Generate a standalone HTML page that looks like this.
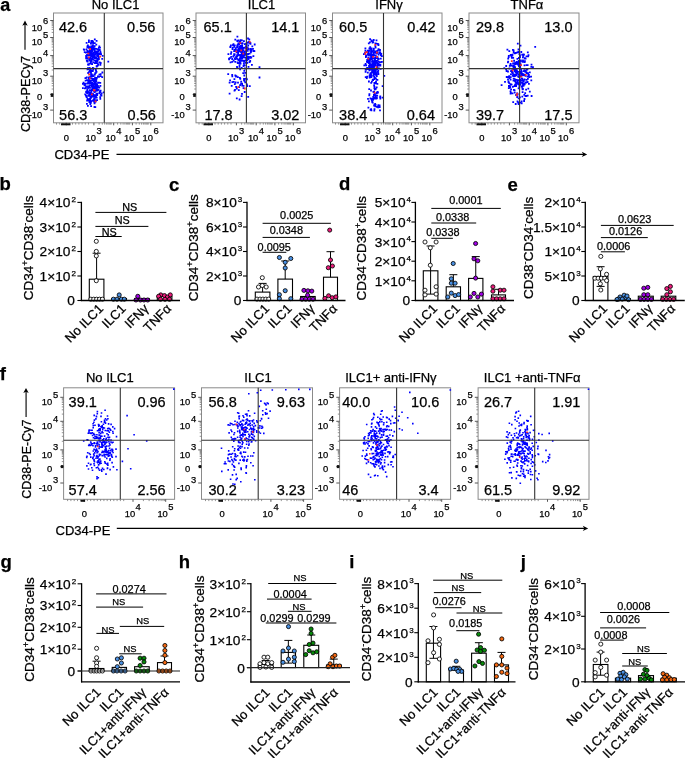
<!DOCTYPE html>
<html><head><meta charset="utf-8"><style>
html,body{margin:0;padding:0;background:#fff;width:685px;height:758px;overflow:hidden}
svg{display:block;will-change:transform}
text{font-family:"Liberation Sans", sans-serif;stroke:#000;stroke-width:0.25px}
</style></head><body>
<svg width="685" height="758" viewBox="0 0 685 758" font-family="Liberation Sans, sans-serif">
<rect width="685" height="758" fill="#fff"/>
<text x="0.20" y="11.00" font-size="18" text-anchor="start" font-weight="bold" fill="#000" >a</text>
<path d="M95.0 59.6h1.8v1.8h-1.8zM90.0 42.6h1.8v1.8h-1.8zM93.7 45.3h1.8v1.8h-1.8zM90.6 54.1h1.8v1.8h-1.8zM95.8 51.4h1.8v1.8h-1.8zM92.3 48.8h1.8v1.8h-1.8zM93.6 59.5h1.8v1.8h-1.8zM95.0 52.4h1.8v1.8h-1.8zM82.9 48.4h1.8v1.8h-1.8zM95.5 62.1h1.8v1.8h-1.8zM96.5 53.7h1.8v1.8h-1.8zM89.3 51.7h1.8v1.8h-1.8zM94.8 50.8h1.8v1.8h-1.8zM85.7 42.0h1.8v1.8h-1.8zM86.5 46.5h1.8v1.8h-1.8zM88.3 53.2h1.8v1.8h-1.8zM87.9 52.4h1.8v1.8h-1.8zM88.6 59.6h1.8v1.8h-1.8zM95.7 39.9h1.8v1.8h-1.8zM91.9 67.1h1.8v1.8h-1.8zM90.3 41.8h1.8v1.8h-1.8zM86.1 53.9h1.8v1.8h-1.8zM88.0 41.1h1.8v1.8h-1.8zM92.2 42.5h1.8v1.8h-1.8zM97.7 56.5h1.8v1.8h-1.8zM89.7 62.6h1.8v1.8h-1.8zM92.0 44.4h1.8v1.8h-1.8zM94.2 53.8h1.8v1.8h-1.8zM84.9 51.7h1.8v1.8h-1.8zM86.2 60.0h1.8v1.8h-1.8zM89.2 46.8h1.8v1.8h-1.8zM91.2 49.5h1.8v1.8h-1.8zM93.0 51.9h1.8v1.8h-1.8zM92.0 56.6h1.8v1.8h-1.8zM90.5 50.7h1.8v1.8h-1.8zM96.3 51.1h1.8v1.8h-1.8zM87.9 54.5h1.8v1.8h-1.8zM94.0 62.2h1.8v1.8h-1.8zM93.9 57.3h1.8v1.8h-1.8zM97.5 49.5h1.8v1.8h-1.8zM89.2 56.7h1.8v1.8h-1.8zM89.2 57.0h1.8v1.8h-1.8zM97.7 53.1h1.8v1.8h-1.8zM93.8 53.7h1.8v1.8h-1.8zM88.1 45.8h1.8v1.8h-1.8zM93.8 47.6h1.8v1.8h-1.8zM85.2 57.4h1.8v1.8h-1.8zM93.0 53.3h1.8v1.8h-1.8zM87.1 63.6h1.8v1.8h-1.8zM92.3 53.1h1.8v1.8h-1.8zM90.5 45.5h1.8v1.8h-1.8zM88.4 58.6h1.8v1.8h-1.8zM96.6 64.9h1.8v1.8h-1.8zM91.2 63.2h1.8v1.8h-1.8zM95.9 60.5h1.8v1.8h-1.8zM94.9 57.3h1.8v1.8h-1.8zM89.2 51.1h1.8v1.8h-1.8zM85.2 56.3h1.8v1.8h-1.8zM93.2 54.6h1.8v1.8h-1.8zM94.6 54.0h1.8v1.8h-1.8zM97.4 58.7h1.8v1.8h-1.8zM96.8 62.6h1.8v1.8h-1.8zM91.6 46.7h1.8v1.8h-1.8zM98.8 61.6h1.8v1.8h-1.8zM99.5 63.9h1.8v1.8h-1.8zM95.1 50.6h1.8v1.8h-1.8zM92.8 47.1h1.8v1.8h-1.8zM97.3 54.2h1.8v1.8h-1.8zM96.5 60.5h1.8v1.8h-1.8zM86.7 54.6h1.8v1.8h-1.8zM101.3 57.9h1.8v1.8h-1.8zM91.1 52.6h1.8v1.8h-1.8zM99.5 50.7h1.8v1.8h-1.8zM97.7 55.8h1.8v1.8h-1.8zM92.7 53.4h1.8v1.8h-1.8zM93.7 51.1h1.8v1.8h-1.8zM88.8 67.1h1.8v1.8h-1.8zM94.7 51.7h1.8v1.8h-1.8zM87.8 63.4h1.8v1.8h-1.8zM98.5 49.1h1.8v1.8h-1.8zM90.8 57.8h1.8v1.8h-1.8zM89.6 46.9h1.8v1.8h-1.8zM101.8 55.0h1.8v1.8h-1.8zM91.6 40.0h1.8v1.8h-1.8zM97.3 53.9h1.8v1.8h-1.8zM89.8 56.6h1.8v1.8h-1.8zM91.7 58.4h1.8v1.8h-1.8zM91.9 55.2h1.8v1.8h-1.8zM93.7 50.1h1.8v1.8h-1.8zM95.5 57.1h1.8v1.8h-1.8zM88.8 49.0h1.8v1.8h-1.8zM92.7 51.8h1.8v1.8h-1.8zM99.9 52.6h1.8v1.8h-1.8zM95.1 51.2h1.8v1.8h-1.8zM85.6 48.4h1.8v1.8h-1.8zM88.8 57.2h1.8v1.8h-1.8zM91.7 47.1h1.8v1.8h-1.8zM89.5 49.9h1.8v1.8h-1.8zM94.5 56.3h1.8v1.8h-1.8zM97.4 58.2h1.8v1.8h-1.8zM93.6 49.3h1.8v1.8h-1.8zM88.5 62.7h1.8v1.8h-1.8zM85.2 55.1h1.8v1.8h-1.8zM90.2 45.6h1.8v1.8h-1.8zM91.9 46.7h1.8v1.8h-1.8zM90.9 54.6h1.8v1.8h-1.8zM97.2 50.4h1.8v1.8h-1.8zM91.3 50.5h1.8v1.8h-1.8zM88.4 54.2h1.8v1.8h-1.8zM83.4 48.9h1.8v1.8h-1.8zM88.0 39.4h1.8v1.8h-1.8zM96.4 57.9h1.8v1.8h-1.8zM88.3 47.2h1.8v1.8h-1.8zM87.5 53.2h1.8v1.8h-1.8zM94.5 61.6h1.8v1.8h-1.8zM93.9 42.3h1.8v1.8h-1.8zM96.7 53.6h1.8v1.8h-1.8zM91.3 47.9h1.8v1.8h-1.8zM85.9 56.7h1.8v1.8h-1.8zM95.6 47.9h1.8v1.8h-1.8zM90.2 55.5h1.8v1.8h-1.8zM98.0 47.0h1.8v1.8h-1.8zM97.3 63.9h1.8v1.8h-1.8zM92.3 61.4h1.8v1.8h-1.8zM90.0 61.4h1.8v1.8h-1.8zM86.6 60.6h1.8v1.8h-1.8zM96.4 59.6h1.8v1.8h-1.8zM98.0 58.2h1.8v1.8h-1.8zM89.3 53.0h1.8v1.8h-1.8zM98.9 48.9h1.8v1.8h-1.8zM96.0 51.8h1.8v1.8h-1.8zM89.2 57.3h1.8v1.8h-1.8zM87.0 44.6h1.8v1.8h-1.8zM89.8 47.1h1.8v1.8h-1.8zM97.2 52.6h1.8v1.8h-1.8zM91.6 54.3h1.8v1.8h-1.8zM87.5 52.5h1.8v1.8h-1.8zM92.8 55.4h1.8v1.8h-1.8zM83.8 51.3h1.8v1.8h-1.8zM92.1 41.1h1.8v1.8h-1.8zM99.1 46.8h1.8v1.8h-1.8zM98.4 45.5h1.8v1.8h-1.8zM91.9 44.4h1.8v1.8h-1.8zM95.4 51.1h1.8v1.8h-1.8zM95.2 51.3h1.8v1.8h-1.8zM90.2 60.5h1.8v1.8h-1.8zM92.4 58.7h1.8v1.8h-1.8zM89.6 54.2h1.8v1.8h-1.8zM95.0 62.3h1.8v1.8h-1.8zM89.9 68.4h1.8v1.8h-1.8zM86.4 50.0h1.8v1.8h-1.8zM87.8 64.0h1.8v1.8h-1.8zM87.2 50.5h1.8v1.8h-1.8zM85.9 59.7h1.8v1.8h-1.8zM99.3 53.1h1.8v1.8h-1.8zM90.3 58.5h1.8v1.8h-1.8zM86.7 57.6h1.8v1.8h-1.8zM93.6 56.0h1.8v1.8h-1.8zM92.5 55.9h1.8v1.8h-1.8zM87.3 51.1h1.8v1.8h-1.8zM90.5 60.1h1.8v1.8h-1.8zM88.9 47.4h1.8v1.8h-1.8zM86.4 50.7h1.8v1.8h-1.8zM93.9 38.5h1.8v1.8h-1.8zM91.7 44.4h1.8v1.8h-1.8zM93.2 53.7h1.8v1.8h-1.8zM90.0 52.4h1.8v1.8h-1.8zM99.8 62.0h1.8v1.8h-1.8zM90.5 39.9h1.8v1.8h-1.8zM91.3 52.5h1.8v1.8h-1.8zM92.6 55.5h1.8v1.8h-1.8zM98.0 57.3h1.8v1.8h-1.8zM86.5 51.3h1.8v1.8h-1.8zM91.8 45.3h1.8v1.8h-1.8zM99.2 52.4h1.8v1.8h-1.8zM90.3 48.9h1.8v1.8h-1.8zM96.4 55.2h1.8v1.8h-1.8zM94.3 56.2h1.8v1.8h-1.8zM100.2 53.5h1.8v1.8h-1.8zM96.9 48.5h1.8v1.8h-1.8zM97.7 57.8h1.8v1.8h-1.8zM95.4 43.8h1.8v1.8h-1.8zM86.5 45.6h1.8v1.8h-1.8zM99.8 62.1h1.8v1.8h-1.8zM88.5 50.4h1.8v1.8h-1.8zM91.3 55.1h1.8v1.8h-1.8zM85.5 76.9h1.8v1.8h-1.8zM88.5 101.3h1.8v1.8h-1.8zM90.0 84.7h1.8v1.8h-1.8zM86.7 82.5h1.8v1.8h-1.8zM92.4 87.8h1.8v1.8h-1.8zM90.3 74.0h1.8v1.8h-1.8zM92.6 67.5h1.8v1.8h-1.8zM90.9 74.1h1.8v1.8h-1.8zM91.9 83.0h1.8v1.8h-1.8zM87.6 81.9h1.8v1.8h-1.8zM89.9 97.1h1.8v1.8h-1.8zM93.8 78.1h1.8v1.8h-1.8zM91.1 75.1h1.8v1.8h-1.8zM92.7 85.4h1.8v1.8h-1.8zM94.1 94.9h1.8v1.8h-1.8zM86.2 92.1h1.8v1.8h-1.8zM90.8 82.7h1.8v1.8h-1.8zM93.2 100.7h1.8v1.8h-1.8zM90.1 91.7h1.8v1.8h-1.8zM95.5 78.5h1.8v1.8h-1.8zM94.8 83.4h1.8v1.8h-1.8zM92.9 83.3h1.8v1.8h-1.8zM88.8 76.2h1.8v1.8h-1.8zM88.2 82.6h1.8v1.8h-1.8zM85.6 90.8h1.8v1.8h-1.8zM100.6 94.6h1.8v1.8h-1.8zM92.8 89.9h1.8v1.8h-1.8zM90.2 75.5h1.8v1.8h-1.8zM94.9 69.0h1.8v1.8h-1.8zM91.6 85.4h1.8v1.8h-1.8zM99.4 97.9h1.8v1.8h-1.8zM87.7 79.4h1.8v1.8h-1.8zM89.5 100.6h1.8v1.8h-1.8zM95.8 88.4h1.8v1.8h-1.8zM93.3 94.4h1.8v1.8h-1.8zM88.3 82.6h1.8v1.8h-1.8zM88.0 95.0h1.8v1.8h-1.8zM91.5 94.8h1.8v1.8h-1.8zM85.0 87.1h1.8v1.8h-1.8zM93.8 89.7h1.8v1.8h-1.8zM92.2 89.2h1.8v1.8h-1.8zM99.8 75.2h1.8v1.8h-1.8zM84.1 84.4h1.8v1.8h-1.8zM90.0 101.9h1.8v1.8h-1.8zM87.5 94.3h1.8v1.8h-1.8zM92.7 95.9h1.8v1.8h-1.8zM86.2 99.8h1.8v1.8h-1.8zM88.6 97.9h1.8v1.8h-1.8zM94.4 80.0h1.8v1.8h-1.8zM89.4 96.0h1.8v1.8h-1.8zM87.6 91.8h1.8v1.8h-1.8zM99.8 94.0h1.8v1.8h-1.8zM91.3 74.5h1.8v1.8h-1.8zM92.5 88.4h1.8v1.8h-1.8zM86.1 82.7h1.8v1.8h-1.8zM90.1 71.6h1.8v1.8h-1.8zM83.6 84.5h1.8v1.8h-1.8zM95.3 71.0h1.8v1.8h-1.8zM85.2 91.1h1.8v1.8h-1.8zM85.8 90.6h1.8v1.8h-1.8zM92.2 93.8h1.8v1.8h-1.8zM95.1 96.8h1.8v1.8h-1.8zM97.0 85.0h1.8v1.8h-1.8zM96.3 94.2h1.8v1.8h-1.8zM94.9 94.3h1.8v1.8h-1.8zM90.6 93.7h1.8v1.8h-1.8zM99.4 82.0h1.8v1.8h-1.8zM85.9 76.4h1.8v1.8h-1.8zM87.2 82.4h1.8v1.8h-1.8zM94.5 90.3h1.8v1.8h-1.8zM86.4 89.0h1.8v1.8h-1.8zM92.9 94.3h1.8v1.8h-1.8zM91.4 79.6h1.8v1.8h-1.8zM84.5 77.3h1.8v1.8h-1.8zM93.6 102.5h1.8v1.8h-1.8zM90.4 93.1h1.8v1.8h-1.8zM97.6 89.0h1.8v1.8h-1.8zM93.6 106.1h1.8v1.8h-1.8zM98.6 91.7h1.8v1.8h-1.8zM88.8 82.0h1.8v1.8h-1.8zM97.3 81.9h1.8v1.8h-1.8zM94.0 73.7h1.8v1.8h-1.8zM89.1 87.0h1.8v1.8h-1.8zM92.7 94.1h1.8v1.8h-1.8zM83.8 83.3h1.8v1.8h-1.8zM91.8 70.2h1.8v1.8h-1.8zM92.2 99.7h1.8v1.8h-1.8zM89.1 77.7h1.8v1.8h-1.8zM95.0 78.9h1.8v1.8h-1.8zM87.3 99.2h1.8v1.8h-1.8zM93.5 87.3h1.8v1.8h-1.8zM86.6 68.5h1.8v1.8h-1.8zM94.6 100.8h1.8v1.8h-1.8zM90.8 83.1h1.8v1.8h-1.8zM93.3 100.0h1.8v1.8h-1.8zM90.4 93.3h1.8v1.8h-1.8zM98.9 90.8h1.8v1.8h-1.8zM88.1 99.7h1.8v1.8h-1.8zM95.1 87.6h1.8v1.8h-1.8zM88.2 76.5h1.8v1.8h-1.8zM96.3 86.9h1.8v1.8h-1.8zM95.1 96.1h1.8v1.8h-1.8zM89.8 89.5h1.8v1.8h-1.8zM96.5 92.8h1.8v1.8h-1.8zM95.1 82.9h1.8v1.8h-1.8zM85.4 95.2h1.8v1.8h-1.8zM94.8 83.8h1.8v1.8h-1.8zM96.1 94.3h1.8v1.8h-1.8zM87.8 85.9h1.8v1.8h-1.8zM95.0 85.6h1.8v1.8h-1.8zM90.2 105.2h1.8v1.8h-1.8zM92.8 84.8h1.8v1.8h-1.8zM92.0 94.0h1.8v1.8h-1.8zM93.0 98.8h1.8v1.8h-1.8zM98.6 92.1h1.8v1.8h-1.8zM88.5 85.2h1.8v1.8h-1.8zM91.5 77.8h1.8v1.8h-1.8zM90.9 74.4h1.8v1.8h-1.8zM93.0 78.1h1.8v1.8h-1.8zM92.3 68.5h1.8v1.8h-1.8zM82.0 87.2h1.8v1.8h-1.8zM92.8 87.8h1.8v1.8h-1.8zM84.3 87.4h1.8v1.8h-1.8zM87.3 81.1h1.8v1.8h-1.8zM90.9 82.8h1.8v1.8h-1.8zM89.0 81.6h1.8v1.8h-1.8zM100.7 92.5h1.8v1.8h-1.8zM88.3 92.3h1.8v1.8h-1.8zM88.2 76.5h1.8v1.8h-1.8zM86.1 79.3h1.8v1.8h-1.8zM90.5 69.9h1.8v1.8h-1.8zM87.1 87.3h1.8v1.8h-1.8zM92.1 94.6h1.8v1.8h-1.8zM88.7 94.8h1.8v1.8h-1.8zM88.2 78.0h1.8v1.8h-1.8zM88.3 71.0h1.8v1.8h-1.8zM93.5 73.7h1.8v1.8h-1.8zM93.9 99.4h1.8v1.8h-1.8zM88.6 100.0h1.8v1.8h-1.8zM98.1 76.0h1.8v1.8h-1.8zM94.7 80.0h1.8v1.8h-1.8zM99.4 91.1h1.8v1.8h-1.8zM87.8 91.3h1.8v1.8h-1.8zM85.2 85.4h1.8v1.8h-1.8zM95.0 99.6h1.8v1.8h-1.8zM96.3 85.6h1.8v1.8h-1.8zM99.4 85.0h1.8v1.8h-1.8zM87.6 67.7h1.8v1.8h-1.8zM89.2 93.4h1.8v1.8h-1.8zM91.0 85.2h1.8v1.8h-1.8zM90.3 95.9h1.8v1.8h-1.8zM93.0 80.1h1.8v1.8h-1.8zM92.0 83.4h1.8v1.8h-1.8zM94.2 85.9h1.8v1.8h-1.8zM90.1 73.6h1.8v1.8h-1.8zM91.6 82.8h1.8v1.8h-1.8zM94.0 81.9h1.8v1.8h-1.8zM90.9 73.6h1.8v1.8h-1.8zM91.7 82.6h1.8v1.8h-1.8zM92.0 92.8h1.8v1.8h-1.8zM90.2 96.3h1.8v1.8h-1.8zM94.4 97.0h1.8v1.8h-1.8zM84.0 87.4h1.8v1.8h-1.8zM94.7 81.1h1.8v1.8h-1.8zM94.5 82.3h1.8v1.8h-1.8zM91.4 89.0h1.8v1.8h-1.8zM97.2 86.6h1.8v1.8h-1.8zM90.4 74.5h1.8v1.8h-1.8zM93.5 99.5h1.8v1.8h-1.8zM93.0 84.4h1.8v1.8h-1.8zM91.7 95.6h1.8v1.8h-1.8zM92.6 75.3h1.8v1.8h-1.8zM90.4 90.4h1.8v1.8h-1.8zM87.0 90.7h1.8v1.8h-1.8zM88.0 77.1h1.8v1.8h-1.8zM90.4 84.4h1.8v1.8h-1.8zM90.8 94.3h1.8v1.8h-1.8zM96.2 83.6h1.8v1.8h-1.8zM99.5 85.0h1.8v1.8h-1.8zM93.7 91.1h1.8v1.8h-1.8zM84.7 79.7h1.8v1.8h-1.8zM87.0 67.2h1.8v1.8h-1.8zM90.0 81.7h1.8v1.8h-1.8zM86.7 85.6h1.8v1.8h-1.8zM82.6 81.8h1.8v1.8h-1.8zM91.9 82.0h1.8v1.8h-1.8zM87.0 98.9h1.8v1.8h-1.8zM98.4 86.7h1.8v1.8h-1.8zM90.2 82.3h1.8v1.8h-1.8zM98.5 73.7h1.8v1.8h-1.8zM86.0 103.0h1.8v1.8h-1.8zM92.7 75.3h1.8v1.8h-1.8zM85.0 94.4h1.8v1.8h-1.8zM88.7 92.6h1.8v1.8h-1.8zM89.2 97.9h1.8v1.8h-1.8zM94.3 83.7h1.8v1.8h-1.8zM85.8 96.1h1.8v1.8h-1.8zM94.0 90.0h1.8v1.8h-1.8zM93.8 101.8h1.8v1.8h-1.8zM89.2 84.7h1.8v1.8h-1.8zM89.4 101.4h1.8v1.8h-1.8zM95.6 93.0h1.8v1.8h-1.8zM96.5 86.8h1.8v1.8h-1.8zM91.9 69.9h1.8v1.8h-1.8zM88.2 91.2h1.8v1.8h-1.8zM89.6 80.1h1.8v1.8h-1.8zM94.3 72.3h1.8v1.8h-1.8zM95.1 79.0h1.8v1.8h-1.8zM94.1 77.8h1.8v1.8h-1.8zM99.7 89.7h1.8v1.8h-1.8zM87.0 104.9h1.8v1.8h-1.8zM93.3 97.9h1.8v1.8h-1.8zM90.5 74.8h1.8v1.8h-1.8zM91.2 87.0h1.8v1.8h-1.8zM93.1 86.4h1.8v1.8h-1.8zM91.8 99.4h1.8v1.8h-1.8zM84.3 93.4h1.8v1.8h-1.8zM86.6 97.9h1.8v1.8h-1.8zM95.5 80.8h1.8v1.8h-1.8zM90.7 77.4h1.8v1.8h-1.8zM91.0 83.3h1.8v1.8h-1.8zM97.1 85.7h1.8v1.8h-1.8zM88.5 86.4h1.8v1.8h-1.8zM85.6 95.6h1.8v1.8h-1.8zM95.6 88.5h1.8v1.8h-1.8zM82.0 83.0h1.8v1.8h-1.8zM87.3 68.3h1.8v1.8h-1.8zM92.5 88.2h1.8v1.8h-1.8zM93.5 95.4h1.8v1.8h-1.8zM88.8 69.2h1.8v1.8h-1.8zM99.7 73.2h1.8v1.8h-1.8zM88.8 79.9h1.8v1.8h-1.8zM94.5 81.5h1.8v1.8h-1.8zM94.6 90.6h1.8v1.8h-1.8zM97.0 75.6h1.8v1.8h-1.8zM91.4 74.5h1.8v1.8h-1.8zM96.2 99.3h1.8v1.8h-1.8zM88.8 89.3h1.8v1.8h-1.8zM91.8 87.6h1.8v1.8h-1.8zM91.6 94.2h1.8v1.8h-1.8zM94.2 76.7h1.8v1.8h-1.8zM90.4 83.1h1.8v1.8h-1.8zM89.4 103.2h1.8v1.8h-1.8zM90.9 89.0h1.8v1.8h-1.8zM95.1 95.2h1.8v1.8h-1.8zM99.3 96.2h1.8v1.8h-1.8zM94.3 79.7h1.8v1.8h-1.8zM94.4 106.3h1.8v1.8h-1.8zM96.3 89.7h1.8v1.8h-1.8zM85.7 85.4h1.8v1.8h-1.8zM95.5 88.6h1.8v1.8h-1.8zM94.1 99.2h1.8v1.8h-1.8zM84.2 82.8h1.8v1.8h-1.8zM89.4 99.6h1.8v1.8h-1.8zM92.2 88.2h1.8v1.8h-1.8zM86.0 96.0h1.8v1.8h-1.8zM94.8 72.2h1.8v1.8h-1.8zM96.6 89.1h1.8v1.8h-1.8zM87.3 72.1h1.8v1.8h-1.8zM97.9 81.8h1.8v1.8h-1.8zM92.8 82.9h1.8v1.8h-1.8zM95.8 96.8h1.8v1.8h-1.8zM90.6 100.3h1.8v1.8h-1.8zM95.2 70.2h1.8v1.8h-1.8zM102.8 91.5h1.8v1.8h-1.8zM95.6 71.0h1.8v1.8h-1.8zM95.8 65.6h1.8v1.8h-1.8zM88.8 70.4h1.8v1.8h-1.8zM96.0 77.0h1.8v1.8h-1.8zM95.4 43.7h1.8v1.8h-1.8zM101.3 76.3h1.8v1.8h-1.8zM101.5 71.6h1.8v1.8h-1.8zM95.7 65.2h1.8v1.8h-1.8zM107.4 60.8h1.8v1.8h-1.8z" fill="#0000ff"/>
<path d="M87.5 52.7h1.8v1.8h-1.8zM89.2 48.1h1.8v1.8h-1.8zM99.3 55.8h1.8v1.8h-1.8zM88.0 56.5h1.8v1.8h-1.8zM93.6 89.8h1.8v1.8h-1.8zM88.2 73.6h1.8v1.8h-1.8zM89.0 77.4h1.8v1.8h-1.8zM94.6 100.5h1.8v1.8h-1.8zM91.0 93.5h1.8v1.8h-1.8zM93.0 89.1h1.8v1.8h-1.8z" fill="#ff2a2a"/>
<rect x="53.50" y="13.00" width="109.50" height="109.80" stroke="#8a8a8a" stroke-width="1" fill="none"/>
<line x1="104.30" y1="13.00" x2="104.30" y2="122.80" stroke="#333" stroke-width="1.1"/>
<line x1="53.50" y1="68.60" x2="163.00" y2="68.60" stroke="#333" stroke-width="1.1"/>
<text x="115.60" y="9.20" font-size="13" text-anchor="middle" font-weight="normal" fill="#000" >No ILC1</text>
<text x="58.90" y="32.40" font-size="14.5" text-anchor="start" font-weight="normal" fill="#000" >42.6</text>
<text x="155.30" y="32.40" font-size="14.5" text-anchor="end" font-weight="normal" fill="#000" >0.56</text>
<text x="59.10" y="120.20" font-size="14.5" text-anchor="start" font-weight="normal" fill="#000" >56.3</text>
<text x="155.80" y="120.20" font-size="14.5" text-anchor="end" font-weight="normal" fill="#000" >0.56</text>
<line x1="50.20" y1="20.50" x2="53.50" y2="20.50" stroke="#555" stroke-width="1"/>
<text transform="translate(42.20,31.40) scale(1.0,1)" font-size="9.4" text-anchor="end">10</text>
<text transform="translate(42.90,23.70) scale(1.0,1)" font-size="9.4" text-anchor="start">6</text>
<line x1="50.20" y1="37.50" x2="53.50" y2="37.50" stroke="#555" stroke-width="1"/>
<text transform="translate(42.20,45.30) scale(1.0,1)" font-size="9.4" text-anchor="end">10</text>
<text transform="translate(42.90,37.70) scale(1.0,1)" font-size="9.4" text-anchor="start">5</text>
<line x1="50.20" y1="55.60" x2="53.50" y2="55.60" stroke="#555" stroke-width="1"/>
<text transform="translate(42.20,63.40) scale(1.0,1)" font-size="9.4" text-anchor="end">10</text>
<text transform="translate(42.90,55.80) scale(1.0,1)" font-size="9.4" text-anchor="start">4</text>
<line x1="50.20" y1="76.20" x2="53.50" y2="76.20" stroke="#555" stroke-width="1"/>
<text transform="translate(42.20,84.00) scale(1.0,1)" font-size="9.4" text-anchor="end">10</text>
<text transform="translate(42.90,76.40) scale(1.0,1)" font-size="9.4" text-anchor="start">3</text>
<line x1="50.20" y1="94.50" x2="53.50" y2="94.50" stroke="#555" stroke-width="1"/>
<text transform="translate(42.10,100.10) scale(1.0,1)" font-size="9.4" text-anchor="end">0</text>
<line x1="50.20" y1="110.10" x2="53.50" y2="110.10" stroke="#555" stroke-width="1"/>
<text transform="translate(42.20,117.90) scale(1.0,1)" font-size="9.4" text-anchor="end">-10</text>
<text transform="translate(42.90,110.30) scale(1.0,1)" font-size="9.4" text-anchor="start">3</text>
<line x1="66.30" y1="122.80" x2="66.30" y2="125.30" stroke="#555" stroke-width="1"/>
<line x1="93.90" y1="122.80" x2="93.90" y2="125.30" stroke="#555" stroke-width="1"/>
<line x1="113.70" y1="122.80" x2="113.70" y2="125.30" stroke="#555" stroke-width="1"/>
<line x1="132.40" y1="122.80" x2="132.40" y2="125.30" stroke="#555" stroke-width="1"/>
<line x1="150.80" y1="122.80" x2="150.80" y2="125.30" stroke="#555" stroke-width="1"/>
<text transform="translate(66.30,140.50) scale(1.0,1)" font-size="9.4" text-anchor="middle">0</text>
<text transform="translate(85.60,140.50) scale(1.0,1)" font-size="9.4" text-anchor="start">10</text>
<text transform="translate(96.50,133.50) scale(1.0,1)" font-size="9.4" text-anchor="start">3</text>
<text transform="translate(105.40,140.50) scale(1.0,1)" font-size="9.4" text-anchor="start">10</text>
<text transform="translate(116.30,133.50) scale(1.0,1)" font-size="9.4" text-anchor="start">4</text>
<text transform="translate(124.10,140.50) scale(1.0,1)" font-size="9.4" text-anchor="start">10</text>
<text transform="translate(135.00,133.50) scale(1.0,1)" font-size="9.4" text-anchor="start">5</text>
<text transform="translate(142.50,140.50) scale(1.0,1)" font-size="9.4" text-anchor="start">10</text>
<text transform="translate(153.40,133.50) scale(1.0,1)" font-size="9.4" text-anchor="start">6</text>
<path d="M51.7 32.4h1.8M51.7 29.4h1.8M51.7 27.3h1.8M51.7 25.6h1.8M51.7 24.3h1.8M51.7 23.1h1.8M51.7 22.1h1.8M51.7 21.3h1.8M51.7 50.2h1.8M51.7 47.0h1.8M51.7 44.7h1.8M51.7 42.9h1.8M51.7 41.5h1.8M51.7 40.3h1.8M51.7 39.3h1.8M51.7 38.3h1.8M51.7 70.0h1.8M51.7 66.4h1.8M51.7 63.8h1.8M51.7 61.8h1.8M51.7 60.2h1.8M51.7 58.8h1.8M51.7 57.6h1.8M51.7 56.5h1.8M51.7 89.0h1.8M51.7 85.8h1.8M51.7 83.5h1.8M51.7 81.7h1.8M51.7 80.3h1.8M51.7 79.0h1.8M51.7 78.0h1.8M51.7 77.0h1.8" stroke="#777" stroke-width="0.8" fill="none"/>
<path d="M99.1 122.8v1.8M102.3 122.8v1.8M104.6 122.8v1.8M106.4 122.8v1.8M107.9 122.8v1.8M109.1 122.8v1.8M110.2 122.8v1.8M111.2 122.8v1.8M117.6 122.8v1.8M120.8 122.8v1.8M123.1 122.8v1.8M124.9 122.8v1.8M126.4 122.8v1.8M127.6 122.8v1.8M128.7 122.8v1.8M129.7 122.8v1.8M136.1 122.8v1.8M139.3 122.8v1.8M141.6 122.8v1.8M143.4 122.8v1.8M144.9 122.8v1.8M146.1 122.8v1.8M147.2 122.8v1.8M148.2 122.8v1.8M56.5 122.8v1.8M59.7 122.8v1.8M62.9 122.8v1.8M66.1 122.8v1.8M69.3 122.8v1.8M72.5 122.8v1.8M75.7 122.8v1.8M78.9 122.8v1.8M82.1 122.8v1.8M85.3 122.8v1.8M88.5 122.8v1.8" stroke="#777" stroke-width="0.8" fill="none"/>
<rect x="61.0" y="123.3" width="9.5" height="2" fill="#111"/>
<rect x="50.7" y="93.3" width="2.6" height="3.6" fill="#111"/>
<path d="M237.2 49.6h1.8v1.8h-1.8zM246.3 48.1h1.8v1.8h-1.8zM241.4 57.2h1.8v1.8h-1.8zM239.1 47.2h1.8v1.8h-1.8zM243.9 54.1h1.8v1.8h-1.8zM241.2 44.9h1.8v1.8h-1.8zM236.7 61.5h1.8v1.8h-1.8zM242.1 59.7h1.8v1.8h-1.8zM248.8 61.0h1.8v1.8h-1.8zM234.4 38.7h1.8v1.8h-1.8zM236.1 57.4h1.8v1.8h-1.8zM240.2 51.3h1.8v1.8h-1.8zM240.3 51.0h1.8v1.8h-1.8zM241.4 53.6h1.8v1.8h-1.8zM243.5 53.7h1.8v1.8h-1.8zM239.8 44.9h1.8v1.8h-1.8zM233.8 53.4h1.8v1.8h-1.8zM236.1 66.0h1.8v1.8h-1.8zM240.2 51.3h1.8v1.8h-1.8zM245.7 53.4h1.8v1.8h-1.8zM248.4 41.9h1.8v1.8h-1.8zM237.8 39.6h1.8v1.8h-1.8zM241.3 48.0h1.8v1.8h-1.8zM243.0 40.2h1.8v1.8h-1.8zM229.0 57.2h1.8v1.8h-1.8zM252.1 47.9h1.8v1.8h-1.8zM247.2 55.9h1.8v1.8h-1.8zM239.3 54.1h1.8v1.8h-1.8zM241.6 49.1h1.8v1.8h-1.8zM240.5 57.1h1.8v1.8h-1.8zM252.9 50.1h1.8v1.8h-1.8zM247.5 58.2h1.8v1.8h-1.8zM248.7 52.8h1.8v1.8h-1.8zM233.2 54.5h1.8v1.8h-1.8zM240.8 58.0h1.8v1.8h-1.8zM233.7 49.0h1.8v1.8h-1.8zM244.9 49.6h1.8v1.8h-1.8zM245.1 47.3h1.8v1.8h-1.8zM240.9 54.7h1.8v1.8h-1.8zM244.4 56.7h1.8v1.8h-1.8zM232.4 55.6h1.8v1.8h-1.8zM238.4 45.4h1.8v1.8h-1.8zM237.6 50.8h1.8v1.8h-1.8zM236.9 62.2h1.8v1.8h-1.8zM240.9 60.0h1.8v1.8h-1.8zM240.0 54.1h1.8v1.8h-1.8zM250.0 51.4h1.8v1.8h-1.8zM238.2 46.9h1.8v1.8h-1.8zM250.0 48.1h1.8v1.8h-1.8zM253.5 50.3h1.8v1.8h-1.8zM235.1 56.3h1.8v1.8h-1.8zM238.1 49.2h1.8v1.8h-1.8zM241.8 49.9h1.8v1.8h-1.8zM239.7 62.6h1.8v1.8h-1.8zM250.8 50.0h1.8v1.8h-1.8zM240.1 47.8h1.8v1.8h-1.8zM236.6 54.9h1.8v1.8h-1.8zM242.6 65.1h1.8v1.8h-1.8zM240.9 56.9h1.8v1.8h-1.8zM239.5 42.1h1.8v1.8h-1.8zM243.1 60.4h1.8v1.8h-1.8zM246.6 47.6h1.8v1.8h-1.8zM246.8 46.4h1.8v1.8h-1.8zM242.4 54.6h1.8v1.8h-1.8zM233.5 44.4h1.8v1.8h-1.8zM238.0 54.3h1.8v1.8h-1.8zM238.8 61.0h1.8v1.8h-1.8zM239.3 57.3h1.8v1.8h-1.8zM234.8 58.2h1.8v1.8h-1.8zM248.4 38.6h1.8v1.8h-1.8zM236.3 67.1h1.8v1.8h-1.8zM241.5 56.1h1.8v1.8h-1.8zM228.2 58.4h1.8v1.8h-1.8zM241.0 39.4h1.8v1.8h-1.8zM241.2 46.7h1.8v1.8h-1.8zM252.5 55.3h1.8v1.8h-1.8zM233.4 45.9h1.8v1.8h-1.8zM238.2 45.4h1.8v1.8h-1.8zM247.9 48.1h1.8v1.8h-1.8zM241.7 49.9h1.8v1.8h-1.8zM247.7 58.0h1.8v1.8h-1.8zM241.6 50.2h1.8v1.8h-1.8zM247.1 37.6h1.8v1.8h-1.8zM236.6 39.7h1.8v1.8h-1.8zM239.3 40.7h1.8v1.8h-1.8zM232.7 59.6h1.8v1.8h-1.8zM227.5 53.3h1.8v1.8h-1.8zM241.6 50.2h1.8v1.8h-1.8zM240.3 50.9h1.8v1.8h-1.8zM238.7 62.2h1.8v1.8h-1.8zM240.6 56.1h1.8v1.8h-1.8zM243.0 53.4h1.8v1.8h-1.8zM246.4 57.4h1.8v1.8h-1.8zM230.3 55.9h1.8v1.8h-1.8zM241.7 54.6h1.8v1.8h-1.8zM248.1 41.1h1.8v1.8h-1.8zM239.9 39.3h1.8v1.8h-1.8zM249.5 56.1h1.8v1.8h-1.8zM244.9 52.5h1.8v1.8h-1.8zM233.2 50.2h1.8v1.8h-1.8zM229.6 45.7h1.8v1.8h-1.8zM231.6 48.1h1.8v1.8h-1.8zM245.2 59.4h1.8v1.8h-1.8zM242.9 54.9h1.8v1.8h-1.8zM239.4 55.9h1.8v1.8h-1.8zM231.3 58.1h1.8v1.8h-1.8zM241.3 49.2h1.8v1.8h-1.8zM240.2 51.2h1.8v1.8h-1.8zM242.9 56.5h1.8v1.8h-1.8zM245.5 62.1h1.8v1.8h-1.8zM240.8 66.9h1.8v1.8h-1.8zM241.6 42.2h1.8v1.8h-1.8zM247.3 44.4h1.8v1.8h-1.8zM236.2 49.2h1.8v1.8h-1.8zM247.6 66.0h1.8v1.8h-1.8zM243.3 52.3h1.8v1.8h-1.8zM249.5 42.1h1.8v1.8h-1.8zM228.1 57.7h1.8v1.8h-1.8zM245.3 56.7h1.8v1.8h-1.8zM241.9 55.5h1.8v1.8h-1.8zM229.6 61.5h1.8v1.8h-1.8zM233.9 44.5h1.8v1.8h-1.8zM249.6 42.9h1.8v1.8h-1.8zM241.2 47.5h1.8v1.8h-1.8zM234.4 60.9h1.8v1.8h-1.8zM248.3 41.1h1.8v1.8h-1.8zM237.2 52.4h1.8v1.8h-1.8zM243.7 59.8h1.8v1.8h-1.8zM237.7 47.9h1.8v1.8h-1.8zM237.9 59.1h1.8v1.8h-1.8zM240.0 50.0h1.8v1.8h-1.8zM230.1 53.0h1.8v1.8h-1.8zM250.1 56.8h1.8v1.8h-1.8zM239.1 57.7h1.8v1.8h-1.8zM242.7 47.8h1.8v1.8h-1.8zM235.8 51.4h1.8v1.8h-1.8zM230.0 44.4h1.8v1.8h-1.8zM240.0 50.3h1.8v1.8h-1.8zM236.2 55.3h1.8v1.8h-1.8zM231.8 46.8h1.8v1.8h-1.8zM230.4 51.3h1.8v1.8h-1.8zM241.8 52.0h1.8v1.8h-1.8zM242.4 47.1h1.8v1.8h-1.8zM242.2 49.8h1.8v1.8h-1.8zM241.1 53.2h1.8v1.8h-1.8zM238.4 43.2h1.8v1.8h-1.8zM238.4 50.5h1.8v1.8h-1.8zM249.3 60.1h1.8v1.8h-1.8zM239.4 45.4h1.8v1.8h-1.8zM236.5 49.4h1.8v1.8h-1.8zM240.8 49.1h1.8v1.8h-1.8zM247.2 53.1h1.8v1.8h-1.8zM237.1 51.4h1.8v1.8h-1.8zM238.6 64.2h1.8v1.8h-1.8zM246.8 49.9h1.8v1.8h-1.8zM243.9 46.8h1.8v1.8h-1.8zM243.8 50.9h1.8v1.8h-1.8zM237.4 42.4h1.8v1.8h-1.8zM238.6 66.0h1.8v1.8h-1.8zM244.7 61.7h1.8v1.8h-1.8zM251.4 45.5h1.8v1.8h-1.8zM241.3 55.0h1.8v1.8h-1.8zM235.5 55.4h1.8v1.8h-1.8zM232.6 43.2h1.8v1.8h-1.8zM241.2 43.0h1.8v1.8h-1.8zM234.2 50.1h1.8v1.8h-1.8zM245.7 43.0h1.8v1.8h-1.8zM234.6 48.7h1.8v1.8h-1.8zM245.5 57.1h1.8v1.8h-1.8zM239.9 49.6h1.8v1.8h-1.8zM238.6 58.3h1.8v1.8h-1.8zM246.4 59.4h1.8v1.8h-1.8zM236.2 45.2h1.8v1.8h-1.8zM248.7 61.2h1.8v1.8h-1.8zM246.4 41.7h1.8v1.8h-1.8zM240.0 54.3h1.8v1.8h-1.8zM232.1 44.1h1.8v1.8h-1.8zM242.1 53.9h1.8v1.8h-1.8zM249.5 49.8h1.8v1.8h-1.8zM231.4 61.0h1.8v1.8h-1.8zM250.4 56.5h1.8v1.8h-1.8zM238.7 41.4h1.8v1.8h-1.8zM236.2 54.3h1.8v1.8h-1.8zM241.4 45.4h1.8v1.8h-1.8zM237.1 58.7h1.8v1.8h-1.8zM245.3 49.9h1.8v1.8h-1.8zM236.2 46.4h1.8v1.8h-1.8zM236.7 44.0h1.8v1.8h-1.8zM243.9 64.4h1.8v1.8h-1.8zM233.2 53.2h1.8v1.8h-1.8zM245.4 57.4h1.8v1.8h-1.8zM239.5 59.7h1.8v1.8h-1.8zM242.9 63.0h1.8v1.8h-1.8zM244.0 50.5h1.8v1.8h-1.8zM234.0 57.6h1.8v1.8h-1.8zM234.8 47.3h1.8v1.8h-1.8zM250.7 48.7h1.8v1.8h-1.8zM240.7 50.0h1.8v1.8h-1.8zM236.5 35.7h1.8v1.8h-1.8zM239.4 46.5h1.8v1.8h-1.8zM240.8 52.9h1.8v1.8h-1.8zM236.8 44.0h1.8v1.8h-1.8zM236.4 40.1h1.8v1.8h-1.8zM243.0 53.4h1.8v1.8h-1.8zM245.4 59.1h1.8v1.8h-1.8zM243.3 60.0h1.8v1.8h-1.8zM245.0 52.6h1.8v1.8h-1.8zM246.6 55.6h1.8v1.8h-1.8zM238.2 48.9h1.8v1.8h-1.8zM239.3 61.7h1.8v1.8h-1.8zM229.4 46.1h1.8v1.8h-1.8zM238.5 47.0h1.8v1.8h-1.8zM245.1 45.3h1.8v1.8h-1.8zM242.7 85.0h1.8v1.8h-1.8zM244.0 78.0h1.8v1.8h-1.8zM231.3 74.1h1.8v1.8h-1.8zM247.3 95.9h1.8v1.8h-1.8zM241.3 84.6h1.8v1.8h-1.8zM227.3 73.2h1.8v1.8h-1.8zM233.5 78.2h1.8v1.8h-1.8zM243.7 79.9h1.8v1.8h-1.8zM240.2 82.8h1.8v1.8h-1.8zM233.6 89.8h1.8v1.8h-1.8zM238.7 98.6h1.8v1.8h-1.8zM234.1 89.0h1.8v1.8h-1.8zM237.1 81.7h1.8v1.8h-1.8zM231.4 75.4h1.8v1.8h-1.8zM238.3 86.3h1.8v1.8h-1.8zM235.2 85.9h1.8v1.8h-1.8zM239.2 68.5h1.8v1.8h-1.8zM228.7 92.7h1.8v1.8h-1.8zM241.2 82.8h1.8v1.8h-1.8zM239.4 78.0h1.8v1.8h-1.8zM243.1 79.5h1.8v1.8h-1.8zM243.4 74.6h1.8v1.8h-1.8zM246.0 83.5h1.8v1.8h-1.8zM228.7 81.7h1.8v1.8h-1.8zM242.3 72.3h1.8v1.8h-1.8zM244.3 71.9h1.8v1.8h-1.8zM241.1 92.9h1.8v1.8h-1.8zM244.0 67.6h1.8v1.8h-1.8zM239.2 84.3h1.8v1.8h-1.8zM231.5 81.2h1.8v1.8h-1.8zM233.9 83.3h1.8v1.8h-1.8zM235.9 97.4h1.8v1.8h-1.8zM243.1 78.1h1.8v1.8h-1.8zM234.7 81.6h1.8v1.8h-1.8zM245.5 77.8h1.8v1.8h-1.8zM246.3 85.1h1.8v1.8h-1.8zM244.3 81.5h1.8v1.8h-1.8zM235.5 75.2h1.8v1.8h-1.8zM240.3 80.8h1.8v1.8h-1.8zM235.1 75.8h1.8v1.8h-1.8zM242.9 62.6h1.8v1.8h-1.8zM246.0 78.4h1.8v1.8h-1.8zM229.2 79.5h1.8v1.8h-1.8zM232.7 80.9h1.8v1.8h-1.8zM243.4 69.9h1.8v1.8h-1.8zM242.6 87.2h1.8v1.8h-1.8zM235.9 87.8h1.8v1.8h-1.8zM243.8 91.1h1.8v1.8h-1.8zM240.7 95.2h1.8v1.8h-1.8zM237.9 89.2h1.8v1.8h-1.8zM234.4 74.6h1.8v1.8h-1.8zM230.8 84.9h1.8v1.8h-1.8zM239.0 77.0h1.8v1.8h-1.8zM243.8 43.3h1.8v1.8h-1.8zM258.6 66.2h1.8v1.8h-1.8zM237.0 76.2h1.8v1.8h-1.8zM249.6 56.9h1.8v1.8h-1.8zM247.4 41.4h1.8v1.8h-1.8zM253.8 43.6h1.8v1.8h-1.8zM251.0 63.9h1.8v1.8h-1.8zM258.6 76.6h1.8v1.8h-1.8zM248.1 56.3h1.8v1.8h-1.8zM245.4 42.7h1.8v1.8h-1.8zM248.9 85.3h1.8v1.8h-1.8zM246.4 61.9h1.8v1.8h-1.8z" fill="#0000ff"/>
<path d="M235.3 50.5h1.8v1.8h-1.8zM245.6 47.2h1.8v1.8h-1.8zM245.3 49.3h1.8v1.8h-1.8zM242.4 52.7h1.8v1.8h-1.8zM248.8 41.0h1.8v1.8h-1.8zM240.3 49.5h1.8v1.8h-1.8zM239.3 41.9h1.8v1.8h-1.8zM237.3 86.3h1.8v1.8h-1.8zM243.8 87.6h1.8v1.8h-1.8z" fill="#ff2a2a"/>
<rect x="196.00" y="13.00" width="109.50" height="109.80" stroke="#8a8a8a" stroke-width="1" fill="none"/>
<line x1="246.40" y1="13.00" x2="246.40" y2="122.80" stroke="#333" stroke-width="1.1"/>
<line x1="196.00" y1="68.60" x2="305.50" y2="68.60" stroke="#333" stroke-width="1.1"/>
<text x="261.50" y="9.20" font-size="13" text-anchor="middle" font-weight="normal" fill="#000" >ILC1</text>
<text x="203.50" y="32.40" font-size="14.5" text-anchor="start" font-weight="normal" fill="#000" >65.1</text>
<text x="299.40" y="32.40" font-size="14.5" text-anchor="end" font-weight="normal" fill="#000" >14.1</text>
<text x="204.40" y="120.20" font-size="14.5" text-anchor="start" font-weight="normal" fill="#000" >17.8</text>
<text x="299.40" y="120.20" font-size="14.5" text-anchor="end" font-weight="normal" fill="#000" >3.02</text>
<line x1="192.70" y1="20.50" x2="196.00" y2="20.50" stroke="#555" stroke-width="1"/>
<text transform="translate(184.70,31.40) scale(1.0,1)" font-size="9.4" text-anchor="end">10</text>
<text transform="translate(185.40,23.70) scale(1.0,1)" font-size="9.4" text-anchor="start">6</text>
<line x1="192.70" y1="37.50" x2="196.00" y2="37.50" stroke="#555" stroke-width="1"/>
<text transform="translate(184.70,45.30) scale(1.0,1)" font-size="9.4" text-anchor="end">10</text>
<text transform="translate(185.40,37.70) scale(1.0,1)" font-size="9.4" text-anchor="start">5</text>
<line x1="192.70" y1="55.60" x2="196.00" y2="55.60" stroke="#555" stroke-width="1"/>
<text transform="translate(184.70,63.40) scale(1.0,1)" font-size="9.4" text-anchor="end">10</text>
<text transform="translate(185.40,55.80) scale(1.0,1)" font-size="9.4" text-anchor="start">4</text>
<line x1="192.70" y1="76.20" x2="196.00" y2="76.20" stroke="#555" stroke-width="1"/>
<text transform="translate(184.70,84.00) scale(1.0,1)" font-size="9.4" text-anchor="end">10</text>
<text transform="translate(185.40,76.40) scale(1.0,1)" font-size="9.4" text-anchor="start">3</text>
<line x1="192.70" y1="94.50" x2="196.00" y2="94.50" stroke="#555" stroke-width="1"/>
<text transform="translate(184.60,100.10) scale(1.0,1)" font-size="9.4" text-anchor="end">0</text>
<line x1="192.70" y1="110.10" x2="196.00" y2="110.10" stroke="#555" stroke-width="1"/>
<text transform="translate(184.70,117.90) scale(1.0,1)" font-size="9.4" text-anchor="end">-10</text>
<text transform="translate(185.40,110.30) scale(1.0,1)" font-size="9.4" text-anchor="start">3</text>
<line x1="208.80" y1="122.80" x2="208.80" y2="125.30" stroke="#555" stroke-width="1"/>
<line x1="236.40" y1="122.80" x2="236.40" y2="125.30" stroke="#555" stroke-width="1"/>
<line x1="256.20" y1="122.80" x2="256.20" y2="125.30" stroke="#555" stroke-width="1"/>
<line x1="274.90" y1="122.80" x2="274.90" y2="125.30" stroke="#555" stroke-width="1"/>
<line x1="293.30" y1="122.80" x2="293.30" y2="125.30" stroke="#555" stroke-width="1"/>
<text transform="translate(208.80,140.50) scale(1.0,1)" font-size="9.4" text-anchor="middle">0</text>
<text transform="translate(228.10,140.50) scale(1.0,1)" font-size="9.4" text-anchor="start">10</text>
<text transform="translate(239.00,133.50) scale(1.0,1)" font-size="9.4" text-anchor="start">3</text>
<text transform="translate(247.90,140.50) scale(1.0,1)" font-size="9.4" text-anchor="start">10</text>
<text transform="translate(258.80,133.50) scale(1.0,1)" font-size="9.4" text-anchor="start">4</text>
<text transform="translate(266.60,140.50) scale(1.0,1)" font-size="9.4" text-anchor="start">10</text>
<text transform="translate(277.50,133.50) scale(1.0,1)" font-size="9.4" text-anchor="start">5</text>
<text transform="translate(285.00,140.50) scale(1.0,1)" font-size="9.4" text-anchor="start">10</text>
<text transform="translate(295.90,133.50) scale(1.0,1)" font-size="9.4" text-anchor="start">6</text>
<path d="M194.2 32.4h1.8M194.2 29.4h1.8M194.2 27.3h1.8M194.2 25.6h1.8M194.2 24.3h1.8M194.2 23.1h1.8M194.2 22.1h1.8M194.2 21.3h1.8M194.2 50.2h1.8M194.2 47.0h1.8M194.2 44.7h1.8M194.2 42.9h1.8M194.2 41.5h1.8M194.2 40.3h1.8M194.2 39.3h1.8M194.2 38.3h1.8M194.2 70.0h1.8M194.2 66.4h1.8M194.2 63.8h1.8M194.2 61.8h1.8M194.2 60.2h1.8M194.2 58.8h1.8M194.2 57.6h1.8M194.2 56.5h1.8M194.2 89.0h1.8M194.2 85.8h1.8M194.2 83.5h1.8M194.2 81.7h1.8M194.2 80.3h1.8M194.2 79.0h1.8M194.2 78.0h1.8M194.2 77.0h1.8" stroke="#777" stroke-width="0.8" fill="none"/>
<path d="M241.6 122.8v1.8M244.8 122.8v1.8M247.1 122.8v1.8M248.9 122.8v1.8M250.4 122.8v1.8M251.6 122.8v1.8M252.7 122.8v1.8M253.7 122.8v1.8M260.1 122.8v1.8M263.3 122.8v1.8M265.6 122.8v1.8M267.4 122.8v1.8M268.9 122.8v1.8M270.1 122.8v1.8M271.2 122.8v1.8M272.2 122.8v1.8M278.6 122.8v1.8M281.8 122.8v1.8M284.1 122.8v1.8M285.9 122.8v1.8M287.4 122.8v1.8M288.6 122.8v1.8M289.7 122.8v1.8M290.7 122.8v1.8M199.0 122.8v1.8M202.2 122.8v1.8M205.4 122.8v1.8M208.6 122.8v1.8M211.8 122.8v1.8M215.0 122.8v1.8M218.2 122.8v1.8M221.4 122.8v1.8M224.6 122.8v1.8M227.8 122.8v1.8M231.0 122.8v1.8" stroke="#777" stroke-width="0.8" fill="none"/>
<rect x="203.5" y="123.3" width="9.5" height="2" fill="#111"/>
<rect x="193.2" y="93.3" width="2.6" height="3.6" fill="#111"/>
<path d="M375.5 74.2h1.8v1.8h-1.8zM370.7 47.4h1.8v1.8h-1.8zM368.0 52.4h1.8v1.8h-1.8zM366.3 59.1h1.8v1.8h-1.8zM377.0 49.7h1.8v1.8h-1.8zM372.3 67.7h1.8v1.8h-1.8zM369.9 48.0h1.8v1.8h-1.8zM369.0 61.9h1.8v1.8h-1.8zM375.6 74.1h1.8v1.8h-1.8zM370.5 54.7h1.8v1.8h-1.8zM368.8 76.6h1.8v1.8h-1.8zM371.9 50.3h1.8v1.8h-1.8zM374.1 58.4h1.8v1.8h-1.8zM367.0 53.8h1.8v1.8h-1.8zM367.8 57.8h1.8v1.8h-1.8zM378.0 48.8h1.8v1.8h-1.8zM366.4 67.0h1.8v1.8h-1.8zM370.3 52.0h1.8v1.8h-1.8zM364.5 47.6h1.8v1.8h-1.8zM367.8 60.1h1.8v1.8h-1.8zM374.4 59.7h1.8v1.8h-1.8zM377.5 44.3h1.8v1.8h-1.8zM371.8 78.7h1.8v1.8h-1.8zM373.1 73.7h1.8v1.8h-1.8zM372.8 73.2h1.8v1.8h-1.8zM369.0 63.0h1.8v1.8h-1.8zM370.2 66.0h1.8v1.8h-1.8zM374.6 71.3h1.8v1.8h-1.8zM371.4 50.7h1.8v1.8h-1.8zM373.3 70.5h1.8v1.8h-1.8zM373.4 73.7h1.8v1.8h-1.8zM374.2 51.3h1.8v1.8h-1.8zM370.1 55.8h1.8v1.8h-1.8zM375.6 79.0h1.8v1.8h-1.8zM371.5 69.6h1.8v1.8h-1.8zM369.2 38.3h1.8v1.8h-1.8zM377.8 58.1h1.8v1.8h-1.8zM373.7 54.5h1.8v1.8h-1.8zM370.8 40.1h1.8v1.8h-1.8zM374.9 71.4h1.8v1.8h-1.8zM363.4 64.5h1.8v1.8h-1.8zM370.8 67.0h1.8v1.8h-1.8zM369.0 64.4h1.8v1.8h-1.8zM377.5 62.8h1.8v1.8h-1.8zM363.0 53.3h1.8v1.8h-1.8zM373.5 60.8h1.8v1.8h-1.8zM376.9 64.5h1.8v1.8h-1.8zM368.1 54.8h1.8v1.8h-1.8zM379.1 49.1h1.8v1.8h-1.8zM377.2 58.5h1.8v1.8h-1.8zM371.3 57.1h1.8v1.8h-1.8zM370.3 56.0h1.8v1.8h-1.8zM374.4 64.8h1.8v1.8h-1.8zM373.2 84.6h1.8v1.8h-1.8zM369.5 72.6h1.8v1.8h-1.8zM375.0 60.2h1.8v1.8h-1.8zM372.6 67.1h1.8v1.8h-1.8zM369.4 72.8h1.8v1.8h-1.8zM373.2 64.0h1.8v1.8h-1.8zM372.8 61.9h1.8v1.8h-1.8zM379.9 61.3h1.8v1.8h-1.8zM376.5 66.3h1.8v1.8h-1.8zM368.5 69.5h1.8v1.8h-1.8zM366.4 75.8h1.8v1.8h-1.8zM372.4 71.6h1.8v1.8h-1.8zM371.7 41.8h1.8v1.8h-1.8zM379.0 51.2h1.8v1.8h-1.8zM371.6 66.5h1.8v1.8h-1.8zM377.6 44.0h1.8v1.8h-1.8zM372.2 64.3h1.8v1.8h-1.8zM373.2 78.3h1.8v1.8h-1.8zM374.7 46.7h1.8v1.8h-1.8zM376.5 59.9h1.8v1.8h-1.8zM371.4 53.9h1.8v1.8h-1.8zM374.0 71.8h1.8v1.8h-1.8zM377.2 62.8h1.8v1.8h-1.8zM371.7 65.9h1.8v1.8h-1.8zM371.0 66.3h1.8v1.8h-1.8zM371.3 58.0h1.8v1.8h-1.8zM376.1 68.2h1.8v1.8h-1.8zM377.5 43.8h1.8v1.8h-1.8zM371.0 71.4h1.8v1.8h-1.8zM366.0 61.0h1.8v1.8h-1.8zM373.5 72.1h1.8v1.8h-1.8zM368.0 80.6h1.8v1.8h-1.8zM376.9 63.2h1.8v1.8h-1.8zM367.9 62.0h1.8v1.8h-1.8zM376.9 43.0h1.8v1.8h-1.8zM368.7 74.5h1.8v1.8h-1.8zM369.7 68.7h1.8v1.8h-1.8zM374.5 57.0h1.8v1.8h-1.8zM374.2 70.8h1.8v1.8h-1.8zM377.0 70.8h1.8v1.8h-1.8zM373.1 54.3h1.8v1.8h-1.8zM374.5 61.1h1.8v1.8h-1.8zM376.2 60.0h1.8v1.8h-1.8zM376.5 79.0h1.8v1.8h-1.8zM375.9 52.3h1.8v1.8h-1.8zM381.0 60.9h1.8v1.8h-1.8zM366.3 51.0h1.8v1.8h-1.8zM373.0 69.7h1.8v1.8h-1.8zM374.6 50.5h1.8v1.8h-1.8zM367.7 52.3h1.8v1.8h-1.8zM372.9 49.7h1.8v1.8h-1.8zM369.9 58.3h1.8v1.8h-1.8zM376.5 82.9h1.8v1.8h-1.8zM372.9 68.9h1.8v1.8h-1.8zM368.1 64.9h1.8v1.8h-1.8zM370.9 67.0h1.8v1.8h-1.8zM377.5 73.3h1.8v1.8h-1.8zM376.1 60.0h1.8v1.8h-1.8zM369.5 73.6h1.8v1.8h-1.8zM372.5 52.2h1.8v1.8h-1.8zM372.5 74.7h1.8v1.8h-1.8zM372.9 70.8h1.8v1.8h-1.8zM368.9 68.3h1.8v1.8h-1.8zM369.0 41.5h1.8v1.8h-1.8zM377.4 43.5h1.8v1.8h-1.8zM377.7 53.8h1.8v1.8h-1.8zM370.5 65.4h1.8v1.8h-1.8zM368.7 67.1h1.8v1.8h-1.8zM372.3 41.3h1.8v1.8h-1.8zM364.1 51.9h1.8v1.8h-1.8zM370.5 66.0h1.8v1.8h-1.8zM380.4 52.9h1.8v1.8h-1.8zM369.9 63.8h1.8v1.8h-1.8zM371.7 67.6h1.8v1.8h-1.8zM375.9 57.2h1.8v1.8h-1.8zM376.4 67.4h1.8v1.8h-1.8zM372.4 54.9h1.8v1.8h-1.8zM375.6 39.5h1.8v1.8h-1.8zM364.5 49.9h1.8v1.8h-1.8zM372.8 53.0h1.8v1.8h-1.8zM379.5 63.7h1.8v1.8h-1.8zM372.3 64.8h1.8v1.8h-1.8zM377.4 69.8h1.8v1.8h-1.8zM378.8 64.6h1.8v1.8h-1.8zM368.5 47.4h1.8v1.8h-1.8zM374.0 72.3h1.8v1.8h-1.8zM376.0 50.2h1.8v1.8h-1.8zM375.4 42.8h1.8v1.8h-1.8zM372.2 63.1h1.8v1.8h-1.8zM373.3 76.0h1.8v1.8h-1.8zM370.6 56.4h1.8v1.8h-1.8zM373.6 71.9h1.8v1.8h-1.8zM368.6 49.4h1.8v1.8h-1.8zM375.2 61.9h1.8v1.8h-1.8zM371.4 60.0h1.8v1.8h-1.8zM366.9 71.7h1.8v1.8h-1.8zM370.1 64.5h1.8v1.8h-1.8zM373.6 63.1h1.8v1.8h-1.8zM368.7 57.5h1.8v1.8h-1.8zM370.6 50.6h1.8v1.8h-1.8zM379.9 53.4h1.8v1.8h-1.8zM372.5 54.3h1.8v1.8h-1.8zM378.8 61.2h1.8v1.8h-1.8zM367.7 58.8h1.8v1.8h-1.8zM367.4 60.3h1.8v1.8h-1.8zM377.6 48.2h1.8v1.8h-1.8zM364.8 76.2h1.8v1.8h-1.8zM367.2 52.8h1.8v1.8h-1.8zM365.7 54.5h1.8v1.8h-1.8zM368.2 68.3h1.8v1.8h-1.8zM373.5 82.0h1.8v1.8h-1.8zM372.8 48.7h1.8v1.8h-1.8zM372.0 70.7h1.8v1.8h-1.8zM375.4 61.6h1.8v1.8h-1.8zM371.3 69.8h1.8v1.8h-1.8zM369.9 72.8h1.8v1.8h-1.8zM376.1 61.9h1.8v1.8h-1.8zM370.6 48.2h1.8v1.8h-1.8zM366.5 68.3h1.8v1.8h-1.8zM368.1 54.3h1.8v1.8h-1.8zM375.0 69.8h1.8v1.8h-1.8zM367.1 61.2h1.8v1.8h-1.8zM372.6 51.8h1.8v1.8h-1.8zM369.2 74.3h1.8v1.8h-1.8zM368.8 74.9h1.8v1.8h-1.8zM371.6 40.8h1.8v1.8h-1.8zM374.0 76.7h1.8v1.8h-1.8zM370.6 66.5h1.8v1.8h-1.8zM379.4 51.8h1.8v1.8h-1.8zM378.6 52.3h1.8v1.8h-1.8zM367.6 51.1h1.8v1.8h-1.8zM374.5 45.2h1.8v1.8h-1.8zM371.6 63.0h1.8v1.8h-1.8zM372.2 62.4h1.8v1.8h-1.8zM371.5 55.3h1.8v1.8h-1.8zM375.1 81.1h1.8v1.8h-1.8zM375.5 52.8h1.8v1.8h-1.8zM368.8 65.0h1.8v1.8h-1.8zM374.2 62.7h1.8v1.8h-1.8zM365.4 55.2h1.8v1.8h-1.8zM367.8 62.5h1.8v1.8h-1.8zM371.5 60.6h1.8v1.8h-1.8zM369.1 63.3h1.8v1.8h-1.8zM370.6 64.2h1.8v1.8h-1.8zM364.7 71.0h1.8v1.8h-1.8zM370.5 75.6h1.8v1.8h-1.8zM366.9 49.7h1.8v1.8h-1.8zM368.7 49.9h1.8v1.8h-1.8zM374.1 68.8h1.8v1.8h-1.8zM367.3 53.4h1.8v1.8h-1.8zM365.9 77.3h1.8v1.8h-1.8zM367.1 59.0h1.8v1.8h-1.8zM367.4 57.1h1.8v1.8h-1.8zM376.6 64.9h1.8v1.8h-1.8zM369.3 46.2h1.8v1.8h-1.8zM369.4 68.6h1.8v1.8h-1.8zM365.3 64.4h1.8v1.8h-1.8zM376.4 65.0h1.8v1.8h-1.8zM379.8 68.0h1.8v1.8h-1.8zM367.9 42.4h1.8v1.8h-1.8zM365.3 68.7h1.8v1.8h-1.8zM380.0 54.4h1.8v1.8h-1.8zM369.0 53.6h1.8v1.8h-1.8zM373.8 61.2h1.8v1.8h-1.8zM373.3 66.0h1.8v1.8h-1.8zM372.8 66.7h1.8v1.8h-1.8zM375.5 72.2h1.8v1.8h-1.8zM375.0 68.4h1.8v1.8h-1.8zM372.8 39.1h1.8v1.8h-1.8zM377.4 72.6h1.8v1.8h-1.8zM373.3 60.2h1.8v1.8h-1.8zM375.0 70.4h1.8v1.8h-1.8zM371.0 80.8h1.8v1.8h-1.8zM373.6 60.3h1.8v1.8h-1.8zM365.2 68.1h1.8v1.8h-1.8zM373.1 57.2h1.8v1.8h-1.8zM378.1 67.4h1.8v1.8h-1.8zM370.4 71.9h1.8v1.8h-1.8zM374.8 55.0h1.8v1.8h-1.8zM370.2 66.4h1.8v1.8h-1.8zM376.8 56.6h1.8v1.8h-1.8zM374.9 63.7h1.8v1.8h-1.8zM370.1 73.9h1.8v1.8h-1.8zM370.1 48.0h1.8v1.8h-1.8zM375.0 77.4h1.8v1.8h-1.8zM371.5 63.4h1.8v1.8h-1.8zM373.8 59.3h1.8v1.8h-1.8zM370.6 49.0h1.8v1.8h-1.8zM368.2 58.8h1.8v1.8h-1.8zM364.7 63.1h1.8v1.8h-1.8zM368.2 66.0h1.8v1.8h-1.8zM373.9 73.7h1.8v1.8h-1.8zM378.3 63.9h1.8v1.8h-1.8zM370.4 76.3h1.8v1.8h-1.8zM379.5 64.7h1.8v1.8h-1.8zM373.6 63.9h1.8v1.8h-1.8zM373.6 58.5h1.8v1.8h-1.8zM373.6 82.4h1.8v1.8h-1.8zM370.3 82.0h1.8v1.8h-1.8zM369.8 58.5h1.8v1.8h-1.8zM365.0 56.1h1.8v1.8h-1.8zM372.2 79.2h1.8v1.8h-1.8zM378.2 63.5h1.8v1.8h-1.8zM377.7 60.7h1.8v1.8h-1.8zM376.3 67.7h1.8v1.8h-1.8zM374.4 73.4h1.8v1.8h-1.8zM379.9 57.7h1.8v1.8h-1.8zM365.9 67.4h1.8v1.8h-1.8zM378.9 64.6h1.8v1.8h-1.8zM376.6 51.8h1.8v1.8h-1.8zM373.0 69.6h1.8v1.8h-1.8zM369.0 61.2h1.8v1.8h-1.8zM370.5 39.5h1.8v1.8h-1.8zM370.4 74.5h1.8v1.8h-1.8zM373.9 61.6h1.8v1.8h-1.8zM370.0 54.2h1.8v1.8h-1.8zM374.9 82.5h1.8v1.8h-1.8zM365.1 54.4h1.8v1.8h-1.8zM375.9 75.2h1.8v1.8h-1.8zM364.7 69.0h1.8v1.8h-1.8zM372.5 66.1h1.8v1.8h-1.8zM369.1 59.5h1.8v1.8h-1.8zM370.0 53.4h1.8v1.8h-1.8zM372.9 47.7h1.8v1.8h-1.8zM373.3 51.7h1.8v1.8h-1.8zM370.9 63.4h1.8v1.8h-1.8zM371.9 64.7h1.8v1.8h-1.8zM368.8 61.8h1.8v1.8h-1.8zM370.1 51.6h1.8v1.8h-1.8zM370.7 58.5h1.8v1.8h-1.8zM374.9 55.0h1.8v1.8h-1.8zM370.7 58.2h1.8v1.8h-1.8zM369.7 74.8h1.8v1.8h-1.8zM371.1 60.9h1.8v1.8h-1.8zM374.8 70.0h1.8v1.8h-1.8zM372.5 63.0h1.8v1.8h-1.8zM370.7 65.1h1.8v1.8h-1.8zM374.5 42.5h1.8v1.8h-1.8zM369.5 97.5h1.8v1.8h-1.8zM376.3 94.8h1.8v1.8h-1.8zM378.8 106.1h1.8v1.8h-1.8zM375.5 97.6h1.8v1.8h-1.8zM378.7 104.6h1.8v1.8h-1.8zM376.0 105.9h1.8v1.8h-1.8zM375.8 86.4h1.8v1.8h-1.8zM369.7 97.6h1.8v1.8h-1.8zM374.0 88.4h1.8v1.8h-1.8zM373.5 103.8h1.8v1.8h-1.8zM373.6 108.2h1.8v1.8h-1.8zM375.9 96.7h1.8v1.8h-1.8zM373.9 92.8h1.8v1.8h-1.8zM381.7 96.7h1.8v1.8h-1.8zM374.4 105.5h1.8v1.8h-1.8zM377.5 104.2h1.8v1.8h-1.8zM374.7 103.9h1.8v1.8h-1.8zM373.2 104.8h1.8v1.8h-1.8zM370.5 109.4h1.8v1.8h-1.8zM372.2 99.0h1.8v1.8h-1.8zM373.2 90.8h1.8v1.8h-1.8zM372.5 90.9h1.8v1.8h-1.8zM370.8 97.9h1.8v1.8h-1.8zM370.9 99.3h1.8v1.8h-1.8zM379.4 95.6h1.8v1.8h-1.8zM373.0 94.1h1.8v1.8h-1.8zM374.6 95.9h1.8v1.8h-1.8zM375.9 92.1h1.8v1.8h-1.8zM370.2 108.2h1.8v1.8h-1.8zM368.0 100.4h1.8v1.8h-1.8zM379.1 109.4h1.8v1.8h-1.8zM373.5 87.5h1.8v1.8h-1.8zM376.5 91.1h1.8v1.8h-1.8zM373.2 91.5h1.8v1.8h-1.8zM368.5 93.2h1.8v1.8h-1.8zM371.2 100.9h1.8v1.8h-1.8zM377.1 91.6h1.8v1.8h-1.8zM370.1 89.6h1.8v1.8h-1.8zM367.1 98.0h1.8v1.8h-1.8zM373.7 97.4h1.8v1.8h-1.8zM374.7 97.8h1.8v1.8h-1.8zM379.4 97.6h1.8v1.8h-1.8zM377.2 106.5h1.8v1.8h-1.8zM372.6 97.9h1.8v1.8h-1.8zM374.7 94.2h1.8v1.8h-1.8zM377.1 105.4h1.8v1.8h-1.8zM379.2 96.2h1.8v1.8h-1.8zM376.0 97.3h1.8v1.8h-1.8zM372.3 96.1h1.8v1.8h-1.8zM373.4 109.7h1.8v1.8h-1.8zM375.5 96.7h1.8v1.8h-1.8zM373.7 96.4h1.8v1.8h-1.8zM374.9 88.0h1.8v1.8h-1.8zM373.6 86.2h1.8v1.8h-1.8zM368.4 94.4h1.8v1.8h-1.8zM371.8 101.6h1.8v1.8h-1.8zM374.3 103.0h1.8v1.8h-1.8zM367.5 106.7h1.8v1.8h-1.8zM369.7 109.0h1.8v1.8h-1.8zM374.4 51.0h1.8v1.8h-1.8zM381.7 85.3h1.8v1.8h-1.8zM381.0 55.2h1.8v1.8h-1.8zM383.4 75.0h1.8v1.8h-1.8zM370.8 68.4h1.8v1.8h-1.8zM368.3 88.2h1.8v1.8h-1.8zM373.8 64.2h1.8v1.8h-1.8zM375.2 52.0h1.8v1.8h-1.8z" fill="#0000ff"/>
<path d="M376.1 56.0h1.8v1.8h-1.8zM366.1 51.3h1.8v1.8h-1.8zM374.4 44.0h1.8v1.8h-1.8zM364.8 51.5h1.8v1.8h-1.8zM372.2 56.0h1.8v1.8h-1.8zM364.4 53.1h1.8v1.8h-1.8zM367.4 57.7h1.8v1.8h-1.8zM376.0 51.6h1.8v1.8h-1.8zM375.6 66.2h1.8v1.8h-1.8zM373.7 91.7h1.8v1.8h-1.8z" fill="#ff2a2a"/>
<rect x="332.50" y="13.00" width="109.50" height="109.80" stroke="#8a8a8a" stroke-width="1" fill="none"/>
<line x1="383.50" y1="13.00" x2="383.50" y2="122.80" stroke="#333" stroke-width="1.1"/>
<line x1="332.50" y1="68.60" x2="442.00" y2="68.60" stroke="#333" stroke-width="1.1"/>
<text x="389.00" y="9.20" font-size="13" text-anchor="middle" font-weight="normal" fill="#000" >IFNγ</text>
<text x="339.10" y="32.40" font-size="14.5" text-anchor="start" font-weight="normal" fill="#000" >60.5</text>
<text x="435.60" y="32.40" font-size="14.5" text-anchor="end" font-weight="normal" fill="#000" >0.42</text>
<text x="339.10" y="120.20" font-size="14.5" text-anchor="start" font-weight="normal" fill="#000" >38.4</text>
<text x="435.00" y="120.20" font-size="14.5" text-anchor="end" font-weight="normal" fill="#000" >0.64</text>
<line x1="329.20" y1="20.50" x2="332.50" y2="20.50" stroke="#555" stroke-width="1"/>
<text transform="translate(321.20,31.40) scale(1.0,1)" font-size="9.4" text-anchor="end">10</text>
<text transform="translate(321.90,23.70) scale(1.0,1)" font-size="9.4" text-anchor="start">6</text>
<line x1="329.20" y1="37.50" x2="332.50" y2="37.50" stroke="#555" stroke-width="1"/>
<text transform="translate(321.20,45.30) scale(1.0,1)" font-size="9.4" text-anchor="end">10</text>
<text transform="translate(321.90,37.70) scale(1.0,1)" font-size="9.4" text-anchor="start">5</text>
<line x1="329.20" y1="55.60" x2="332.50" y2="55.60" stroke="#555" stroke-width="1"/>
<text transform="translate(321.20,63.40) scale(1.0,1)" font-size="9.4" text-anchor="end">10</text>
<text transform="translate(321.90,55.80) scale(1.0,1)" font-size="9.4" text-anchor="start">4</text>
<line x1="329.20" y1="76.20" x2="332.50" y2="76.20" stroke="#555" stroke-width="1"/>
<text transform="translate(321.20,84.00) scale(1.0,1)" font-size="9.4" text-anchor="end">10</text>
<text transform="translate(321.90,76.40) scale(1.0,1)" font-size="9.4" text-anchor="start">3</text>
<line x1="329.20" y1="94.50" x2="332.50" y2="94.50" stroke="#555" stroke-width="1"/>
<text transform="translate(321.10,100.10) scale(1.0,1)" font-size="9.4" text-anchor="end">0</text>
<line x1="329.20" y1="110.10" x2="332.50" y2="110.10" stroke="#555" stroke-width="1"/>
<text transform="translate(321.20,117.90) scale(1.0,1)" font-size="9.4" text-anchor="end">-10</text>
<text transform="translate(321.90,110.30) scale(1.0,1)" font-size="9.4" text-anchor="start">3</text>
<line x1="345.30" y1="122.80" x2="345.30" y2="125.30" stroke="#555" stroke-width="1"/>
<line x1="372.90" y1="122.80" x2="372.90" y2="125.30" stroke="#555" stroke-width="1"/>
<line x1="392.70" y1="122.80" x2="392.70" y2="125.30" stroke="#555" stroke-width="1"/>
<line x1="411.40" y1="122.80" x2="411.40" y2="125.30" stroke="#555" stroke-width="1"/>
<line x1="429.80" y1="122.80" x2="429.80" y2="125.30" stroke="#555" stroke-width="1"/>
<text transform="translate(345.30,140.50) scale(1.0,1)" font-size="9.4" text-anchor="middle">0</text>
<text transform="translate(364.60,140.50) scale(1.0,1)" font-size="9.4" text-anchor="start">10</text>
<text transform="translate(375.50,133.50) scale(1.0,1)" font-size="9.4" text-anchor="start">3</text>
<text transform="translate(384.40,140.50) scale(1.0,1)" font-size="9.4" text-anchor="start">10</text>
<text transform="translate(395.30,133.50) scale(1.0,1)" font-size="9.4" text-anchor="start">4</text>
<text transform="translate(403.10,140.50) scale(1.0,1)" font-size="9.4" text-anchor="start">10</text>
<text transform="translate(414.00,133.50) scale(1.0,1)" font-size="9.4" text-anchor="start">5</text>
<text transform="translate(421.50,140.50) scale(1.0,1)" font-size="9.4" text-anchor="start">10</text>
<text transform="translate(432.40,133.50) scale(1.0,1)" font-size="9.4" text-anchor="start">6</text>
<path d="M330.7 32.4h1.8M330.7 29.4h1.8M330.7 27.3h1.8M330.7 25.6h1.8M330.7 24.3h1.8M330.7 23.1h1.8M330.7 22.1h1.8M330.7 21.3h1.8M330.7 50.2h1.8M330.7 47.0h1.8M330.7 44.7h1.8M330.7 42.9h1.8M330.7 41.5h1.8M330.7 40.3h1.8M330.7 39.3h1.8M330.7 38.3h1.8M330.7 70.0h1.8M330.7 66.4h1.8M330.7 63.8h1.8M330.7 61.8h1.8M330.7 60.2h1.8M330.7 58.8h1.8M330.7 57.6h1.8M330.7 56.5h1.8M330.7 89.0h1.8M330.7 85.8h1.8M330.7 83.5h1.8M330.7 81.7h1.8M330.7 80.3h1.8M330.7 79.0h1.8M330.7 78.0h1.8M330.7 77.0h1.8" stroke="#777" stroke-width="0.8" fill="none"/>
<path d="M378.1 122.8v1.8M381.3 122.8v1.8M383.6 122.8v1.8M385.4 122.8v1.8M386.9 122.8v1.8M388.1 122.8v1.8M389.2 122.8v1.8M390.2 122.8v1.8M396.6 122.8v1.8M399.8 122.8v1.8M402.1 122.8v1.8M403.9 122.8v1.8M405.4 122.8v1.8M406.6 122.8v1.8M407.7 122.8v1.8M408.7 122.8v1.8M415.1 122.8v1.8M418.3 122.8v1.8M420.6 122.8v1.8M422.4 122.8v1.8M423.9 122.8v1.8M425.1 122.8v1.8M426.2 122.8v1.8M427.2 122.8v1.8M335.5 122.8v1.8M338.7 122.8v1.8M341.9 122.8v1.8M345.1 122.8v1.8M348.3 122.8v1.8M351.5 122.8v1.8M354.7 122.8v1.8M357.9 122.8v1.8M361.1 122.8v1.8M364.3 122.8v1.8M367.5 122.8v1.8" stroke="#777" stroke-width="0.8" fill="none"/>
<rect x="340.0" y="123.3" width="9.5" height="2" fill="#111"/>
<rect x="329.7" y="93.3" width="2.6" height="3.6" fill="#111"/>
<path d="M524.4 71.0h1.8v1.8h-1.8zM517.1 63.7h1.8v1.8h-1.8zM514.9 68.9h1.8v1.8h-1.8zM527.3 55.5h1.8v1.8h-1.8zM521.4 77.7h1.8v1.8h-1.8zM521.9 74.5h1.8v1.8h-1.8zM522.8 84.8h1.8v1.8h-1.8zM508.9 84.8h1.8v1.8h-1.8zM508.0 85.1h1.8v1.8h-1.8zM519.7 64.0h1.8v1.8h-1.8zM512.2 62.6h1.8v1.8h-1.8zM516.6 82.2h1.8v1.8h-1.8zM527.6 54.3h1.8v1.8h-1.8zM516.1 62.1h1.8v1.8h-1.8zM521.5 84.2h1.8v1.8h-1.8zM528.9 90.8h1.8v1.8h-1.8zM521.3 53.7h1.8v1.8h-1.8zM525.6 71.6h1.8v1.8h-1.8zM516.2 62.2h1.8v1.8h-1.8zM512.3 65.3h1.8v1.8h-1.8zM507.7 80.7h1.8v1.8h-1.8zM515.7 74.4h1.8v1.8h-1.8zM523.0 60.9h1.8v1.8h-1.8zM514.2 66.2h1.8v1.8h-1.8zM509.5 63.8h1.8v1.8h-1.8zM511.9 74.7h1.8v1.8h-1.8zM515.0 62.2h1.8v1.8h-1.8zM522.1 59.4h1.8v1.8h-1.8zM512.3 101.2h1.8v1.8h-1.8zM509.9 91.8h1.8v1.8h-1.8zM507.9 55.0h1.8v1.8h-1.8zM515.1 61.7h1.8v1.8h-1.8zM515.9 69.3h1.8v1.8h-1.8zM524.0 60.2h1.8v1.8h-1.8zM512.8 77.8h1.8v1.8h-1.8zM515.2 94.1h1.8v1.8h-1.8zM515.5 82.3h1.8v1.8h-1.8zM510.7 83.7h1.8v1.8h-1.8zM519.3 59.4h1.8v1.8h-1.8zM519.6 44.7h1.8v1.8h-1.8zM505.3 65.1h1.8v1.8h-1.8zM515.2 81.7h1.8v1.8h-1.8zM512.0 48.9h1.8v1.8h-1.8zM519.1 56.3h1.8v1.8h-1.8zM505.2 68.1h1.8v1.8h-1.8zM517.6 48.6h1.8v1.8h-1.8zM517.7 87.4h1.8v1.8h-1.8zM520.4 51.1h1.8v1.8h-1.8zM513.4 74.3h1.8v1.8h-1.8zM513.2 59.7h1.8v1.8h-1.8zM521.6 79.9h1.8v1.8h-1.8zM515.6 62.7h1.8v1.8h-1.8zM507.1 78.6h1.8v1.8h-1.8zM517.3 75.8h1.8v1.8h-1.8zM513.1 65.6h1.8v1.8h-1.8zM514.5 79.3h1.8v1.8h-1.8zM514.3 63.5h1.8v1.8h-1.8zM516.2 62.5h1.8v1.8h-1.8zM515.0 83.7h1.8v1.8h-1.8zM522.7 80.9h1.8v1.8h-1.8zM514.9 63.1h1.8v1.8h-1.8zM508.3 75.2h1.8v1.8h-1.8zM521.7 54.0h1.8v1.8h-1.8zM520.9 74.5h1.8v1.8h-1.8zM509.8 54.1h1.8v1.8h-1.8zM526.5 68.5h1.8v1.8h-1.8zM513.1 77.8h1.8v1.8h-1.8zM517.3 101.6h1.8v1.8h-1.8zM518.9 73.9h1.8v1.8h-1.8zM516.6 100.6h1.8v1.8h-1.8zM519.6 63.3h1.8v1.8h-1.8zM519.2 83.8h1.8v1.8h-1.8zM518.7 83.9h1.8v1.8h-1.8zM524.0 57.8h1.8v1.8h-1.8zM521.7 60.9h1.8v1.8h-1.8zM518.4 61.8h1.8v1.8h-1.8zM510.8 69.6h1.8v1.8h-1.8zM511.5 54.8h1.8v1.8h-1.8zM516.6 95.2h1.8v1.8h-1.8zM511.0 56.9h1.8v1.8h-1.8zM522.6 82.9h1.8v1.8h-1.8zM516.5 57.9h1.8v1.8h-1.8zM519.2 75.2h1.8v1.8h-1.8zM515.5 82.2h1.8v1.8h-1.8zM514.5 83.4h1.8v1.8h-1.8zM517.4 71.0h1.8v1.8h-1.8zM527.2 72.9h1.8v1.8h-1.8zM519.0 82.5h1.8v1.8h-1.8zM511.6 71.0h1.8v1.8h-1.8zM518.4 75.4h1.8v1.8h-1.8zM525.7 64.3h1.8v1.8h-1.8zM523.7 78.6h1.8v1.8h-1.8zM513.1 63.0h1.8v1.8h-1.8zM524.3 92.2h1.8v1.8h-1.8zM516.1 81.5h1.8v1.8h-1.8zM515.2 69.8h1.8v1.8h-1.8zM512.6 68.4h1.8v1.8h-1.8zM511.9 86.0h1.8v1.8h-1.8zM510.2 88.4h1.8v1.8h-1.8zM522.5 53.4h1.8v1.8h-1.8zM524.6 95.1h1.8v1.8h-1.8zM523.2 100.1h1.8v1.8h-1.8zM519.4 81.3h1.8v1.8h-1.8zM519.0 63.7h1.8v1.8h-1.8zM527.0 77.9h1.8v1.8h-1.8zM526.9 51.4h1.8v1.8h-1.8zM521.4 60.5h1.8v1.8h-1.8zM508.3 82.3h1.8v1.8h-1.8zM507.9 87.2h1.8v1.8h-1.8zM522.0 88.1h1.8v1.8h-1.8zM516.2 71.1h1.8v1.8h-1.8zM509.3 86.3h1.8v1.8h-1.8zM524.5 74.9h1.8v1.8h-1.8zM518.9 56.4h1.8v1.8h-1.8zM519.2 78.9h1.8v1.8h-1.8zM511.6 53.8h1.8v1.8h-1.8zM512.7 65.7h1.8v1.8h-1.8zM520.5 77.6h1.8v1.8h-1.8zM511.7 72.5h1.8v1.8h-1.8zM510.1 70.3h1.8v1.8h-1.8zM524.9 69.9h1.8v1.8h-1.8zM512.7 49.6h1.8v1.8h-1.8zM525.8 68.8h1.8v1.8h-1.8zM515.7 70.4h1.8v1.8h-1.8zM519.1 75.5h1.8v1.8h-1.8zM523.1 53.7h1.8v1.8h-1.8zM519.1 54.6h1.8v1.8h-1.8zM520.7 71.2h1.8v1.8h-1.8zM516.5 72.4h1.8v1.8h-1.8zM515.0 61.9h1.8v1.8h-1.8zM507.5 76.2h1.8v1.8h-1.8zM522.3 60.7h1.8v1.8h-1.8zM517.9 63.3h1.8v1.8h-1.8zM526.7 64.2h1.8v1.8h-1.8zM512.8 75.3h1.8v1.8h-1.8zM515.6 72.2h1.8v1.8h-1.8zM513.5 62.3h1.8v1.8h-1.8zM523.6 98.1h1.8v1.8h-1.8zM514.5 74.0h1.8v1.8h-1.8zM523.8 83.5h1.8v1.8h-1.8zM511.1 71.3h1.8v1.8h-1.8zM510.7 64.7h1.8v1.8h-1.8zM509.7 78.8h1.8v1.8h-1.8zM521.5 87.4h1.8v1.8h-1.8zM510.0 73.5h1.8v1.8h-1.8zM522.7 70.3h1.8v1.8h-1.8zM514.2 80.4h1.8v1.8h-1.8zM518.8 71.0h1.8v1.8h-1.8zM520.1 68.3h1.8v1.8h-1.8zM514.0 70.2h1.8v1.8h-1.8zM523.3 73.8h1.8v1.8h-1.8zM519.6 59.9h1.8v1.8h-1.8zM509.8 76.2h1.8v1.8h-1.8zM527.4 87.7h1.8v1.8h-1.8zM519.2 81.7h1.8v1.8h-1.8zM525.3 81.8h1.8v1.8h-1.8zM519.0 96.4h1.8v1.8h-1.8zM518.6 75.1h1.8v1.8h-1.8zM525.7 79.0h1.8v1.8h-1.8zM521.2 82.1h1.8v1.8h-1.8zM516.3 96.3h1.8v1.8h-1.8zM517.8 59.9h1.8v1.8h-1.8zM508.8 76.5h1.8v1.8h-1.8zM521.7 78.9h1.8v1.8h-1.8zM511.9 71.8h1.8v1.8h-1.8zM524.7 57.7h1.8v1.8h-1.8zM508.4 50.3h1.8v1.8h-1.8zM520.7 100.5h1.8v1.8h-1.8zM520.1 79.8h1.8v1.8h-1.8zM507.0 61.4h1.8v1.8h-1.8zM525.6 55.4h1.8v1.8h-1.8zM514.0 75.3h1.8v1.8h-1.8zM518.5 85.6h1.8v1.8h-1.8zM523.9 69.8h1.8v1.8h-1.8zM522.3 83.5h1.8v1.8h-1.8zM515.0 62.8h1.8v1.8h-1.8zM514.1 84.3h1.8v1.8h-1.8zM504.1 80.9h1.8v1.8h-1.8zM517.4 51.1h1.8v1.8h-1.8zM513.8 91.8h1.8v1.8h-1.8zM517.7 97.4h1.8v1.8h-1.8zM528.4 76.2h1.8v1.8h-1.8zM520.8 102.4h1.8v1.8h-1.8zM517.7 103.2h1.8v1.8h-1.8zM514.8 52.1h1.8v1.8h-1.8zM512.3 74.9h1.8v1.8h-1.8zM518.0 57.1h1.8v1.8h-1.8zM514.0 52.5h1.8v1.8h-1.8zM508.1 76.1h1.8v1.8h-1.8zM518.8 62.7h1.8v1.8h-1.8zM512.8 51.6h1.8v1.8h-1.8zM520.0 72.4h1.8v1.8h-1.8zM516.8 80.1h1.8v1.8h-1.8zM518.1 73.8h1.8v1.8h-1.8zM515.4 71.3h1.8v1.8h-1.8zM521.9 73.1h1.8v1.8h-1.8zM517.6 73.2h1.8v1.8h-1.8zM519.3 66.1h1.8v1.8h-1.8zM518.0 65.5h1.8v1.8h-1.8zM522.0 56.5h1.8v1.8h-1.8zM505.6 69.7h1.8v1.8h-1.8zM516.9 82.2h1.8v1.8h-1.8zM514.3 78.6h1.8v1.8h-1.8zM507.3 57.8h1.8v1.8h-1.8zM512.9 65.1h1.8v1.8h-1.8zM514.8 61.7h1.8v1.8h-1.8zM516.9 42.8h1.8v1.8h-1.8zM525.2 88.8h1.8v1.8h-1.8zM528.0 83.0h1.8v1.8h-1.8zM515.2 73.6h1.8v1.8h-1.8zM505.8 76.1h1.8v1.8h-1.8zM526.8 94.8h1.8v1.8h-1.8zM528.0 75.3h1.8v1.8h-1.8zM518.5 65.5h1.8v1.8h-1.8zM509.7 92.8h1.8v1.8h-1.8zM523.8 61.3h1.8v1.8h-1.8zM517.9 62.6h1.8v1.8h-1.8zM526.7 81.3h1.8v1.8h-1.8zM526.6 75.6h1.8v1.8h-1.8zM520.9 72.7h1.8v1.8h-1.8zM521.4 95.8h1.8v1.8h-1.8zM520.5 71.5h1.8v1.8h-1.8zM514.7 71.1h1.8v1.8h-1.8zM516.0 51.7h1.8v1.8h-1.8zM522.8 79.7h1.8v1.8h-1.8zM511.6 92.4h1.8v1.8h-1.8zM522.7 74.3h1.8v1.8h-1.8zM512.5 67.5h1.8v1.8h-1.8zM518.7 60.1h1.8v1.8h-1.8zM530.4 65.9h1.8v1.8h-1.8zM527.0 72.3h1.8v1.8h-1.8zM526.2 68.6h1.8v1.8h-1.8zM520.3 69.5h1.8v1.8h-1.8zM518.2 76.1h1.8v1.8h-1.8zM509.7 62.9h1.8v1.8h-1.8zM522.4 54.8h1.8v1.8h-1.8zM507.6 81.1h1.8v1.8h-1.8zM518.5 53.1h1.8v1.8h-1.8zM515.6 72.1h1.8v1.8h-1.8zM517.2 61.6h1.8v1.8h-1.8zM516.0 79.0h1.8v1.8h-1.8zM515.8 61.1h1.8v1.8h-1.8zM523.9 57.3h1.8v1.8h-1.8zM519.6 101.8h1.8v1.8h-1.8zM521.7 85.2h1.8v1.8h-1.8zM507.8 56.3h1.8v1.8h-1.8zM516.0 82.6h1.8v1.8h-1.8zM516.3 92.4h1.8v1.8h-1.8zM507.1 70.6h1.8v1.8h-1.8zM519.4 80.1h1.8v1.8h-1.8zM514.0 62.3h1.8v1.8h-1.8zM514.8 103.1h1.8v1.8h-1.8zM521.7 91.2h1.8v1.8h-1.8zM517.4 83.4h1.8v1.8h-1.8zM508.8 86.8h1.8v1.8h-1.8zM518.9 60.5h1.8v1.8h-1.8zM513.0 88.9h1.8v1.8h-1.8zM512.4 73.5h1.8v1.8h-1.8zM521.7 88.4h1.8v1.8h-1.8zM526.5 81.1h1.8v1.8h-1.8zM525.5 95.1h1.8v1.8h-1.8zM509.8 83.3h1.8v1.8h-1.8zM513.2 60.0h1.8v1.8h-1.8zM507.3 60.7h1.8v1.8h-1.8zM517.9 79.2h1.8v1.8h-1.8zM528.9 71.5h1.8v1.8h-1.8zM512.3 57.0h1.8v1.8h-1.8zM515.2 85.1h1.8v1.8h-1.8zM503.4 67.3h1.8v1.8h-1.8zM513.6 85.1h1.8v1.8h-1.8zM512.7 68.5h1.8v1.8h-1.8zM523.4 93.9h1.8v1.8h-1.8zM509.6 90.5h1.8v1.8h-1.8zM514.2 73.8h1.8v1.8h-1.8zM517.6 63.7h1.8v1.8h-1.8zM520.9 85.7h1.8v1.8h-1.8zM523.6 64.5h1.8v1.8h-1.8zM524.8 81.6h1.8v1.8h-1.8zM519.1 66.3h1.8v1.8h-1.8zM523.3 82.9h1.8v1.8h-1.8zM514.9 81.2h1.8v1.8h-1.8zM512.5 73.6h1.8v1.8h-1.8zM508.7 77.2h1.8v1.8h-1.8zM508.9 65.0h1.8v1.8h-1.8zM519.2 80.5h1.8v1.8h-1.8zM506.5 48.7h1.8v1.8h-1.8zM508.5 67.6h1.8v1.8h-1.8zM518.9 75.1h1.8v1.8h-1.8zM518.3 81.7h1.8v1.8h-1.8zM525.7 72.1h1.8v1.8h-1.8zM519.9 59.4h1.8v1.8h-1.8zM514.1 68.7h1.8v1.8h-1.8zM528.0 73.9h1.8v1.8h-1.8zM505.8 70.3h1.8v1.8h-1.8zM530.7 95.1h1.8v1.8h-1.8zM513.7 89.5h1.8v1.8h-1.8zM519.0 61.0h1.8v1.8h-1.8zM512.6 79.7h1.8v1.8h-1.8zM532.1 66.2h1.8v1.8h-1.8zM523.5 69.2h1.8v1.8h-1.8zM530.4 79.4h1.8v1.8h-1.8zM530.6 63.7h1.8v1.8h-1.8zM534.3 46.0h1.8v1.8h-1.8zM510.5 55.5h1.8v1.8h-1.8zM516.8 93.3h1.8v1.8h-1.8zM516.3 70.5h1.8v1.8h-1.8zM530.2 75.8h1.8v1.8h-1.8zM500.7 84.2h1.8v1.8h-1.8z" fill="#0000ff"/>
<path d="M524.8 73.9h1.8v1.8h-1.8zM511.8 69.5h1.8v1.8h-1.8zM515.9 94.5h1.8v1.8h-1.8zM520.1 64.2h1.8v1.8h-1.8zM520.4 75.8h1.8v1.8h-1.8zM510.9 60.3h1.8v1.8h-1.8zM516.3 92.7h1.8v1.8h-1.8z" fill="#ff2a2a"/>
<rect x="469.00" y="13.00" width="110.00" height="109.80" stroke="#8a8a8a" stroke-width="1" fill="none"/>
<line x1="519.60" y1="13.00" x2="519.60" y2="122.80" stroke="#333" stroke-width="1.1"/>
<line x1="469.00" y1="68.60" x2="579.00" y2="68.60" stroke="#333" stroke-width="1.1"/>
<text x="527.00" y="9.20" font-size="13" text-anchor="middle" font-weight="normal" fill="#000" >TNFα</text>
<text x="475.90" y="32.40" font-size="14.5" text-anchor="start" font-weight="normal" fill="#000" >29.8</text>
<text x="572.50" y="32.40" font-size="14.5" text-anchor="end" font-weight="normal" fill="#000" >13.0</text>
<text x="475.90" y="120.20" font-size="14.5" text-anchor="start" font-weight="normal" fill="#000" >39.7</text>
<text x="572.50" y="120.20" font-size="14.5" text-anchor="end" font-weight="normal" fill="#000" >17.5</text>
<line x1="465.70" y1="20.50" x2="469.00" y2="20.50" stroke="#555" stroke-width="1"/>
<text transform="translate(457.70,31.40) scale(1.0,1)" font-size="9.4" text-anchor="end">10</text>
<text transform="translate(458.40,23.70) scale(1.0,1)" font-size="9.4" text-anchor="start">6</text>
<line x1="465.70" y1="37.50" x2="469.00" y2="37.50" stroke="#555" stroke-width="1"/>
<text transform="translate(457.70,45.30) scale(1.0,1)" font-size="9.4" text-anchor="end">10</text>
<text transform="translate(458.40,37.70) scale(1.0,1)" font-size="9.4" text-anchor="start">5</text>
<line x1="465.70" y1="55.60" x2="469.00" y2="55.60" stroke="#555" stroke-width="1"/>
<text transform="translate(457.70,63.40) scale(1.0,1)" font-size="9.4" text-anchor="end">10</text>
<text transform="translate(458.40,55.80) scale(1.0,1)" font-size="9.4" text-anchor="start">4</text>
<line x1="465.70" y1="76.20" x2="469.00" y2="76.20" stroke="#555" stroke-width="1"/>
<text transform="translate(457.70,84.00) scale(1.0,1)" font-size="9.4" text-anchor="end">10</text>
<text transform="translate(458.40,76.40) scale(1.0,1)" font-size="9.4" text-anchor="start">3</text>
<line x1="465.70" y1="94.50" x2="469.00" y2="94.50" stroke="#555" stroke-width="1"/>
<text transform="translate(457.60,100.10) scale(1.0,1)" font-size="9.4" text-anchor="end">0</text>
<line x1="465.70" y1="110.10" x2="469.00" y2="110.10" stroke="#555" stroke-width="1"/>
<text transform="translate(457.70,117.90) scale(1.0,1)" font-size="9.4" text-anchor="end">-10</text>
<text transform="translate(458.40,110.30) scale(1.0,1)" font-size="9.4" text-anchor="start">3</text>
<line x1="481.80" y1="122.80" x2="481.80" y2="125.30" stroke="#555" stroke-width="1"/>
<line x1="509.40" y1="122.80" x2="509.40" y2="125.30" stroke="#555" stroke-width="1"/>
<line x1="529.20" y1="122.80" x2="529.20" y2="125.30" stroke="#555" stroke-width="1"/>
<line x1="547.90" y1="122.80" x2="547.90" y2="125.30" stroke="#555" stroke-width="1"/>
<line x1="566.30" y1="122.80" x2="566.30" y2="125.30" stroke="#555" stroke-width="1"/>
<text transform="translate(481.80,140.50) scale(1.0,1)" font-size="9.4" text-anchor="middle">0</text>
<text transform="translate(501.10,140.50) scale(1.0,1)" font-size="9.4" text-anchor="start">10</text>
<text transform="translate(512.00,133.50) scale(1.0,1)" font-size="9.4" text-anchor="start">3</text>
<text transform="translate(520.90,140.50) scale(1.0,1)" font-size="9.4" text-anchor="start">10</text>
<text transform="translate(531.80,133.50) scale(1.0,1)" font-size="9.4" text-anchor="start">4</text>
<text transform="translate(539.60,140.50) scale(1.0,1)" font-size="9.4" text-anchor="start">10</text>
<text transform="translate(550.50,133.50) scale(1.0,1)" font-size="9.4" text-anchor="start">5</text>
<text transform="translate(558.00,140.50) scale(1.0,1)" font-size="9.4" text-anchor="start">10</text>
<text transform="translate(568.90,133.50) scale(1.0,1)" font-size="9.4" text-anchor="start">6</text>
<path d="M467.2 32.4h1.8M467.2 29.4h1.8M467.2 27.3h1.8M467.2 25.6h1.8M467.2 24.3h1.8M467.2 23.1h1.8M467.2 22.1h1.8M467.2 21.3h1.8M467.2 50.2h1.8M467.2 47.0h1.8M467.2 44.7h1.8M467.2 42.9h1.8M467.2 41.5h1.8M467.2 40.3h1.8M467.2 39.3h1.8M467.2 38.3h1.8M467.2 70.0h1.8M467.2 66.4h1.8M467.2 63.8h1.8M467.2 61.8h1.8M467.2 60.2h1.8M467.2 58.8h1.8M467.2 57.6h1.8M467.2 56.5h1.8M467.2 89.0h1.8M467.2 85.8h1.8M467.2 83.5h1.8M467.2 81.7h1.8M467.2 80.3h1.8M467.2 79.0h1.8M467.2 78.0h1.8M467.2 77.0h1.8" stroke="#777" stroke-width="0.8" fill="none"/>
<path d="M514.6 122.8v1.8M517.8 122.8v1.8M520.1 122.8v1.8M521.9 122.8v1.8M523.4 122.8v1.8M524.6 122.8v1.8M525.7 122.8v1.8M526.7 122.8v1.8M533.1 122.8v1.8M536.3 122.8v1.8M538.6 122.8v1.8M540.4 122.8v1.8M541.9 122.8v1.8M543.1 122.8v1.8M544.2 122.8v1.8M545.2 122.8v1.8M551.6 122.8v1.8M554.8 122.8v1.8M557.1 122.8v1.8M558.9 122.8v1.8M560.4 122.8v1.8M561.6 122.8v1.8M562.7 122.8v1.8M563.7 122.8v1.8M472.0 122.8v1.8M475.2 122.8v1.8M478.4 122.8v1.8M481.6 122.8v1.8M484.8 122.8v1.8M488.0 122.8v1.8M491.2 122.8v1.8M494.4 122.8v1.8M497.6 122.8v1.8M500.8 122.8v1.8M504.0 122.8v1.8" stroke="#777" stroke-width="0.8" fill="none"/>
<rect x="476.5" y="123.3" width="9.5" height="2" fill="#111"/>
<rect x="466.2" y="93.3" width="2.6" height="3.6" fill="#111"/>
<text transform="translate(29.7,94) rotate(-90)" font-size="12.7" text-anchor="middle">CD38-PECy7</text>
<line x1="25.00" y1="49.80" x2="25.00" y2="23.00" stroke="#333" stroke-width="1.4"/>
<path d="M25 20.6 L22.3 25.8 L25 24.6 L27.7 25.8 Z" fill="#000"/>
<text x="54.40" y="158.80" font-size="13" text-anchor="start" font-weight="normal" fill="#000" >CD34-PE</text>
<line x1="116.50" y1="154.40" x2="585.00" y2="154.40" stroke="#000" stroke-width="1.2"/>
<path d="M587.2 154.4 L581.8 151.8 L583.3 154.4 L581.8 157 Z" fill="#000"/>
<text x="-0.20" y="380.40" font-size="18.5" text-anchor="start" font-weight="bold" fill="#000" >f</text>
<path d="M104.9 447.1h1.6v1.6h-1.6zM109.3 468.8h1.6v1.6h-1.6zM108.1 445.2h1.6v1.6h-1.6zM106.0 445.3h1.6v1.6h-1.6zM105.2 473.3h1.6v1.6h-1.6zM97.9 429.8h1.6v1.6h-1.6zM89.5 453.7h1.6v1.6h-1.6zM97.6 437.6h1.6v1.6h-1.6zM106.0 457.6h1.6v1.6h-1.6zM89.7 463.9h1.6v1.6h-1.6zM101.7 467.6h1.6v1.6h-1.6zM101.1 435.4h1.6v1.6h-1.6zM101.0 470.5h1.6v1.6h-1.6zM95.1 418.1h1.6v1.6h-1.6zM96.2 476.0h1.6v1.6h-1.6zM96.6 410.7h1.6v1.6h-1.6zM91.0 466.9h1.6v1.6h-1.6zM98.5 429.6h1.6v1.6h-1.6zM109.2 444.2h1.6v1.6h-1.6zM99.3 441.2h1.6v1.6h-1.6zM105.1 453.9h1.6v1.6h-1.6zM100.6 421.0h1.6v1.6h-1.6zM101.5 446.3h1.6v1.6h-1.6zM112.2 441.5h1.6v1.6h-1.6zM105.3 442.0h1.6v1.6h-1.6zM91.8 443.0h1.6v1.6h-1.6zM105.5 437.6h1.6v1.6h-1.6zM101.2 444.7h1.6v1.6h-1.6zM110.2 439.2h1.6v1.6h-1.6zM102.5 450.8h1.6v1.6h-1.6zM102.4 427.1h1.6v1.6h-1.6zM99.2 461.7h1.6v1.6h-1.6zM96.0 443.0h1.6v1.6h-1.6zM106.6 454.0h1.6v1.6h-1.6zM101.2 446.0h1.6v1.6h-1.6zM98.3 434.2h1.6v1.6h-1.6zM111.3 461.8h1.6v1.6h-1.6zM104.1 451.2h1.6v1.6h-1.6zM103.8 435.3h1.6v1.6h-1.6zM92.9 453.3h1.6v1.6h-1.6zM100.8 469.1h1.6v1.6h-1.6zM105.9 463.2h1.6v1.6h-1.6zM100.9 426.7h1.6v1.6h-1.6zM100.2 439.9h1.6v1.6h-1.6zM92.2 445.0h1.6v1.6h-1.6zM102.2 451.4h1.6v1.6h-1.6zM101.5 443.8h1.6v1.6h-1.6zM94.2 435.7h1.6v1.6h-1.6zM92.5 450.2h1.6v1.6h-1.6zM86.1 465.1h1.6v1.6h-1.6zM97.9 428.8h1.6v1.6h-1.6zM111.5 450.5h1.6v1.6h-1.6zM104.3 456.2h1.6v1.6h-1.6zM102.6 423.4h1.6v1.6h-1.6zM103.6 427.2h1.6v1.6h-1.6zM95.7 455.4h1.6v1.6h-1.6zM106.7 467.3h1.6v1.6h-1.6zM92.0 457.6h1.6v1.6h-1.6zM103.9 441.9h1.6v1.6h-1.6zM98.5 424.4h1.6v1.6h-1.6zM102.5 439.3h1.6v1.6h-1.6zM102.1 432.0h1.6v1.6h-1.6zM107.5 434.1h1.6v1.6h-1.6zM88.2 429.4h1.6v1.6h-1.6zM108.7 442.7h1.6v1.6h-1.6zM107.1 464.4h1.6v1.6h-1.6zM107.8 423.1h1.6v1.6h-1.6zM99.0 463.0h1.6v1.6h-1.6zM87.5 432.5h1.6v1.6h-1.6zM85.9 456.6h1.6v1.6h-1.6zM95.2 457.5h1.6v1.6h-1.6zM102.1 439.9h1.6v1.6h-1.6zM96.1 433.9h1.6v1.6h-1.6zM107.8 430.1h1.6v1.6h-1.6zM107.2 436.4h1.6v1.6h-1.6zM104.4 445.9h1.6v1.6h-1.6zM93.1 421.5h1.6v1.6h-1.6zM99.3 429.9h1.6v1.6h-1.6zM88.6 452.7h1.6v1.6h-1.6zM99.9 432.6h1.6v1.6h-1.6zM96.9 442.3h1.6v1.6h-1.6zM97.0 436.6h1.6v1.6h-1.6zM108.6 431.4h1.6v1.6h-1.6zM95.5 436.1h1.6v1.6h-1.6zM99.7 453.8h1.6v1.6h-1.6zM90.4 442.5h1.6v1.6h-1.6zM96.4 441.6h1.6v1.6h-1.6zM97.2 450.8h1.6v1.6h-1.6zM103.0 468.7h1.6v1.6h-1.6zM94.8 445.1h1.6v1.6h-1.6zM95.6 415.5h1.6v1.6h-1.6zM97.3 460.1h1.6v1.6h-1.6zM96.5 412.8h1.6v1.6h-1.6zM87.7 462.5h1.6v1.6h-1.6zM95.9 443.0h1.6v1.6h-1.6zM98.5 445.6h1.6v1.6h-1.6zM108.1 438.6h1.6v1.6h-1.6zM106.4 439.5h1.6v1.6h-1.6zM109.8 449.5h1.6v1.6h-1.6zM98.2 459.1h1.6v1.6h-1.6zM107.7 453.1h1.6v1.6h-1.6zM90.1 463.5h1.6v1.6h-1.6zM91.5 432.1h1.6v1.6h-1.6zM103.7 419.6h1.6v1.6h-1.6zM110.0 429.5h1.6v1.6h-1.6zM111.1 448.5h1.6v1.6h-1.6zM103.9 440.6h1.6v1.6h-1.6zM96.7 430.0h1.6v1.6h-1.6zM93.3 448.5h1.6v1.6h-1.6zM106.0 441.3h1.6v1.6h-1.6zM107.9 449.8h1.6v1.6h-1.6zM95.9 449.7h1.6v1.6h-1.6zM91.7 469.4h1.6v1.6h-1.6zM106.7 415.2h1.6v1.6h-1.6zM105.9 419.2h1.6v1.6h-1.6zM97.0 462.0h1.6v1.6h-1.6zM95.7 415.9h1.6v1.6h-1.6zM108.8 447.4h1.6v1.6h-1.6zM109.3 458.0h1.6v1.6h-1.6zM112.6 466.1h1.6v1.6h-1.6zM101.9 439.0h1.6v1.6h-1.6zM93.6 464.7h1.6v1.6h-1.6zM99.2 436.8h1.6v1.6h-1.6zM108.5 452.0h1.6v1.6h-1.6zM104.0 443.9h1.6v1.6h-1.6zM90.3 432.6h1.6v1.6h-1.6zM101.1 451.7h1.6v1.6h-1.6zM112.3 432.4h1.6v1.6h-1.6zM106.8 451.2h1.6v1.6h-1.6zM104.5 429.7h1.6v1.6h-1.6zM90.5 429.4h1.6v1.6h-1.6zM93.4 414.6h1.6v1.6h-1.6zM92.3 422.9h1.6v1.6h-1.6zM106.9 462.6h1.6v1.6h-1.6zM106.0 451.8h1.6v1.6h-1.6zM96.2 454.7h1.6v1.6h-1.6zM96.3 452.0h1.6v1.6h-1.6zM86.9 451.9h1.6v1.6h-1.6zM93.3 454.8h1.6v1.6h-1.6zM94.6 449.3h1.6v1.6h-1.6zM86.2 455.5h1.6v1.6h-1.6zM115.7 435.8h1.6v1.6h-1.6zM111.6 448.7h1.6v1.6h-1.6zM101.5 431.6h1.6v1.6h-1.6zM101.9 428.8h1.6v1.6h-1.6zM109.6 451.6h1.6v1.6h-1.6zM97.0 466.5h1.6v1.6h-1.6zM96.5 461.3h1.6v1.6h-1.6zM100.9 443.2h1.6v1.6h-1.6zM94.8 444.9h1.6v1.6h-1.6zM101.3 424.9h1.6v1.6h-1.6zM96.3 449.8h1.6v1.6h-1.6zM106.9 463.8h1.6v1.6h-1.6zM87.9 444.7h1.6v1.6h-1.6zM105.3 451.1h1.6v1.6h-1.6zM93.2 459.2h1.6v1.6h-1.6zM110.3 423.6h1.6v1.6h-1.6zM108.1 440.8h1.6v1.6h-1.6zM98.7 434.5h1.6v1.6h-1.6zM100.3 462.4h1.6v1.6h-1.6zM107.5 454.9h1.6v1.6h-1.6zM99.4 428.7h1.6v1.6h-1.6zM103.0 450.8h1.6v1.6h-1.6zM87.7 468.2h1.6v1.6h-1.6zM93.9 452.1h1.6v1.6h-1.6zM103.6 421.4h1.6v1.6h-1.6zM96.3 455.9h1.6v1.6h-1.6zM101.5 425.6h1.6v1.6h-1.6zM97.1 457.3h1.6v1.6h-1.6zM91.3 429.5h1.6v1.6h-1.6zM100.7 412.2h1.6v1.6h-1.6zM115.2 455.8h1.6v1.6h-1.6zM98.7 469.4h1.6v1.6h-1.6zM110.7 454.1h1.6v1.6h-1.6zM101.3 445.2h1.6v1.6h-1.6zM98.3 461.3h1.6v1.6h-1.6zM105.3 447.9h1.6v1.6h-1.6zM109.3 452.9h1.6v1.6h-1.6zM89.9 441.2h1.6v1.6h-1.6zM105.5 452.0h1.6v1.6h-1.6zM98.4 438.2h1.6v1.6h-1.6zM104.7 418.0h1.6v1.6h-1.6zM93.2 463.0h1.6v1.6h-1.6zM95.6 437.3h1.6v1.6h-1.6zM98.8 428.1h1.6v1.6h-1.6zM99.6 436.6h1.6v1.6h-1.6zM94.7 446.2h1.6v1.6h-1.6zM107.1 453.9h1.6v1.6h-1.6zM101.0 442.1h1.6v1.6h-1.6zM108.7 436.5h1.6v1.6h-1.6zM92.5 424.9h1.6v1.6h-1.6zM91.8 434.7h1.6v1.6h-1.6zM96.1 455.7h1.6v1.6h-1.6zM86.3 439.1h1.6v1.6h-1.6zM112.0 430.7h1.6v1.6h-1.6zM101.5 454.8h1.6v1.6h-1.6zM97.0 461.5h1.6v1.6h-1.6zM98.3 431.9h1.6v1.6h-1.6zM100.5 446.4h1.6v1.6h-1.6zM82.9 440.2h1.6v1.6h-1.6zM97.8 467.9h1.6v1.6h-1.6zM96.7 441.3h1.6v1.6h-1.6zM111.0 455.6h1.6v1.6h-1.6zM98.3 447.6h1.6v1.6h-1.6zM109.4 428.4h1.6v1.6h-1.6zM104.7 422.3h1.6v1.6h-1.6zM108.5 427.7h1.6v1.6h-1.6zM98.5 455.0h1.6v1.6h-1.6zM104.0 420.6h1.6v1.6h-1.6zM93.6 419.3h1.6v1.6h-1.6zM103.3 453.6h1.6v1.6h-1.6zM104.5 448.8h1.6v1.6h-1.6zM105.6 449.6h1.6v1.6h-1.6zM100.0 435.2h1.6v1.6h-1.6zM93.3 460.0h1.6v1.6h-1.6zM106.2 433.0h1.6v1.6h-1.6zM93.4 442.1h1.6v1.6h-1.6zM95.9 449.7h1.6v1.6h-1.6zM112.3 451.7h1.6v1.6h-1.6zM90.0 456.3h1.6v1.6h-1.6zM93.2 433.7h1.6v1.6h-1.6zM98.3 439.9h1.6v1.6h-1.6zM109.1 459.3h1.6v1.6h-1.6zM107.0 428.0h1.6v1.6h-1.6zM104.4 454.0h1.6v1.6h-1.6zM94.9 450.4h1.6v1.6h-1.6zM107.1 450.8h1.6v1.6h-1.6zM113.8 427.8h1.6v1.6h-1.6zM98.6 453.5h1.6v1.6h-1.6zM95.7 436.6h1.6v1.6h-1.6zM107.6 427.4h1.6v1.6h-1.6zM107.5 455.4h1.6v1.6h-1.6zM100.1 425.9h1.6v1.6h-1.6zM97.8 464.1h1.6v1.6h-1.6zM93.9 433.9h1.6v1.6h-1.6zM88.2 430.8h1.6v1.6h-1.6zM102.2 441.7h1.6v1.6h-1.6zM105.0 438.8h1.6v1.6h-1.6zM88.5 443.7h1.6v1.6h-1.6zM104.3 450.2h1.6v1.6h-1.6zM103.3 454.9h1.6v1.6h-1.6zM106.6 467.7h1.6v1.6h-1.6zM107.1 418.0h1.6v1.6h-1.6zM98.3 443.7h1.6v1.6h-1.6zM110.7 453.8h1.6v1.6h-1.6zM97.7 423.8h1.6v1.6h-1.6zM115.2 448.3h1.6v1.6h-1.6zM112.0 426.1h1.6v1.6h-1.6zM98.0 425.5h1.6v1.6h-1.6zM99.7 446.2h1.6v1.6h-1.6zM95.8 448.2h1.6v1.6h-1.6zM97.5 477.0h1.6v1.6h-1.6zM96.7 437.1h1.6v1.6h-1.6zM87.1 439.3h1.6v1.6h-1.6zM92.3 456.4h1.6v1.6h-1.6zM89.3 432.3h1.6v1.6h-1.6zM93.7 460.8h1.6v1.6h-1.6zM90.7 444.1h1.6v1.6h-1.6zM92.7 436.9h1.6v1.6h-1.6zM104.3 442.9h1.6v1.6h-1.6zM92.4 426.9h1.6v1.6h-1.6zM101.9 443.9h1.6v1.6h-1.6zM101.7 450.6h1.6v1.6h-1.6zM99.1 458.3h1.6v1.6h-1.6zM88.7 429.3h1.6v1.6h-1.6zM106.9 428.0h1.6v1.6h-1.6zM107.0 451.3h1.6v1.6h-1.6zM99.9 460.3h1.6v1.6h-1.6zM89.3 444.6h1.6v1.6h-1.6zM100.2 415.6h1.6v1.6h-1.6zM95.6 466.9h1.6v1.6h-1.6zM104.5 462.3h1.6v1.6h-1.6zM104.3 409.5h1.6v1.6h-1.6zM98.5 434.3h1.6v1.6h-1.6zM99.4 428.1h1.6v1.6h-1.6zM94.0 437.7h1.6v1.6h-1.6zM104.0 461.0h1.6v1.6h-1.6zM93.9 442.6h1.6v1.6h-1.6zM102.5 441.2h1.6v1.6h-1.6zM92.9 432.8h1.6v1.6h-1.6zM93.3 458.7h1.6v1.6h-1.6zM102.3 450.8h1.6v1.6h-1.6zM96.6 444.6h1.6v1.6h-1.6zM111.9 449.5h1.6v1.6h-1.6zM102.5 445.0h1.6v1.6h-1.6zM97.3 455.9h1.6v1.6h-1.6zM110.2 441.2h1.6v1.6h-1.6zM94.2 424.5h1.6v1.6h-1.6zM103.9 442.0h1.6v1.6h-1.6zM105.3 441.6h1.6v1.6h-1.6zM103.0 437.9h1.6v1.6h-1.6zM96.2 477.8h1.6v1.6h-1.6zM101.3 430.9h1.6v1.6h-1.6zM106.3 429.9h1.6v1.6h-1.6zM101.8 444.1h1.6v1.6h-1.6zM111.5 456.4h1.6v1.6h-1.6zM111.4 441.9h1.6v1.6h-1.6zM104.3 449.1h1.6v1.6h-1.6zM99.8 437.8h1.6v1.6h-1.6zM127.2 447.9h1.6v1.6h-1.6zM129.9 467.9h1.6v1.6h-1.6zM121.6 460.6h1.6v1.6h-1.6zM133.3 434.0h1.6v1.6h-1.6zM116.1 469.0h1.6v1.6h-1.6zM108.8 455.0h1.6v1.6h-1.6zM145.9 440.1h1.6v1.6h-1.6zM126.3 414.8h1.6v1.6h-1.6z" fill="#0000ff"/>
<path d="M97.0 445.7h1.6v1.6h-1.6z" fill="#ff2a2a"/>
<rect x="63.60" y="387.80" width="111.00" height="111.50" stroke="#8a8a8a" stroke-width="1" fill="none"/>
<line x1="120.30" y1="387.80" x2="120.30" y2="499.30" stroke="#333" stroke-width="1.1"/>
<line x1="63.60" y1="440.30" x2="174.60" y2="440.30" stroke="#333" stroke-width="1.1"/>
<text x="109.80" y="381.50" font-size="13" text-anchor="middle" font-weight="normal" fill="#000" >No ILC1</text>
<text x="68.60" y="407.20" font-size="14.5" text-anchor="start" font-weight="normal" fill="#000" >39.1</text>
<text x="165.70" y="407.20" font-size="14.5" text-anchor="end" font-weight="normal" fill="#000" >0.96</text>
<text x="68.60" y="495.30" font-size="14.5" text-anchor="start" font-weight="normal" fill="#000" >57.4</text>
<text x="165.70" y="495.30" font-size="14.5" text-anchor="end" font-weight="normal" fill="#000" >2.56</text>
<line x1="60.30" y1="397.30" x2="63.60" y2="397.30" stroke="#555" stroke-width="1"/>
<text transform="translate(52.30,405.10) scale(1.0,1)" font-size="9.4" text-anchor="end">10</text>
<text transform="translate(53.00,397.50) scale(1.0,1)" font-size="9.4" text-anchor="start">5</text>
<line x1="60.30" y1="421.30" x2="63.60" y2="421.30" stroke="#555" stroke-width="1"/>
<text transform="translate(52.30,429.10) scale(1.0,1)" font-size="9.4" text-anchor="end">10</text>
<text transform="translate(53.00,421.50) scale(1.0,1)" font-size="9.4" text-anchor="start">4</text>
<line x1="60.30" y1="449.90" x2="63.60" y2="449.90" stroke="#555" stroke-width="1"/>
<text transform="translate(52.30,457.70) scale(1.0,1)" font-size="9.4" text-anchor="end">10</text>
<text transform="translate(53.00,450.10) scale(1.0,1)" font-size="9.4" text-anchor="start">3</text>
<line x1="60.30" y1="466.60" x2="63.60" y2="466.60" stroke="#555" stroke-width="1"/>
<text transform="translate(52.20,472.20) scale(1.0,1)" font-size="9.4" text-anchor="end">0</text>
<line x1="60.30" y1="483.00" x2="63.60" y2="483.00" stroke="#555" stroke-width="1"/>
<text transform="translate(52.30,490.80) scale(1.0,1)" font-size="9.4" text-anchor="end">-10</text>
<text transform="translate(53.00,483.20) scale(1.0,1)" font-size="9.4" text-anchor="start">3</text>
<line x1="84.25" y1="499.30" x2="84.25" y2="501.80" stroke="#555" stroke-width="1"/>
<line x1="133.00" y1="499.30" x2="133.00" y2="501.80" stroke="#555" stroke-width="1"/>
<line x1="165.70" y1="499.30" x2="165.70" y2="501.80" stroke="#555" stroke-width="1"/>
<text transform="translate(84.25,517.00) scale(1.0,1)" font-size="9.4" text-anchor="middle">0</text>
<text transform="translate(124.70,517.00) scale(1.0,1)" font-size="9.4" text-anchor="start">10</text>
<text transform="translate(135.60,510.00) scale(1.0,1)" font-size="9.4" text-anchor="start">4</text>
<text transform="translate(157.40,517.00) scale(1.0,1)" font-size="9.4" text-anchor="start">10</text>
<text transform="translate(168.30,510.00) scale(1.0,1)" font-size="9.4" text-anchor="start">5</text>
<path d="M61.8 414.1h1.8M61.8 409.8h1.8M61.8 406.9h1.8M61.8 404.5h1.8M61.8 402.6h1.8M61.8 401.0h1.8M61.8 399.6h1.8M61.8 398.4h1.8M61.8 441.3h1.8M61.8 436.3h1.8M61.8 432.7h1.8M61.8 429.9h1.8M61.8 427.6h1.8M61.8 425.7h1.8M61.8 424.1h1.8M61.8 422.6h1.8M61.8 461.6h1.8M61.8 458.6h1.8M61.8 456.5h1.8M61.8 454.9h1.8M61.8 453.6h1.8M61.8 452.5h1.8M61.8 451.5h1.8M61.8 450.7h1.8" stroke="#777" stroke-width="0.8" fill="none"/>
<path d="M143.4 499.3v1.8M149.1 499.3v1.8M153.2 499.3v1.8M156.3 499.3v1.8M158.9 499.3v1.8M161.1 499.3v1.8M163.0 499.3v1.8M164.6 499.3v1.8M67.6 499.3v1.8M70.9 499.3v1.8M74.2 499.3v1.8M77.5 499.3v1.8M80.8 499.3v1.8M84.1 499.3v1.8M87.4 499.3v1.8M90.7 499.3v1.8M94.0 499.3v1.8M97.3 499.3v1.8M100.6 499.3v1.8M103.9 499.3v1.8M107.2 499.3v1.8M110.5 499.3v1.8M113.8 499.3v1.8M117.1 499.3v1.8M120.4 499.3v1.8M123.7 499.3v1.8" stroke="#777" stroke-width="0.8" fill="none"/>
<rect x="80.6" y="499.8" width="4.5" height="2" fill="#111"/>
<rect x="60.8" y="465.1" width="2.6" height="3" fill="#111"/>
<path d="M242.1 441.9h1.6v1.6h-1.6zM231.0 430.7h1.6v1.6h-1.6zM252.7 419.2h1.6v1.6h-1.6zM236.2 424.1h1.6v1.6h-1.6zM247.9 440.8h1.6v1.6h-1.6zM243.1 434.0h1.6v1.6h-1.6zM251.0 440.9h1.6v1.6h-1.6zM255.9 430.1h1.6v1.6h-1.6zM239.6 421.2h1.6v1.6h-1.6zM246.1 413.3h1.6v1.6h-1.6zM244.0 431.6h1.6v1.6h-1.6zM227.4 424.1h1.6v1.6h-1.6zM248.3 436.1h1.6v1.6h-1.6zM253.8 428.7h1.6v1.6h-1.6zM254.6 424.8h1.6v1.6h-1.6zM238.8 423.9h1.6v1.6h-1.6zM242.0 432.6h1.6v1.6h-1.6zM246.3 418.2h1.6v1.6h-1.6zM233.0 440.4h1.6v1.6h-1.6zM258.3 431.2h1.6v1.6h-1.6zM251.0 428.1h1.6v1.6h-1.6zM228.3 432.1h1.6v1.6h-1.6zM247.0 419.5h1.6v1.6h-1.6zM250.0 427.3h1.6v1.6h-1.6zM250.8 433.0h1.6v1.6h-1.6zM261.8 426.6h1.6v1.6h-1.6zM241.1 434.1h1.6v1.6h-1.6zM256.0 431.5h1.6v1.6h-1.6zM250.5 441.2h1.6v1.6h-1.6zM257.6 427.1h1.6v1.6h-1.6zM241.1 423.1h1.6v1.6h-1.6zM263.0 432.6h1.6v1.6h-1.6zM236.5 421.6h1.6v1.6h-1.6zM249.0 434.8h1.6v1.6h-1.6zM239.3 442.0h1.6v1.6h-1.6zM248.7 428.7h1.6v1.6h-1.6zM240.6 427.0h1.6v1.6h-1.6zM232.3 423.9h1.6v1.6h-1.6zM246.3 427.4h1.6v1.6h-1.6zM242.8 420.0h1.6v1.6h-1.6zM253.1 438.5h1.6v1.6h-1.6zM241.5 427.3h1.6v1.6h-1.6zM241.0 428.3h1.6v1.6h-1.6zM251.0 429.0h1.6v1.6h-1.6zM245.5 426.7h1.6v1.6h-1.6zM242.1 433.2h1.6v1.6h-1.6zM250.5 428.0h1.6v1.6h-1.6zM249.4 422.4h1.6v1.6h-1.6zM246.2 415.0h1.6v1.6h-1.6zM240.9 437.5h1.6v1.6h-1.6zM242.2 435.7h1.6v1.6h-1.6zM238.2 422.8h1.6v1.6h-1.6zM243.4 430.6h1.6v1.6h-1.6zM251.4 437.0h1.6v1.6h-1.6zM245.4 437.3h1.6v1.6h-1.6zM252.1 434.0h1.6v1.6h-1.6zM260.8 418.1h1.6v1.6h-1.6zM238.2 415.8h1.6v1.6h-1.6zM245.9 440.7h1.6v1.6h-1.6zM251.4 424.2h1.6v1.6h-1.6zM242.4 420.0h1.6v1.6h-1.6zM256.0 420.0h1.6v1.6h-1.6zM253.5 435.6h1.6v1.6h-1.6zM240.3 424.0h1.6v1.6h-1.6zM242.8 419.8h1.6v1.6h-1.6zM244.3 423.5h1.6v1.6h-1.6zM236.8 436.4h1.6v1.6h-1.6zM230.5 436.4h1.6v1.6h-1.6zM234.2 420.4h1.6v1.6h-1.6zM246.9 431.0h1.6v1.6h-1.6zM253.8 412.4h1.6v1.6h-1.6zM252.2 437.8h1.6v1.6h-1.6zM245.0 422.7h1.6v1.6h-1.6zM238.9 429.4h1.6v1.6h-1.6zM244.8 413.5h1.6v1.6h-1.6zM256.5 421.3h1.6v1.6h-1.6zM239.2 432.2h1.6v1.6h-1.6zM239.0 431.1h1.6v1.6h-1.6zM252.8 425.8h1.6v1.6h-1.6zM243.9 430.3h1.6v1.6h-1.6zM248.5 420.4h1.6v1.6h-1.6zM247.1 424.3h1.6v1.6h-1.6zM251.3 420.0h1.6v1.6h-1.6zM245.0 428.6h1.6v1.6h-1.6zM252.7 427.8h1.6v1.6h-1.6zM252.7 431.6h1.6v1.6h-1.6zM242.8 428.1h1.6v1.6h-1.6zM245.9 422.2h1.6v1.6h-1.6zM246.2 437.9h1.6v1.6h-1.6zM243.0 416.4h1.6v1.6h-1.6zM243.2 426.9h1.6v1.6h-1.6zM252.6 430.8h1.6v1.6h-1.6zM242.4 419.7h1.6v1.6h-1.6zM250.6 431.1h1.6v1.6h-1.6zM241.0 428.7h1.6v1.6h-1.6zM229.6 422.6h1.6v1.6h-1.6zM245.8 421.3h1.6v1.6h-1.6zM242.8 428.4h1.6v1.6h-1.6zM244.4 434.1h1.6v1.6h-1.6zM249.4 424.9h1.6v1.6h-1.6zM250.1 438.9h1.6v1.6h-1.6zM237.8 441.1h1.6v1.6h-1.6zM248.3 443.2h1.6v1.6h-1.6zM247.7 409.9h1.6v1.6h-1.6zM259.0 427.2h1.6v1.6h-1.6zM231.0 422.9h1.6v1.6h-1.6zM254.8 440.0h1.6v1.6h-1.6zM237.9 412.4h1.6v1.6h-1.6zM260.7 417.8h1.6v1.6h-1.6zM252.8 430.3h1.6v1.6h-1.6zM242.1 424.3h1.6v1.6h-1.6zM242.8 429.5h1.6v1.6h-1.6zM245.5 418.9h1.6v1.6h-1.6zM245.4 422.7h1.6v1.6h-1.6zM250.8 436.5h1.6v1.6h-1.6zM253.4 422.6h1.6v1.6h-1.6zM240.1 420.7h1.6v1.6h-1.6zM241.7 428.9h1.6v1.6h-1.6zM236.7 425.1h1.6v1.6h-1.6zM238.6 415.2h1.6v1.6h-1.6zM237.3 425.4h1.6v1.6h-1.6zM259.1 425.1h1.6v1.6h-1.6zM259.6 432.4h1.6v1.6h-1.6zM239.4 434.7h1.6v1.6h-1.6zM247.9 438.5h1.6v1.6h-1.6zM245.0 422.0h1.6v1.6h-1.6zM244.9 430.6h1.6v1.6h-1.6zM243.4 429.0h1.6v1.6h-1.6zM250.6 433.4h1.6v1.6h-1.6zM236.9 430.6h1.6v1.6h-1.6zM241.2 426.1h1.6v1.6h-1.6zM245.2 429.1h1.6v1.6h-1.6zM249.1 419.9h1.6v1.6h-1.6zM239.5 424.9h1.6v1.6h-1.6zM242.2 414.9h1.6v1.6h-1.6zM251.8 421.0h1.6v1.6h-1.6zM249.0 439.4h1.6v1.6h-1.6zM248.0 423.6h1.6v1.6h-1.6zM242.2 427.5h1.6v1.6h-1.6zM236.9 411.9h1.6v1.6h-1.6zM240.7 434.5h1.6v1.6h-1.6zM240.7 439.6h1.6v1.6h-1.6zM238.4 417.8h1.6v1.6h-1.6zM241.4 443.4h1.6v1.6h-1.6zM240.3 437.8h1.6v1.6h-1.6zM252.8 429.3h1.6v1.6h-1.6zM234.1 423.7h1.6v1.6h-1.6zM245.7 422.4h1.6v1.6h-1.6zM229.1 424.5h1.6v1.6h-1.6zM248.8 423.6h1.6v1.6h-1.6zM245.1 431.4h1.6v1.6h-1.6zM241.8 419.4h1.6v1.6h-1.6zM244.5 426.3h1.6v1.6h-1.6zM248.0 433.6h1.6v1.6h-1.6zM241.6 440.7h1.6v1.6h-1.6zM244.3 438.8h1.6v1.6h-1.6zM227.0 457.3h1.6v1.6h-1.6zM220.7 447.4h1.6v1.6h-1.6zM244.0 456.1h1.6v1.6h-1.6zM245.6 465.1h1.6v1.6h-1.6zM245.2 472.0h1.6v1.6h-1.6zM247.0 447.2h1.6v1.6h-1.6zM232.9 465.1h1.6v1.6h-1.6zM234.3 453.1h1.6v1.6h-1.6zM233.7 431.9h1.6v1.6h-1.6zM240.3 467.3h1.6v1.6h-1.6zM231.9 445.9h1.6v1.6h-1.6zM227.9 450.1h1.6v1.6h-1.6zM240.0 451.6h1.6v1.6h-1.6zM233.5 465.9h1.6v1.6h-1.6zM241.8 456.2h1.6v1.6h-1.6zM239.4 459.3h1.6v1.6h-1.6zM231.7 474.1h1.6v1.6h-1.6zM242.1 434.0h1.6v1.6h-1.6zM230.6 453.4h1.6v1.6h-1.6zM247.2 455.4h1.6v1.6h-1.6zM238.7 446.7h1.6v1.6h-1.6zM250.0 455.2h1.6v1.6h-1.6zM232.2 483.2h1.6v1.6h-1.6zM234.8 453.9h1.6v1.6h-1.6zM240.4 468.6h1.6v1.6h-1.6zM253.0 451.9h1.6v1.6h-1.6zM232.6 461.2h1.6v1.6h-1.6zM229.1 460.6h1.6v1.6h-1.6zM240.4 434.0h1.6v1.6h-1.6zM233.1 438.0h1.6v1.6h-1.6zM239.3 439.2h1.6v1.6h-1.6zM243.9 447.2h1.6v1.6h-1.6zM233.9 466.4h1.6v1.6h-1.6zM235.4 473.6h1.6v1.6h-1.6zM235.4 478.8h1.6v1.6h-1.6zM245.8 443.5h1.6v1.6h-1.6zM237.0 427.2h1.6v1.6h-1.6zM242.1 459.3h1.6v1.6h-1.6zM230.2 429.2h1.6v1.6h-1.6zM237.9 449.3h1.6v1.6h-1.6zM250.0 461.9h1.6v1.6h-1.6zM239.3 436.4h1.6v1.6h-1.6zM246.6 458.7h1.6v1.6h-1.6zM221.0 470.6h1.6v1.6h-1.6zM227.4 469.1h1.6v1.6h-1.6zM237.0 449.0h1.6v1.6h-1.6zM246.0 460.3h1.6v1.6h-1.6zM243.1 460.2h1.6v1.6h-1.6zM229.8 478.5h1.6v1.6h-1.6zM233.6 457.7h1.6v1.6h-1.6zM227.7 453.8h1.6v1.6h-1.6zM248.0 444.5h1.6v1.6h-1.6zM237.6 439.7h1.6v1.6h-1.6zM235.1 459.3h1.6v1.6h-1.6zM233.6 449.9h1.6v1.6h-1.6zM231.4 438.3h1.6v1.6h-1.6zM228.9 453.3h1.6v1.6h-1.6zM233.1 439.2h1.6v1.6h-1.6zM241.2 445.8h1.6v1.6h-1.6zM234.2 455.5h1.6v1.6h-1.6zM245.5 472.5h1.6v1.6h-1.6zM227.6 460.2h1.6v1.6h-1.6zM231.2 438.8h1.6v1.6h-1.6zM239.5 452.3h1.6v1.6h-1.6zM233.1 433.7h1.6v1.6h-1.6zM239.7 447.5h1.6v1.6h-1.6zM237.5 447.9h1.6v1.6h-1.6zM243.1 458.6h1.6v1.6h-1.6zM239.4 445.5h1.6v1.6h-1.6zM230.2 456.2h1.6v1.6h-1.6zM244.7 451.4h1.6v1.6h-1.6zM227.2 457.8h1.6v1.6h-1.6zM238.2 441.6h1.6v1.6h-1.6zM231.5 463.6h1.6v1.6h-1.6zM252.0 455.2h1.6v1.6h-1.6zM240.2 452.9h1.6v1.6h-1.6zM231.0 458.7h1.6v1.6h-1.6zM243.4 459.4h1.6v1.6h-1.6zM224.3 461.2h1.6v1.6h-1.6zM231.7 459.7h1.6v1.6h-1.6zM234.0 483.4h1.6v1.6h-1.6zM241.1 455.5h1.6v1.6h-1.6zM233.8 458.8h1.6v1.6h-1.6zM245.4 466.8h1.6v1.6h-1.6zM235.2 455.9h1.6v1.6h-1.6zM237.3 445.2h1.6v1.6h-1.6zM242.9 451.3h1.6v1.6h-1.6zM233.9 448.0h1.6v1.6h-1.6zM230.3 456.2h1.6v1.6h-1.6zM234.0 437.8h1.6v1.6h-1.6zM234.8 438.1h1.6v1.6h-1.6zM231.8 452.7h1.6v1.6h-1.6zM225.1 462.9h1.6v1.6h-1.6zM236.8 454.9h1.6v1.6h-1.6zM223.6 463.0h1.6v1.6h-1.6zM236.4 477.6h1.6v1.6h-1.6zM252.3 464.9h1.6v1.6h-1.6zM233.3 469.2h1.6v1.6h-1.6zM245.8 459.4h1.6v1.6h-1.6zM238.1 462.6h1.6v1.6h-1.6zM261.9 410.0h1.6v1.6h-1.6zM264.5 403.2h1.6v1.6h-1.6zM267.4 402.8h1.6v1.6h-1.6zM258.5 405.6h1.6v1.6h-1.6zM261.0 427.5h1.6v1.6h-1.6zM264.9 413.4h1.6v1.6h-1.6zM267.7 417.5h1.6v1.6h-1.6zM248.9 415.1h1.6v1.6h-1.6zM259.9 389.5h1.6v1.6h-1.6zM264.6 412.0h1.6v1.6h-1.6zM263.8 402.5h1.6v1.6h-1.6zM269.3 410.3h1.6v1.6h-1.6zM265.5 408.5h1.6v1.6h-1.6zM259.6 419.9h1.6v1.6h-1.6zM260.1 400.3h1.6v1.6h-1.6zM266.3 412.8h1.6v1.6h-1.6zM262.0 413.9h1.6v1.6h-1.6zM265.2 404.1h1.6v1.6h-1.6zM261.1 425.5h1.6v1.6h-1.6zM266.4 402.2h1.6v1.6h-1.6z" fill="#0000ff"/>
<path d="M251.9 431.1h1.6v1.6h-1.6zM235.6 423.6h1.6v1.6h-1.6zM243.4 428.7h1.6v1.6h-1.6zM244.1 438.0h1.6v1.6h-1.6z" fill="#ff2a2a"/>
<rect x="201.50" y="387.80" width="111.00" height="111.50" stroke="#8a8a8a" stroke-width="1" fill="none"/>
<line x1="258.20" y1="387.80" x2="258.20" y2="499.30" stroke="#333" stroke-width="1.1"/>
<line x1="201.50" y1="440.30" x2="312.50" y2="440.30" stroke="#333" stroke-width="1.1"/>
<text x="258.00" y="381.50" font-size="13" text-anchor="middle" font-weight="normal" fill="#000" >ILC1</text>
<text x="208.50" y="407.20" font-size="14.5" text-anchor="start" font-weight="normal" fill="#000" >56.8</text>
<text x="305.00" y="407.20" font-size="14.5" text-anchor="end" font-weight="normal" fill="#000" >9.63</text>
<text x="208.50" y="495.30" font-size="14.5" text-anchor="start" font-weight="normal" fill="#000" >30.2</text>
<text x="305.00" y="495.30" font-size="14.5" text-anchor="end" font-weight="normal" fill="#000" >3.23</text>
<line x1="198.20" y1="397.30" x2="201.50" y2="397.30" stroke="#555" stroke-width="1"/>
<text transform="translate(190.20,405.10) scale(1.0,1)" font-size="9.4" text-anchor="end">10</text>
<text transform="translate(190.90,397.50) scale(1.0,1)" font-size="9.4" text-anchor="start">5</text>
<line x1="198.20" y1="421.30" x2="201.50" y2="421.30" stroke="#555" stroke-width="1"/>
<text transform="translate(190.20,429.10) scale(1.0,1)" font-size="9.4" text-anchor="end">10</text>
<text transform="translate(190.90,421.50) scale(1.0,1)" font-size="9.4" text-anchor="start">4</text>
<line x1="198.20" y1="449.90" x2="201.50" y2="449.90" stroke="#555" stroke-width="1"/>
<text transform="translate(190.20,457.70) scale(1.0,1)" font-size="9.4" text-anchor="end">10</text>
<text transform="translate(190.90,450.10) scale(1.0,1)" font-size="9.4" text-anchor="start">3</text>
<line x1="198.20" y1="466.60" x2="201.50" y2="466.60" stroke="#555" stroke-width="1"/>
<text transform="translate(190.10,472.20) scale(1.0,1)" font-size="9.4" text-anchor="end">0</text>
<line x1="198.20" y1="483.00" x2="201.50" y2="483.00" stroke="#555" stroke-width="1"/>
<text transform="translate(190.20,490.80) scale(1.0,1)" font-size="9.4" text-anchor="end">-10</text>
<text transform="translate(190.90,483.20) scale(1.0,1)" font-size="9.4" text-anchor="start">3</text>
<line x1="222.15" y1="499.30" x2="222.15" y2="501.80" stroke="#555" stroke-width="1"/>
<line x1="270.90" y1="499.30" x2="270.90" y2="501.80" stroke="#555" stroke-width="1"/>
<line x1="303.60" y1="499.30" x2="303.60" y2="501.80" stroke="#555" stroke-width="1"/>
<text transform="translate(222.15,517.00) scale(1.0,1)" font-size="9.4" text-anchor="middle">0</text>
<text transform="translate(262.60,517.00) scale(1.0,1)" font-size="9.4" text-anchor="start">10</text>
<text transform="translate(273.50,510.00) scale(1.0,1)" font-size="9.4" text-anchor="start">4</text>
<text transform="translate(295.30,517.00) scale(1.0,1)" font-size="9.4" text-anchor="start">10</text>
<text transform="translate(306.20,510.00) scale(1.0,1)" font-size="9.4" text-anchor="start">5</text>
<path d="M199.7 414.1h1.8M199.7 409.8h1.8M199.7 406.9h1.8M199.7 404.5h1.8M199.7 402.6h1.8M199.7 401.0h1.8M199.7 399.6h1.8M199.7 398.4h1.8M199.7 441.3h1.8M199.7 436.3h1.8M199.7 432.7h1.8M199.7 429.9h1.8M199.7 427.6h1.8M199.7 425.7h1.8M199.7 424.1h1.8M199.7 422.6h1.8M199.7 461.6h1.8M199.7 458.6h1.8M199.7 456.5h1.8M199.7 454.9h1.8M199.7 453.6h1.8M199.7 452.5h1.8M199.7 451.5h1.8M199.7 450.7h1.8" stroke="#777" stroke-width="0.8" fill="none"/>
<path d="M281.3 499.3v1.8M287.0 499.3v1.8M291.1 499.3v1.8M294.2 499.3v1.8M296.8 499.3v1.8M299.0 499.3v1.8M300.9 499.3v1.8M302.5 499.3v1.8M205.5 499.3v1.8M208.8 499.3v1.8M212.1 499.3v1.8M215.4 499.3v1.8M218.7 499.3v1.8M222.0 499.3v1.8M225.3 499.3v1.8M228.6 499.3v1.8M231.9 499.3v1.8M235.2 499.3v1.8M238.5 499.3v1.8M241.8 499.3v1.8M245.1 499.3v1.8M248.4 499.3v1.8M251.7 499.3v1.8M255.0 499.3v1.8M258.3 499.3v1.8M261.6 499.3v1.8" stroke="#777" stroke-width="0.8" fill="none"/>
<rect x="218.5" y="499.8" width="4.5" height="2" fill="#111"/>
<rect x="198.7" y="465.1" width="2.6" height="3" fill="#111"/>
<path d="M379.0 421.1h1.6v1.6h-1.6zM381.9 466.8h1.6v1.6h-1.6zM364.0 457.7h1.6v1.6h-1.6zM372.7 442.1h1.6v1.6h-1.6zM365.9 423.7h1.6v1.6h-1.6zM382.8 433.6h1.6v1.6h-1.6zM365.6 449.5h1.6v1.6h-1.6zM383.9 446.8h1.6v1.6h-1.6zM362.3 449.7h1.6v1.6h-1.6zM394.4 453.7h1.6v1.6h-1.6zM378.3 439.5h1.6v1.6h-1.6zM385.9 475.8h1.6v1.6h-1.6zM381.9 452.1h1.6v1.6h-1.6zM373.9 465.7h1.6v1.6h-1.6zM373.8 474.9h1.6v1.6h-1.6zM378.4 458.8h1.6v1.6h-1.6zM380.7 458.8h1.6v1.6h-1.6zM371.3 437.4h1.6v1.6h-1.6zM371.0 438.9h1.6v1.6h-1.6zM388.5 440.4h1.6v1.6h-1.6zM392.2 466.0h1.6v1.6h-1.6zM385.9 425.9h1.6v1.6h-1.6zM374.2 466.1h1.6v1.6h-1.6zM381.5 451.4h1.6v1.6h-1.6zM379.8 448.0h1.6v1.6h-1.6zM371.4 463.0h1.6v1.6h-1.6zM376.5 441.7h1.6v1.6h-1.6zM373.7 440.3h1.6v1.6h-1.6zM388.8 452.8h1.6v1.6h-1.6zM377.1 444.0h1.6v1.6h-1.6zM372.1 418.2h1.6v1.6h-1.6zM375.9 444.9h1.6v1.6h-1.6zM378.4 425.2h1.6v1.6h-1.6zM379.2 467.6h1.6v1.6h-1.6zM375.5 440.2h1.6v1.6h-1.6zM373.7 436.0h1.6v1.6h-1.6zM386.3 446.1h1.6v1.6h-1.6zM372.3 428.8h1.6v1.6h-1.6zM374.7 426.1h1.6v1.6h-1.6zM385.2 429.3h1.6v1.6h-1.6zM374.8 450.7h1.6v1.6h-1.6zM370.1 432.1h1.6v1.6h-1.6zM370.5 449.0h1.6v1.6h-1.6zM373.5 433.8h1.6v1.6h-1.6zM372.9 412.8h1.6v1.6h-1.6zM372.4 456.3h1.6v1.6h-1.6zM388.1 450.9h1.6v1.6h-1.6zM379.7 429.8h1.6v1.6h-1.6zM377.3 423.0h1.6v1.6h-1.6zM389.1 434.2h1.6v1.6h-1.6zM379.8 454.0h1.6v1.6h-1.6zM385.5 435.5h1.6v1.6h-1.6zM372.8 416.7h1.6v1.6h-1.6zM376.7 446.0h1.6v1.6h-1.6zM378.8 427.8h1.6v1.6h-1.6zM380.2 446.4h1.6v1.6h-1.6zM369.9 461.9h1.6v1.6h-1.6zM375.8 463.9h1.6v1.6h-1.6zM375.9 432.3h1.6v1.6h-1.6zM373.7 429.9h1.6v1.6h-1.6zM367.7 473.6h1.6v1.6h-1.6zM374.5 474.4h1.6v1.6h-1.6zM386.3 425.0h1.6v1.6h-1.6zM370.9 440.0h1.6v1.6h-1.6zM386.7 435.3h1.6v1.6h-1.6zM372.3 435.2h1.6v1.6h-1.6zM374.5 437.2h1.6v1.6h-1.6zM379.2 428.5h1.6v1.6h-1.6zM388.4 439.4h1.6v1.6h-1.6zM382.6 468.9h1.6v1.6h-1.6zM380.8 434.1h1.6v1.6h-1.6zM375.5 435.4h1.6v1.6h-1.6zM378.1 465.2h1.6v1.6h-1.6zM392.0 456.4h1.6v1.6h-1.6zM382.4 416.2h1.6v1.6h-1.6zM371.0 457.4h1.6v1.6h-1.6zM377.9 447.4h1.6v1.6h-1.6zM388.4 429.2h1.6v1.6h-1.6zM373.3 458.3h1.6v1.6h-1.6zM362.8 442.1h1.6v1.6h-1.6zM370.7 426.1h1.6v1.6h-1.6zM380.3 450.5h1.6v1.6h-1.6zM388.4 418.3h1.6v1.6h-1.6zM367.4 437.4h1.6v1.6h-1.6zM375.2 461.6h1.6v1.6h-1.6zM374.2 457.3h1.6v1.6h-1.6zM380.3 461.9h1.6v1.6h-1.6zM386.9 451.2h1.6v1.6h-1.6zM366.9 447.4h1.6v1.6h-1.6zM387.5 463.8h1.6v1.6h-1.6zM387.9 425.6h1.6v1.6h-1.6zM379.5 440.3h1.6v1.6h-1.6zM375.4 446.9h1.6v1.6h-1.6zM380.6 454.4h1.6v1.6h-1.6zM390.3 464.0h1.6v1.6h-1.6zM363.2 437.2h1.6v1.6h-1.6zM377.8 459.7h1.6v1.6h-1.6zM375.8 460.2h1.6v1.6h-1.6zM370.9 435.1h1.6v1.6h-1.6zM388.2 444.8h1.6v1.6h-1.6zM378.4 455.7h1.6v1.6h-1.6zM383.8 459.2h1.6v1.6h-1.6zM381.5 456.5h1.6v1.6h-1.6zM373.9 435.0h1.6v1.6h-1.6zM382.7 443.7h1.6v1.6h-1.6zM382.1 453.2h1.6v1.6h-1.6zM367.8 432.7h1.6v1.6h-1.6zM368.9 432.1h1.6v1.6h-1.6zM377.6 452.5h1.6v1.6h-1.6zM391.0 461.1h1.6v1.6h-1.6zM383.4 430.6h1.6v1.6h-1.6zM377.0 416.5h1.6v1.6h-1.6zM377.1 440.5h1.6v1.6h-1.6zM374.5 449.8h1.6v1.6h-1.6zM374.7 460.8h1.6v1.6h-1.6zM384.7 456.0h1.6v1.6h-1.6zM377.0 459.0h1.6v1.6h-1.6zM381.2 436.3h1.6v1.6h-1.6zM386.5 416.9h1.6v1.6h-1.6zM390.3 446.5h1.6v1.6h-1.6zM377.2 436.2h1.6v1.6h-1.6zM386.9 455.8h1.6v1.6h-1.6zM392.5 455.2h1.6v1.6h-1.6zM373.5 432.2h1.6v1.6h-1.6zM372.8 439.3h1.6v1.6h-1.6zM381.7 449.9h1.6v1.6h-1.6zM367.2 443.1h1.6v1.6h-1.6zM370.4 436.4h1.6v1.6h-1.6zM368.9 440.7h1.6v1.6h-1.6zM377.9 438.9h1.6v1.6h-1.6zM383.6 428.4h1.6v1.6h-1.6zM372.8 452.7h1.6v1.6h-1.6zM390.7 461.2h1.6v1.6h-1.6zM377.7 422.1h1.6v1.6h-1.6zM368.4 445.1h1.6v1.6h-1.6zM386.7 442.3h1.6v1.6h-1.6zM375.9 437.9h1.6v1.6h-1.6zM382.7 434.3h1.6v1.6h-1.6zM370.8 423.2h1.6v1.6h-1.6zM380.0 454.1h1.6v1.6h-1.6zM386.1 439.8h1.6v1.6h-1.6zM382.7 443.7h1.6v1.6h-1.6zM385.2 439.0h1.6v1.6h-1.6zM384.2 452.6h1.6v1.6h-1.6zM375.5 453.0h1.6v1.6h-1.6zM381.2 466.8h1.6v1.6h-1.6zM379.7 418.9h1.6v1.6h-1.6zM368.4 434.1h1.6v1.6h-1.6zM380.6 410.5h1.6v1.6h-1.6zM365.6 441.8h1.6v1.6h-1.6zM370.2 438.3h1.6v1.6h-1.6zM392.6 456.6h1.6v1.6h-1.6zM364.2 435.9h1.6v1.6h-1.6zM385.4 448.7h1.6v1.6h-1.6zM374.5 437.8h1.6v1.6h-1.6zM376.5 448.5h1.6v1.6h-1.6zM371.1 418.9h1.6v1.6h-1.6zM379.5 457.8h1.6v1.6h-1.6zM363.6 441.4h1.6v1.6h-1.6zM381.1 445.3h1.6v1.6h-1.6zM369.9 430.1h1.6v1.6h-1.6zM381.8 467.8h1.6v1.6h-1.6zM366.1 454.5h1.6v1.6h-1.6zM378.8 432.6h1.6v1.6h-1.6zM380.9 418.7h1.6v1.6h-1.6zM392.0 435.1h1.6v1.6h-1.6zM379.5 436.8h1.6v1.6h-1.6zM382.5 431.1h1.6v1.6h-1.6zM378.5 452.0h1.6v1.6h-1.6zM390.0 422.8h1.6v1.6h-1.6zM364.3 443.2h1.6v1.6h-1.6zM381.6 453.7h1.6v1.6h-1.6zM375.2 443.3h1.6v1.6h-1.6zM376.9 446.6h1.6v1.6h-1.6zM377.8 430.3h1.6v1.6h-1.6zM386.9 439.5h1.6v1.6h-1.6zM383.1 421.9h1.6v1.6h-1.6zM378.9 432.2h1.6v1.6h-1.6zM378.9 460.8h1.6v1.6h-1.6zM371.7 446.1h1.6v1.6h-1.6zM377.7 462.0h1.6v1.6h-1.6zM380.7 430.3h1.6v1.6h-1.6zM382.2 428.8h1.6v1.6h-1.6zM380.9 449.9h1.6v1.6h-1.6zM375.7 452.9h1.6v1.6h-1.6zM376.2 451.2h1.6v1.6h-1.6zM372.8 463.1h1.6v1.6h-1.6zM387.8 437.0h1.6v1.6h-1.6zM361.4 455.2h1.6v1.6h-1.6zM376.1 454.4h1.6v1.6h-1.6zM387.5 439.9h1.6v1.6h-1.6zM389.5 451.6h1.6v1.6h-1.6zM381.6 465.3h1.6v1.6h-1.6zM381.8 452.8h1.6v1.6h-1.6zM365.9 453.3h1.6v1.6h-1.6zM379.3 442.9h1.6v1.6h-1.6zM379.9 413.4h1.6v1.6h-1.6zM384.6 449.3h1.6v1.6h-1.6zM380.0 441.5h1.6v1.6h-1.6zM380.0 452.1h1.6v1.6h-1.6zM379.4 429.8h1.6v1.6h-1.6zM379.6 442.9h1.6v1.6h-1.6zM386.3 440.3h1.6v1.6h-1.6zM375.0 430.4h1.6v1.6h-1.6zM376.2 458.7h1.6v1.6h-1.6zM376.2 421.6h1.6v1.6h-1.6zM376.1 455.0h1.6v1.6h-1.6zM374.6 463.5h1.6v1.6h-1.6zM385.5 448.5h1.6v1.6h-1.6zM366.5 458.9h1.6v1.6h-1.6zM375.9 427.4h1.6v1.6h-1.6zM386.0 441.0h1.6v1.6h-1.6zM377.0 435.7h1.6v1.6h-1.6zM385.2 446.2h1.6v1.6h-1.6zM375.3 447.6h1.6v1.6h-1.6zM383.8 465.6h1.6v1.6h-1.6zM382.8 423.8h1.6v1.6h-1.6zM372.5 446.7h1.6v1.6h-1.6zM380.6 442.0h1.6v1.6h-1.6zM389.9 461.2h1.6v1.6h-1.6zM367.6 461.1h1.6v1.6h-1.6zM393.5 430.8h1.6v1.6h-1.6zM368.2 445.0h1.6v1.6h-1.6zM376.8 452.8h1.6v1.6h-1.6zM377.3 440.9h1.6v1.6h-1.6zM364.6 455.3h1.6v1.6h-1.6zM363.5 438.1h1.6v1.6h-1.6zM373.1 455.7h1.6v1.6h-1.6zM384.6 439.2h1.6v1.6h-1.6zM375.1 441.9h1.6v1.6h-1.6zM379.0 417.7h1.6v1.6h-1.6zM377.1 453.9h1.6v1.6h-1.6zM377.5 459.9h1.6v1.6h-1.6zM373.5 414.0h1.6v1.6h-1.6zM384.8 471.3h1.6v1.6h-1.6zM364.9 458.5h1.6v1.6h-1.6zM390.1 438.9h1.6v1.6h-1.6zM375.5 449.5h1.6v1.6h-1.6zM378.6 444.8h1.6v1.6h-1.6zM372.2 446.6h1.6v1.6h-1.6zM380.3 427.7h1.6v1.6h-1.6zM371.7 446.4h1.6v1.6h-1.6zM371.1 422.4h1.6v1.6h-1.6zM374.8 433.3h1.6v1.6h-1.6zM380.0 429.3h1.6v1.6h-1.6zM376.8 459.6h1.6v1.6h-1.6zM374.8 434.2h1.6v1.6h-1.6zM371.4 452.8h1.6v1.6h-1.6zM384.7 428.4h1.6v1.6h-1.6zM382.3 454.4h1.6v1.6h-1.6zM383.8 461.8h1.6v1.6h-1.6zM379.8 463.2h1.6v1.6h-1.6zM373.2 464.8h1.6v1.6h-1.6zM384.3 447.7h1.6v1.6h-1.6zM375.6 458.4h1.6v1.6h-1.6zM363.0 442.8h1.6v1.6h-1.6zM377.0 475.0h1.6v1.6h-1.6zM378.0 448.5h1.6v1.6h-1.6zM373.5 430.3h1.6v1.6h-1.6zM386.0 445.5h1.6v1.6h-1.6zM377.0 459.4h1.6v1.6h-1.6zM369.7 457.3h1.6v1.6h-1.6zM379.8 451.5h1.6v1.6h-1.6zM388.0 451.1h1.6v1.6h-1.6zM371.5 430.4h1.6v1.6h-1.6zM367.4 440.9h1.6v1.6h-1.6zM376.2 452.9h1.6v1.6h-1.6zM365.7 462.6h1.6v1.6h-1.6zM372.4 459.0h1.6v1.6h-1.6zM377.3 461.1h1.6v1.6h-1.6zM376.3 435.2h1.6v1.6h-1.6zM369.8 476.5h1.6v1.6h-1.6zM374.6 435.8h1.6v1.6h-1.6zM375.3 443.2h1.6v1.6h-1.6zM375.7 438.1h1.6v1.6h-1.6zM378.5 442.7h1.6v1.6h-1.6zM377.8 453.0h1.6v1.6h-1.6zM386.7 438.2h1.6v1.6h-1.6zM381.4 409.9h1.6v1.6h-1.6zM374.7 454.7h1.6v1.6h-1.6zM378.0 424.0h1.6v1.6h-1.6zM382.8 449.4h1.6v1.6h-1.6zM389.7 419.8h1.6v1.6h-1.6zM367.6 435.0h1.6v1.6h-1.6zM371.9 446.5h1.6v1.6h-1.6zM370.3 448.0h1.6v1.6h-1.6zM381.1 421.0h1.6v1.6h-1.6zM401.2 411.4h1.6v1.6h-1.6zM394.5 409.4h1.6v1.6h-1.6zM392.8 422.2h1.6v1.6h-1.6zM397.4 419.9h1.6v1.6h-1.6zM398.7 428.0h1.6v1.6h-1.6zM417.0 432.4h1.6v1.6h-1.6zM412.0 422.8h1.6v1.6h-1.6zM401.4 429.2h1.6v1.6h-1.6zM398.3 415.5h1.6v1.6h-1.6zM385.9 421.5h1.6v1.6h-1.6zM386.4 428.7h1.6v1.6h-1.6zM394.0 422.1h1.6v1.6h-1.6zM406.9 416.9h1.6v1.6h-1.6zM391.6 415.6h1.6v1.6h-1.6zM397.3 419.4h1.6v1.6h-1.6zM387.6 442.6h1.6v1.6h-1.6zM394.9 417.5h1.6v1.6h-1.6zM390.5 429.3h1.6v1.6h-1.6zM393.8 406.2h1.6v1.6h-1.6zM385.8 416.6h1.6v1.6h-1.6z" fill="#0000ff"/>
<path d="M367.8 459.2h1.6v1.6h-1.6zM369.0 452.9h1.6v1.6h-1.6zM376.1 444.3h1.6v1.6h-1.6z" fill="#ff2a2a"/>
<rect x="339.60" y="387.80" width="111.00" height="111.50" stroke="#8a8a8a" stroke-width="1" fill="none"/>
<line x1="396.60" y1="387.80" x2="396.60" y2="499.30" stroke="#333" stroke-width="1.1"/>
<line x1="339.60" y1="440.30" x2="450.60" y2="440.30" stroke="#333" stroke-width="1.1"/>
<text x="390.90" y="381.50" font-size="13" text-anchor="middle" font-weight="normal" fill="#000" >ILC1+ anti-IFNγ</text>
<text x="342.20" y="407.20" font-size="14.5" text-anchor="start" font-weight="normal" fill="#000" >40.0</text>
<text x="439.30" y="407.20" font-size="14.5" text-anchor="end" font-weight="normal" fill="#000" >10.6</text>
<text x="342.20" y="495.30" font-size="14.5" text-anchor="start" font-weight="normal" fill="#000" >46</text>
<text x="438.70" y="495.30" font-size="14.5" text-anchor="end" font-weight="normal" fill="#000" >3.4</text>
<line x1="336.30" y1="397.30" x2="339.60" y2="397.30" stroke="#555" stroke-width="1"/>
<text transform="translate(328.30,405.10) scale(1.0,1)" font-size="9.4" text-anchor="end">10</text>
<text transform="translate(329.00,397.50) scale(1.0,1)" font-size="9.4" text-anchor="start">5</text>
<line x1="336.30" y1="421.30" x2="339.60" y2="421.30" stroke="#555" stroke-width="1"/>
<text transform="translate(328.30,429.10) scale(1.0,1)" font-size="9.4" text-anchor="end">10</text>
<text transform="translate(329.00,421.50) scale(1.0,1)" font-size="9.4" text-anchor="start">4</text>
<line x1="336.30" y1="449.90" x2="339.60" y2="449.90" stroke="#555" stroke-width="1"/>
<text transform="translate(328.30,457.70) scale(1.0,1)" font-size="9.4" text-anchor="end">10</text>
<text transform="translate(329.00,450.10) scale(1.0,1)" font-size="9.4" text-anchor="start">3</text>
<line x1="336.30" y1="466.60" x2="339.60" y2="466.60" stroke="#555" stroke-width="1"/>
<text transform="translate(328.20,472.20) scale(1.0,1)" font-size="9.4" text-anchor="end">0</text>
<line x1="336.30" y1="483.00" x2="339.60" y2="483.00" stroke="#555" stroke-width="1"/>
<text transform="translate(328.30,490.80) scale(1.0,1)" font-size="9.4" text-anchor="end">-10</text>
<text transform="translate(329.00,483.20) scale(1.0,1)" font-size="9.4" text-anchor="start">3</text>
<line x1="360.25" y1="499.30" x2="360.25" y2="501.80" stroke="#555" stroke-width="1"/>
<line x1="409.00" y1="499.30" x2="409.00" y2="501.80" stroke="#555" stroke-width="1"/>
<line x1="441.70" y1="499.30" x2="441.70" y2="501.80" stroke="#555" stroke-width="1"/>
<text transform="translate(360.25,517.00) scale(1.0,1)" font-size="9.4" text-anchor="middle">0</text>
<text transform="translate(400.70,517.00) scale(1.0,1)" font-size="9.4" text-anchor="start">10</text>
<text transform="translate(411.60,510.00) scale(1.0,1)" font-size="9.4" text-anchor="start">4</text>
<text transform="translate(433.40,517.00) scale(1.0,1)" font-size="9.4" text-anchor="start">10</text>
<text transform="translate(444.30,510.00) scale(1.0,1)" font-size="9.4" text-anchor="start">5</text>
<path d="M337.8 414.1h1.8M337.8 409.8h1.8M337.8 406.9h1.8M337.8 404.5h1.8M337.8 402.6h1.8M337.8 401.0h1.8M337.8 399.6h1.8M337.8 398.4h1.8M337.8 441.3h1.8M337.8 436.3h1.8M337.8 432.7h1.8M337.8 429.9h1.8M337.8 427.6h1.8M337.8 425.7h1.8M337.8 424.1h1.8M337.8 422.6h1.8M337.8 461.6h1.8M337.8 458.6h1.8M337.8 456.5h1.8M337.8 454.9h1.8M337.8 453.6h1.8M337.8 452.5h1.8M337.8 451.5h1.8M337.8 450.7h1.8" stroke="#777" stroke-width="0.8" fill="none"/>
<path d="M419.4 499.3v1.8M425.1 499.3v1.8M429.2 499.3v1.8M432.3 499.3v1.8M434.9 499.3v1.8M437.1 499.3v1.8M439.0 499.3v1.8M440.6 499.3v1.8M343.6 499.3v1.8M346.9 499.3v1.8M350.2 499.3v1.8M353.5 499.3v1.8M356.8 499.3v1.8M360.1 499.3v1.8M363.4 499.3v1.8M366.7 499.3v1.8M370.0 499.3v1.8M373.3 499.3v1.8M376.6 499.3v1.8M379.9 499.3v1.8M383.2 499.3v1.8M386.5 499.3v1.8M389.8 499.3v1.8M393.1 499.3v1.8M396.4 499.3v1.8M399.7 499.3v1.8" stroke="#777" stroke-width="0.8" fill="none"/>
<rect x="356.6" y="499.8" width="4.5" height="2" fill="#111"/>
<rect x="336.8" y="465.1" width="2.6" height="3" fill="#111"/>
<path d="M533.9 464.1h1.6v1.6h-1.6zM524.2 474.9h1.6v1.6h-1.6zM526.2 427.0h1.6v1.6h-1.6zM522.2 432.0h1.6v1.6h-1.6zM524.2 442.1h1.6v1.6h-1.6zM528.4 446.2h1.6v1.6h-1.6zM517.0 454.5h1.6v1.6h-1.6zM520.1 453.1h1.6v1.6h-1.6zM520.7 457.3h1.6v1.6h-1.6zM525.1 433.4h1.6v1.6h-1.6zM505.0 451.0h1.6v1.6h-1.6zM511.0 423.8h1.6v1.6h-1.6zM514.4 453.0h1.6v1.6h-1.6zM526.4 443.0h1.6v1.6h-1.6zM534.4 454.9h1.6v1.6h-1.6zM521.7 441.1h1.6v1.6h-1.6zM520.4 460.4h1.6v1.6h-1.6zM518.6 446.9h1.6v1.6h-1.6zM510.0 459.7h1.6v1.6h-1.6zM506.6 450.7h1.6v1.6h-1.6zM518.4 422.2h1.6v1.6h-1.6zM509.2 466.9h1.6v1.6h-1.6zM528.2 437.1h1.6v1.6h-1.6zM526.9 420.3h1.6v1.6h-1.6zM516.3 449.2h1.6v1.6h-1.6zM509.4 441.3h1.6v1.6h-1.6zM521.3 456.3h1.6v1.6h-1.6zM517.8 446.2h1.6v1.6h-1.6zM505.7 436.1h1.6v1.6h-1.6zM534.8 470.1h1.6v1.6h-1.6zM508.6 459.1h1.6v1.6h-1.6zM519.2 446.1h1.6v1.6h-1.6zM528.6 439.6h1.6v1.6h-1.6zM515.5 458.9h1.6v1.6h-1.6zM525.8 439.4h1.6v1.6h-1.6zM524.0 459.6h1.6v1.6h-1.6zM515.0 412.2h1.6v1.6h-1.6zM517.3 437.2h1.6v1.6h-1.6zM525.6 455.2h1.6v1.6h-1.6zM516.8 436.5h1.6v1.6h-1.6zM522.9 450.5h1.6v1.6h-1.6zM506.3 431.1h1.6v1.6h-1.6zM533.5 435.9h1.6v1.6h-1.6zM518.9 430.3h1.6v1.6h-1.6zM518.7 435.2h1.6v1.6h-1.6zM516.5 465.4h1.6v1.6h-1.6zM518.2 454.2h1.6v1.6h-1.6zM511.1 453.3h1.6v1.6h-1.6zM529.9 415.6h1.6v1.6h-1.6zM530.3 423.9h1.6v1.6h-1.6zM511.1 477.1h1.6v1.6h-1.6zM520.0 470.6h1.6v1.6h-1.6zM513.3 453.7h1.6v1.6h-1.6zM519.5 429.3h1.6v1.6h-1.6zM520.2 460.3h1.6v1.6h-1.6zM530.5 447.3h1.6v1.6h-1.6zM520.1 465.0h1.6v1.6h-1.6zM512.2 437.0h1.6v1.6h-1.6zM510.4 471.8h1.6v1.6h-1.6zM524.3 441.4h1.6v1.6h-1.6zM521.5 452.2h1.6v1.6h-1.6zM516.7 446.5h1.6v1.6h-1.6zM510.6 434.5h1.6v1.6h-1.6zM519.1 443.7h1.6v1.6h-1.6zM525.8 442.5h1.6v1.6h-1.6zM523.9 442.5h1.6v1.6h-1.6zM520.5 467.5h1.6v1.6h-1.6zM514.7 454.3h1.6v1.6h-1.6zM522.9 436.1h1.6v1.6h-1.6zM522.9 441.8h1.6v1.6h-1.6zM533.5 429.6h1.6v1.6h-1.6zM529.8 448.5h1.6v1.6h-1.6zM526.6 439.4h1.6v1.6h-1.6zM524.1 431.0h1.6v1.6h-1.6zM526.0 458.4h1.6v1.6h-1.6zM510.0 446.4h1.6v1.6h-1.6zM524.1 450.5h1.6v1.6h-1.6zM523.6 454.9h1.6v1.6h-1.6zM516.2 420.4h1.6v1.6h-1.6zM521.7 448.8h1.6v1.6h-1.6zM520.5 440.1h1.6v1.6h-1.6zM529.4 452.7h1.6v1.6h-1.6zM531.4 442.5h1.6v1.6h-1.6zM521.2 450.1h1.6v1.6h-1.6zM532.4 445.6h1.6v1.6h-1.6zM523.3 421.7h1.6v1.6h-1.6zM516.9 459.5h1.6v1.6h-1.6zM520.7 467.1h1.6v1.6h-1.6zM515.7 432.2h1.6v1.6h-1.6zM527.1 448.7h1.6v1.6h-1.6zM525.2 446.9h1.6v1.6h-1.6zM533.1 461.9h1.6v1.6h-1.6zM526.3 455.9h1.6v1.6h-1.6zM520.7 424.7h1.6v1.6h-1.6zM527.2 432.9h1.6v1.6h-1.6zM526.4 425.3h1.6v1.6h-1.6zM522.7 442.8h1.6v1.6h-1.6zM519.6 424.2h1.6v1.6h-1.6zM530.3 462.7h1.6v1.6h-1.6zM523.2 423.0h1.6v1.6h-1.6zM515.5 477.6h1.6v1.6h-1.6zM518.2 425.2h1.6v1.6h-1.6zM513.6 432.9h1.6v1.6h-1.6zM525.5 435.0h1.6v1.6h-1.6zM517.5 443.1h1.6v1.6h-1.6zM516.4 446.8h1.6v1.6h-1.6zM527.8 460.3h1.6v1.6h-1.6zM507.0 436.7h1.6v1.6h-1.6zM514.9 450.3h1.6v1.6h-1.6zM514.3 418.9h1.6v1.6h-1.6zM531.7 455.2h1.6v1.6h-1.6zM524.7 457.4h1.6v1.6h-1.6zM525.9 459.8h1.6v1.6h-1.6zM517.1 458.9h1.6v1.6h-1.6zM518.1 450.9h1.6v1.6h-1.6zM537.3 453.2h1.6v1.6h-1.6zM530.4 458.8h1.6v1.6h-1.6zM512.8 438.8h1.6v1.6h-1.6zM507.9 458.1h1.6v1.6h-1.6zM523.1 450.3h1.6v1.6h-1.6zM529.4 468.5h1.6v1.6h-1.6zM527.5 460.5h1.6v1.6h-1.6zM526.0 419.7h1.6v1.6h-1.6zM519.7 450.7h1.6v1.6h-1.6zM513.4 460.5h1.6v1.6h-1.6zM511.3 455.4h1.6v1.6h-1.6zM525.8 469.5h1.6v1.6h-1.6zM528.1 447.6h1.6v1.6h-1.6zM538.0 432.8h1.6v1.6h-1.6zM507.5 433.8h1.6v1.6h-1.6zM508.7 432.1h1.6v1.6h-1.6zM527.7 453.3h1.6v1.6h-1.6zM522.3 440.2h1.6v1.6h-1.6zM537.8 453.6h1.6v1.6h-1.6zM522.3 461.8h1.6v1.6h-1.6zM516.0 471.1h1.6v1.6h-1.6zM519.5 482.4h1.6v1.6h-1.6zM526.8 464.7h1.6v1.6h-1.6zM525.6 435.5h1.6v1.6h-1.6zM508.1 449.3h1.6v1.6h-1.6zM510.7 439.6h1.6v1.6h-1.6zM516.4 444.5h1.6v1.6h-1.6zM516.6 443.1h1.6v1.6h-1.6zM520.3 446.5h1.6v1.6h-1.6zM524.3 446.1h1.6v1.6h-1.6zM517.5 417.3h1.6v1.6h-1.6zM519.5 414.6h1.6v1.6h-1.6zM517.5 474.5h1.6v1.6h-1.6zM524.1 443.1h1.6v1.6h-1.6zM524.2 456.1h1.6v1.6h-1.6zM518.2 442.9h1.6v1.6h-1.6zM506.3 452.0h1.6v1.6h-1.6zM523.4 458.0h1.6v1.6h-1.6zM538.1 439.3h1.6v1.6h-1.6zM532.7 429.4h1.6v1.6h-1.6zM521.7 444.1h1.6v1.6h-1.6zM521.5 465.2h1.6v1.6h-1.6zM535.5 441.7h1.6v1.6h-1.6zM521.7 443.6h1.6v1.6h-1.6zM529.3 431.8h1.6v1.6h-1.6zM522.3 447.7h1.6v1.6h-1.6zM530.0 478.7h1.6v1.6h-1.6zM518.9 474.9h1.6v1.6h-1.6zM509.9 461.4h1.6v1.6h-1.6zM522.5 452.3h1.6v1.6h-1.6zM515.3 448.3h1.6v1.6h-1.6zM524.4 428.7h1.6v1.6h-1.6zM525.4 436.6h1.6v1.6h-1.6zM516.2 464.5h1.6v1.6h-1.6zM524.8 429.1h1.6v1.6h-1.6zM526.1 442.3h1.6v1.6h-1.6zM528.2 446.6h1.6v1.6h-1.6zM525.1 431.9h1.6v1.6h-1.6zM520.6 437.9h1.6v1.6h-1.6zM515.8 436.9h1.6v1.6h-1.6zM526.5 444.6h1.6v1.6h-1.6zM518.9 455.3h1.6v1.6h-1.6zM522.8 442.7h1.6v1.6h-1.6zM520.7 468.0h1.6v1.6h-1.6zM529.7 473.7h1.6v1.6h-1.6zM515.8 471.0h1.6v1.6h-1.6zM524.6 434.2h1.6v1.6h-1.6zM517.8 410.4h1.6v1.6h-1.6zM518.9 452.4h1.6v1.6h-1.6zM531.6 473.9h1.6v1.6h-1.6zM523.2 460.9h1.6v1.6h-1.6zM521.1 438.5h1.6v1.6h-1.6zM510.2 448.3h1.6v1.6h-1.6zM522.8 438.0h1.6v1.6h-1.6zM510.5 442.2h1.6v1.6h-1.6zM506.5 442.3h1.6v1.6h-1.6zM504.1 458.5h1.6v1.6h-1.6zM527.9 460.9h1.6v1.6h-1.6zM520.1 434.6h1.6v1.6h-1.6zM515.2 448.2h1.6v1.6h-1.6zM508.7 456.9h1.6v1.6h-1.6zM517.9 433.6h1.6v1.6h-1.6zM531.6 465.5h1.6v1.6h-1.6zM527.7 470.1h1.6v1.6h-1.6zM514.6 427.7h1.6v1.6h-1.6zM509.5 444.8h1.6v1.6h-1.6zM528.1 449.6h1.6v1.6h-1.6zM527.3 420.1h1.6v1.6h-1.6zM516.9 442.3h1.6v1.6h-1.6zM519.7 474.8h1.6v1.6h-1.6zM520.8 446.8h1.6v1.6h-1.6zM515.9 458.4h1.6v1.6h-1.6zM527.5 472.3h1.6v1.6h-1.6zM528.9 438.4h1.6v1.6h-1.6zM516.6 454.1h1.6v1.6h-1.6zM517.9 452.3h1.6v1.6h-1.6zM520.9 423.6h1.6v1.6h-1.6zM514.3 415.8h1.6v1.6h-1.6zM504.9 453.3h1.6v1.6h-1.6zM515.8 450.1h1.6v1.6h-1.6zM521.5 458.3h1.6v1.6h-1.6zM512.8 466.4h1.6v1.6h-1.6zM523.9 463.1h1.6v1.6h-1.6zM527.1 435.9h1.6v1.6h-1.6zM524.2 450.2h1.6v1.6h-1.6zM510.9 440.4h1.6v1.6h-1.6zM526.9 452.8h1.6v1.6h-1.6zM528.1 457.4h1.6v1.6h-1.6zM506.4 462.1h1.6v1.6h-1.6zM525.0 442.3h1.6v1.6h-1.6zM522.7 440.1h1.6v1.6h-1.6zM521.2 461.3h1.6v1.6h-1.6zM526.5 427.7h1.6v1.6h-1.6zM523.8 443.5h1.6v1.6h-1.6zM507.2 457.2h1.6v1.6h-1.6zM527.5 437.1h1.6v1.6h-1.6zM524.2 476.6h1.6v1.6h-1.6zM518.9 431.8h1.6v1.6h-1.6zM511.9 456.0h1.6v1.6h-1.6zM516.4 443.7h1.6v1.6h-1.6zM516.9 462.2h1.6v1.6h-1.6zM515.6 411.3h1.6v1.6h-1.6zM508.7 471.9h1.6v1.6h-1.6zM514.2 460.5h1.6v1.6h-1.6zM514.0 434.9h1.6v1.6h-1.6zM529.4 451.3h1.6v1.6h-1.6zM524.8 460.0h1.6v1.6h-1.6zM508.6 422.5h1.6v1.6h-1.6zM526.6 428.8h1.6v1.6h-1.6zM508.2 445.8h1.6v1.6h-1.6zM521.6 441.1h1.6v1.6h-1.6zM510.6 453.3h1.6v1.6h-1.6zM522.9 475.5h1.6v1.6h-1.6zM528.7 437.7h1.6v1.6h-1.6zM532.3 461.4h1.6v1.6h-1.6zM522.7 468.8h1.6v1.6h-1.6zM521.4 433.9h1.6v1.6h-1.6zM530.0 470.8h1.6v1.6h-1.6zM523.4 452.8h1.6v1.6h-1.6zM521.6 448.1h1.6v1.6h-1.6zM528.2 434.8h1.6v1.6h-1.6zM517.3 453.6h1.6v1.6h-1.6zM516.7 448.8h1.6v1.6h-1.6zM527.0 448.9h1.6v1.6h-1.6zM526.8 431.9h1.6v1.6h-1.6zM524.7 429.8h1.6v1.6h-1.6zM514.1 449.6h1.6v1.6h-1.6zM510.4 455.5h1.6v1.6h-1.6zM523.0 473.5h1.6v1.6h-1.6zM522.6 470.8h1.6v1.6h-1.6zM517.5 437.1h1.6v1.6h-1.6zM524.7 431.9h1.6v1.6h-1.6zM507.7 447.7h1.6v1.6h-1.6zM551.9 440.1h1.6v1.6h-1.6zM525.4 443.9h1.6v1.6h-1.6zM547.6 456.0h1.6v1.6h-1.6zM545.2 449.6h1.6v1.6h-1.6zM536.3 477.5h1.6v1.6h-1.6zM548.8 456.7h1.6v1.6h-1.6zM528.4 435.1h1.6v1.6h-1.6zM541.3 433.7h1.6v1.6h-1.6zM541.9 460.8h1.6v1.6h-1.6zM531.5 460.9h1.6v1.6h-1.6zM537.1 479.0h1.6v1.6h-1.6zM536.9 447.8h1.6v1.6h-1.6zM538.1 473.0h1.6v1.6h-1.6zM531.4 449.5h1.6v1.6h-1.6zM547.2 460.1h1.6v1.6h-1.6zM548.8 453.8h1.6v1.6h-1.6zM531.4 454.1h1.6v1.6h-1.6zM545.0 461.7h1.6v1.6h-1.6zM537.2 445.6h1.6v1.6h-1.6zM521.7 472.9h1.6v1.6h-1.6zM548.0 457.7h1.6v1.6h-1.6zM526.2 447.7h1.6v1.6h-1.6zM531.6 456.7h1.6v1.6h-1.6zM531.7 438.6h1.6v1.6h-1.6zM548.4 432.6h1.6v1.6h-1.6z" fill="#0000ff"/>
<path d="M526.3 431.5h1.6v1.6h-1.6zM518.9 456.4h1.6v1.6h-1.6z" fill="#ff2a2a"/>
<rect x="478.10" y="387.80" width="110.90" height="111.50" stroke="#8a8a8a" stroke-width="1" fill="none"/>
<line x1="534.70" y1="387.80" x2="534.70" y2="499.30" stroke="#333" stroke-width="1.1"/>
<line x1="478.10" y1="440.30" x2="589.00" y2="440.30" stroke="#333" stroke-width="1.1"/>
<text x="532.20" y="381.50" font-size="13" text-anchor="middle" font-weight="normal" fill="#000" >ILC1 +anti-TNFα</text>
<text x="483.90" y="407.20" font-size="14.5" text-anchor="start" font-weight="normal" fill="#000" >26.7</text>
<text x="580.40" y="407.20" font-size="14.5" text-anchor="end" font-weight="normal" fill="#000" >1.91</text>
<text x="483.90" y="495.30" font-size="14.5" text-anchor="start" font-weight="normal" fill="#000" >61.5</text>
<text x="580.40" y="495.30" font-size="14.5" text-anchor="end" font-weight="normal" fill="#000" >9.92</text>
<line x1="474.80" y1="397.30" x2="478.10" y2="397.30" stroke="#555" stroke-width="1"/>
<text transform="translate(466.80,405.10) scale(1.0,1)" font-size="9.4" text-anchor="end">10</text>
<text transform="translate(467.50,397.50) scale(1.0,1)" font-size="9.4" text-anchor="start">5</text>
<line x1="474.80" y1="421.30" x2="478.10" y2="421.30" stroke="#555" stroke-width="1"/>
<text transform="translate(466.80,429.10) scale(1.0,1)" font-size="9.4" text-anchor="end">10</text>
<text transform="translate(467.50,421.50) scale(1.0,1)" font-size="9.4" text-anchor="start">4</text>
<line x1="474.80" y1="449.90" x2="478.10" y2="449.90" stroke="#555" stroke-width="1"/>
<text transform="translate(466.80,457.70) scale(1.0,1)" font-size="9.4" text-anchor="end">10</text>
<text transform="translate(467.50,450.10) scale(1.0,1)" font-size="9.4" text-anchor="start">3</text>
<line x1="474.80" y1="466.60" x2="478.10" y2="466.60" stroke="#555" stroke-width="1"/>
<text transform="translate(466.70,472.20) scale(1.0,1)" font-size="9.4" text-anchor="end">0</text>
<line x1="474.80" y1="483.00" x2="478.10" y2="483.00" stroke="#555" stroke-width="1"/>
<text transform="translate(466.80,490.80) scale(1.0,1)" font-size="9.4" text-anchor="end">-10</text>
<text transform="translate(467.50,483.20) scale(1.0,1)" font-size="9.4" text-anchor="start">3</text>
<line x1="498.75" y1="499.30" x2="498.75" y2="501.80" stroke="#555" stroke-width="1"/>
<line x1="547.50" y1="499.30" x2="547.50" y2="501.80" stroke="#555" stroke-width="1"/>
<line x1="580.20" y1="499.30" x2="580.20" y2="501.80" stroke="#555" stroke-width="1"/>
<text transform="translate(498.75,517.00) scale(1.0,1)" font-size="9.4" text-anchor="middle">0</text>
<text transform="translate(539.20,517.00) scale(1.0,1)" font-size="9.4" text-anchor="start">10</text>
<text transform="translate(550.10,510.00) scale(1.0,1)" font-size="9.4" text-anchor="start">4</text>
<text transform="translate(571.90,517.00) scale(1.0,1)" font-size="9.4" text-anchor="start">10</text>
<text transform="translate(582.80,510.00) scale(1.0,1)" font-size="9.4" text-anchor="start">5</text>
<path d="M476.3 414.1h1.8M476.3 409.8h1.8M476.3 406.9h1.8M476.3 404.5h1.8M476.3 402.6h1.8M476.3 401.0h1.8M476.3 399.6h1.8M476.3 398.4h1.8M476.3 441.3h1.8M476.3 436.3h1.8M476.3 432.7h1.8M476.3 429.9h1.8M476.3 427.6h1.8M476.3 425.7h1.8M476.3 424.1h1.8M476.3 422.6h1.8M476.3 461.6h1.8M476.3 458.6h1.8M476.3 456.5h1.8M476.3 454.9h1.8M476.3 453.6h1.8M476.3 452.5h1.8M476.3 451.5h1.8M476.3 450.7h1.8" stroke="#777" stroke-width="0.8" fill="none"/>
<path d="M557.9 499.3v1.8M563.6 499.3v1.8M567.7 499.3v1.8M570.8 499.3v1.8M573.4 499.3v1.8M575.6 499.3v1.8M577.5 499.3v1.8M579.1 499.3v1.8M482.1 499.3v1.8M485.4 499.3v1.8M488.7 499.3v1.8M492.0 499.3v1.8M495.3 499.3v1.8M498.6 499.3v1.8M501.9 499.3v1.8M505.2 499.3v1.8M508.5 499.3v1.8M511.8 499.3v1.8M515.1 499.3v1.8M518.4 499.3v1.8M521.7 499.3v1.8M525.0 499.3v1.8M528.3 499.3v1.8M531.6 499.3v1.8M534.9 499.3v1.8M538.2 499.3v1.8" stroke="#777" stroke-width="0.8" fill="none"/>
<rect x="495.1" y="499.8" width="4.5" height="2" fill="#111"/>
<rect x="475.3" y="465.1" width="2.6" height="3" fill="#111"/>
<text transform="translate(30.9,459.2) rotate(-90)" font-size="12.5" text-anchor="middle">CD38-PE-Cy7</text>
<line x1="26.10" y1="417.00" x2="26.10" y2="390.00" stroke="#333" stroke-width="1.4"/>
<path d="M26 387.9 L23.3 393 L26 391.8 L28.7 393 Z" fill="#000"/>
<text x="55.50" y="535.10" font-size="13" text-anchor="start" font-weight="normal" fill="#000" >CD34-PE</text>
<line x1="116.80" y1="528.40" x2="586.00" y2="528.40" stroke="#000" stroke-width="1.2"/>
<path d="M588.2 528.4 L582.8 525.8 L584.3 528.4 L582.8 531 Z" fill="#000"/>
<path d="M173.0 388.3h1.6v1.6h-1.6zM271.5 389.2h1.6v1.6h-1.6zM285.0 389.0h1.6v1.6h-1.6zM298.0 388.6h1.6v1.6h-1.6zM309.0 388.6h1.6v1.6h-1.6zM248.0 393.0h1.6v1.6h-1.6zM256.5 392.0h1.6v1.6h-1.6zM409.0 391.6h1.6v1.6h-1.6zM449.5 389.2h1.6v1.6h-1.6zM587.7 388.4h1.6v1.6h-1.6zM240.0 481.0h1.6v1.6h-1.6zM254.0 479.0h1.6v1.6h-1.6z" fill="#0000ff"/>
<text x="-0.50" y="190.00" font-size="18.5" text-anchor="start" font-weight="bold" fill="#000" >b</text>
<text x="169.00" y="191.30" font-size="18.5" text-anchor="start" font-weight="bold" fill="#000" >c</text>
<text x="339.00" y="190.00" font-size="18.5" text-anchor="start" font-weight="bold" fill="#000" >d</text>
<text x="507.40" y="190.80" font-size="18.5" text-anchor="start" font-weight="bold" fill="#000" >e</text>
<text x="0.40" y="567.50" font-size="18.5" text-anchor="start" font-weight="bold" fill="#000" >g</text>
<text x="178.80" y="568.20" font-size="18.5" text-anchor="start" font-weight="bold" fill="#000" >h</text>
<text x="349.20" y="567.90" font-size="18.5" text-anchor="start" font-weight="bold" fill="#000" >i</text>
<text x="520.80" y="567.80" font-size="18.5" text-anchor="start" font-weight="bold" fill="#000" >j</text>
<line x1="81.40" y1="201.80" x2="81.40" y2="301.10" stroke="#000" stroke-width="1.3"/>
<line x1="77.40" y1="202.40" x2="81.40" y2="202.40" stroke="#000" stroke-width="1.1"/>
<text x="75.90" y="207.30" font-size="13.7" text-anchor="end">4×10<tspan font-size="8" dx="1" dy="-5.1">2</tspan></text>
<line x1="77.40" y1="227.00" x2="81.40" y2="227.00" stroke="#000" stroke-width="1.1"/>
<text x="75.90" y="231.90" font-size="13.7" text-anchor="end">3×10<tspan font-size="8" dx="1" dy="-5.1">2</tspan></text>
<line x1="77.40" y1="251.50" x2="81.40" y2="251.50" stroke="#000" stroke-width="1.1"/>
<text x="75.90" y="256.40" font-size="13.7" text-anchor="end">2×10<tspan font-size="8" dx="1" dy="-5.1">2</tspan></text>
<line x1="77.40" y1="276.00" x2="81.40" y2="276.00" stroke="#000" stroke-width="1.1"/>
<text x="75.90" y="280.90" font-size="13.7" text-anchor="end">1×10<tspan font-size="8" dx="1" dy="-5.1">2</tspan></text>
<line x1="77.40" y1="300.50" x2="81.40" y2="300.50" stroke="#000" stroke-width="1.1"/>
<text x="74.90" y="305.40" font-size="13.7" text-anchor="end" font-weight="normal" fill="#000" >0</text>
<text transform="translate(32.50,247.90) rotate(-90)" font-size="13.5" text-anchor="middle"><tspan>CD34</tspan><tspan font-size="9.3" dy="-5">+</tspan><tspan dy="5">CD38</tspan><tspan font-size="9.3" dy="-5">-</tspan><tspan dy="5">cells</tspan></text>
<rect x="89.30" y="279.20" width="14.60" height="21.30" fill="#fff" stroke="#000" stroke-width="1.1"/>
<line x1="96.60" y1="279.20" x2="96.60" y2="253.20" stroke="#000" stroke-width="1"/>
<line x1="92.60" y1="253.20" x2="100.60" y2="253.20" stroke="#000" stroke-width="1"/>
<rect x="112.00" y="298.50" width="14.50" height="2.00" fill="#fff" stroke="#000" stroke-width="1.1"/>
<rect x="134.60" y="298.50" width="14.60" height="2.00" fill="#fff" stroke="#000" stroke-width="1.1"/>
<rect x="157.30" y="296.50" width="14.60" height="4.00" fill="#fff" stroke="#000" stroke-width="1.1"/>
<circle cx="96.30" cy="241.30" r="2.05" fill="#ffffff" stroke="#000" stroke-width="0.85"/>
<circle cx="96.30" cy="251.40" r="2.05" fill="#ffffff" stroke="#000" stroke-width="0.85"/>
<circle cx="96.30" cy="255.90" r="2.05" fill="#ffffff" stroke="#000" stroke-width="0.85"/>
<circle cx="96.30" cy="280.70" r="2.05" fill="#ffffff" stroke="#000" stroke-width="0.85"/>
<circle cx="90.80" cy="299.20" r="2.05" fill="#ffffff" stroke="#000" stroke-width="0.85"/>
<circle cx="93.70" cy="299.20" r="2.05" fill="#ffffff" stroke="#000" stroke-width="0.85"/>
<circle cx="96.60" cy="299.20" r="2.05" fill="#ffffff" stroke="#000" stroke-width="0.85"/>
<circle cx="99.50" cy="299.20" r="2.05" fill="#ffffff" stroke="#000" stroke-width="0.85"/>
<circle cx="102.40" cy="299.20" r="2.05" fill="#ffffff" stroke="#000" stroke-width="0.85"/>
<circle cx="119.20" cy="294.90" r="2.05" fill="#4a90e2" stroke="#000" stroke-width="0.85"/>
<circle cx="113.40" cy="299.20" r="2.05" fill="#4a90e2" stroke="#000" stroke-width="0.85"/>
<circle cx="117.00" cy="299.20" r="2.05" fill="#4a90e2" stroke="#000" stroke-width="0.85"/>
<circle cx="121.40" cy="299.20" r="2.05" fill="#4a90e2" stroke="#000" stroke-width="0.85"/>
<circle cx="124.30" cy="299.20" r="2.05" fill="#4a90e2" stroke="#000" stroke-width="0.85"/>
<circle cx="137.80" cy="296.30" r="2.05" fill="#a000e6" stroke="#000" stroke-width="0.85"/>
<circle cx="136.00" cy="300.00" r="2.05" fill="#a000e6" stroke="#000" stroke-width="0.85"/>
<circle cx="140.40" cy="300.00" r="2.05" fill="#a000e6" stroke="#000" stroke-width="0.85"/>
<circle cx="144.00" cy="300.00" r="2.05" fill="#a000e6" stroke="#000" stroke-width="0.85"/>
<circle cx="147.70" cy="300.00" r="2.05" fill="#a000e6" stroke="#000" stroke-width="0.85"/>
<circle cx="160.80" cy="294.90" r="2.05" fill="#ec1c7c" stroke="#000" stroke-width="0.85"/>
<circle cx="164.50" cy="295.60" r="2.05" fill="#ec1c7c" stroke="#000" stroke-width="0.85"/>
<circle cx="167.40" cy="297.00" r="2.05" fill="#ec1c7c" stroke="#000" stroke-width="0.85"/>
<circle cx="170.30" cy="294.90" r="2.05" fill="#ec1c7c" stroke="#000" stroke-width="0.85"/>
<circle cx="158.60" cy="296.30" r="2.05" fill="#ec1c7c" stroke="#000" stroke-width="0.85"/>
<circle cx="160.50" cy="299.30" r="2.05" fill="#ec1c7c" stroke="#000" stroke-width="0.85"/>
<circle cx="165.00" cy="299.30" r="2.05" fill="#ec1c7c" stroke="#000" stroke-width="0.85"/>
<circle cx="169.50" cy="299.30" r="2.05" fill="#ec1c7c" stroke="#000" stroke-width="0.85"/>
<line x1="80.80" y1="300.50" x2="180.00" y2="300.50" stroke="#000" stroke-width="1.3"/>
<line x1="95.40" y1="236.50" x2="121.70" y2="236.50" stroke="#000" stroke-width="1"/>
<text x="109.15" y="235.70" font-size="10.8" text-anchor="middle" font-weight="normal" fill="#000" >NS</text>
<line x1="95.40" y1="226.40" x2="148.40" y2="226.40" stroke="#000" stroke-width="1"/>
<text x="122.20" y="224.10" font-size="10.8" text-anchor="middle" font-weight="normal" fill="#000" >NS</text>
<line x1="95.40" y1="212.40" x2="166.40" y2="212.40" stroke="#000" stroke-width="1"/>
<text x="129.80" y="210.80" font-size="10.8" text-anchor="middle" font-weight="normal" fill="#000" >NS</text>
<text transform="translate(104.10,309.50) rotate(-45)" font-size="13" text-anchor="end">No ILC1</text>
<text transform="translate(126.70,309.50) rotate(-45)" font-size="13" text-anchor="end">ILC1</text>
<text transform="translate(149.40,309.50) rotate(-45)" font-size="13" text-anchor="end">IFNγ</text>
<text transform="translate(172.00,309.50) rotate(-45)" font-size="13" text-anchor="end">TNFα</text>
<line x1="247.00" y1="201.80" x2="247.00" y2="301.10" stroke="#000" stroke-width="1.3"/>
<line x1="243.00" y1="202.40" x2="247.00" y2="202.40" stroke="#000" stroke-width="1.1"/>
<text x="242.30" y="207.30" font-size="13.7" text-anchor="end">8×10<tspan font-size="8" dx="1" dy="-5.1">3</tspan></text>
<line x1="243.00" y1="227.00" x2="247.00" y2="227.00" stroke="#000" stroke-width="1.1"/>
<text x="242.30" y="231.90" font-size="13.7" text-anchor="end">6×10<tspan font-size="8" dx="1" dy="-5.1">3</tspan></text>
<line x1="243.00" y1="251.50" x2="247.00" y2="251.50" stroke="#000" stroke-width="1.1"/>
<text x="242.30" y="256.40" font-size="13.7" text-anchor="end">4×10<tspan font-size="8" dx="1" dy="-5.1">3</tspan></text>
<line x1="243.00" y1="276.00" x2="247.00" y2="276.00" stroke="#000" stroke-width="1.1"/>
<text x="242.30" y="280.90" font-size="13.7" text-anchor="end">2×10<tspan font-size="8" dx="1" dy="-5.1">3</tspan></text>
<line x1="243.00" y1="300.50" x2="247.00" y2="300.50" stroke="#000" stroke-width="1.1"/>
<text x="241.30" y="305.40" font-size="13.7" text-anchor="end" font-weight="normal" fill="#000" >0</text>
<text transform="translate(197.60,247.70) rotate(-90)" font-size="13.5" text-anchor="middle"><tspan>CD34</tspan><tspan font-size="9.3" dy="-5">+</tspan><tspan dy="5">CD38</tspan><tspan font-size="9.3" dy="-5">+</tspan><tspan dy="5">cells</tspan></text>
<rect x="255.30" y="292.10" width="14.60" height="8.40" fill="#fff" stroke="#000" stroke-width="1.1"/>
<line x1="262.60" y1="292.10" x2="262.60" y2="283.40" stroke="#000" stroke-width="1"/>
<line x1="258.60" y1="283.40" x2="266.60" y2="283.40" stroke="#000" stroke-width="1"/>
<rect x="277.90" y="279.10" width="14.60" height="21.40" fill="#fff" stroke="#000" stroke-width="1.1"/>
<line x1="285.20" y1="279.10" x2="285.20" y2="261.00" stroke="#000" stroke-width="1"/>
<line x1="281.20" y1="261.00" x2="289.20" y2="261.00" stroke="#000" stroke-width="1"/>
<rect x="300.60" y="296.50" width="14.60" height="4.00" fill="#fff" stroke="#000" stroke-width="1.1"/>
<rect x="323.50" y="277.20" width="14.00" height="23.30" fill="#fff" stroke="#000" stroke-width="1.1"/>
<line x1="330.50" y1="277.20" x2="330.50" y2="251.70" stroke="#000" stroke-width="1"/>
<line x1="326.50" y1="251.70" x2="334.50" y2="251.70" stroke="#000" stroke-width="1"/>
<circle cx="262.30" cy="277.70" r="2.05" fill="#ffffff" stroke="#000" stroke-width="0.85"/>
<circle cx="258.50" cy="287.00" r="2.05" fill="#ffffff" stroke="#000" stroke-width="0.85"/>
<circle cx="262.30" cy="285.50" r="2.05" fill="#ffffff" stroke="#000" stroke-width="0.85"/>
<circle cx="266.20" cy="287.00" r="2.05" fill="#ffffff" stroke="#000" stroke-width="0.85"/>
<circle cx="257.00" cy="299.10" r="2.05" fill="#ffffff" stroke="#000" stroke-width="0.85"/>
<circle cx="260.00" cy="299.10" r="2.05" fill="#ffffff" stroke="#000" stroke-width="0.85"/>
<circle cx="262.90" cy="299.10" r="2.05" fill="#ffffff" stroke="#000" stroke-width="0.85"/>
<circle cx="265.80" cy="299.10" r="2.05" fill="#ffffff" stroke="#000" stroke-width="0.85"/>
<circle cx="268.70" cy="299.10" r="2.05" fill="#ffffff" stroke="#000" stroke-width="0.85"/>
<circle cx="279.40" cy="257.50" r="2.05" fill="#4a90e2" stroke="#000" stroke-width="0.85"/>
<circle cx="285.20" cy="262.30" r="2.05" fill="#4a90e2" stroke="#000" stroke-width="0.85"/>
<circle cx="290.80" cy="258.50" r="2.05" fill="#4a90e2" stroke="#000" stroke-width="0.85"/>
<circle cx="285.20" cy="268.00" r="2.05" fill="#4a90e2" stroke="#000" stroke-width="0.85"/>
<circle cx="285.20" cy="290.70" r="2.05" fill="#4a90e2" stroke="#000" stroke-width="0.85"/>
<circle cx="279.40" cy="294.70" r="2.05" fill="#4a90e2" stroke="#000" stroke-width="0.85"/>
<circle cx="279.40" cy="298.70" r="2.05" fill="#4a90e2" stroke="#000" stroke-width="0.85"/>
<circle cx="290.80" cy="298.70" r="2.05" fill="#4a90e2" stroke="#000" stroke-width="0.85"/>
<circle cx="303.90" cy="290.40" r="2.05" fill="#a000e6" stroke="#000" stroke-width="0.85"/>
<circle cx="307.90" cy="290.80" r="2.05" fill="#a000e6" stroke="#000" stroke-width="0.85"/>
<circle cx="311.80" cy="291.10" r="2.05" fill="#a000e6" stroke="#000" stroke-width="0.85"/>
<circle cx="307.60" cy="295.20" r="2.05" fill="#a000e6" stroke="#000" stroke-width="0.85"/>
<circle cx="302.00" cy="299.20" r="2.05" fill="#a000e6" stroke="#000" stroke-width="0.85"/>
<circle cx="305.70" cy="299.20" r="2.05" fill="#a000e6" stroke="#000" stroke-width="0.85"/>
<circle cx="309.30" cy="299.20" r="2.05" fill="#a000e6" stroke="#000" stroke-width="0.85"/>
<circle cx="313.00" cy="299.20" r="2.05" fill="#a000e6" stroke="#000" stroke-width="0.85"/>
<circle cx="329.70" cy="230.10" r="2.05" fill="#ec1c7c" stroke="#000" stroke-width="0.85"/>
<circle cx="330.50" cy="260.00" r="2.05" fill="#ec1c7c" stroke="#000" stroke-width="0.85"/>
<circle cx="328.30" cy="267.70" r="2.05" fill="#ec1c7c" stroke="#000" stroke-width="0.85"/>
<circle cx="332.40" cy="266.00" r="2.05" fill="#ec1c7c" stroke="#000" stroke-width="0.85"/>
<circle cx="324.90" cy="298.40" r="2.05" fill="#ec1c7c" stroke="#000" stroke-width="0.85"/>
<circle cx="328.60" cy="295.80" r="2.05" fill="#ec1c7c" stroke="#000" stroke-width="0.85"/>
<circle cx="332.20" cy="297.70" r="2.05" fill="#ec1c7c" stroke="#000" stroke-width="0.85"/>
<circle cx="335.90" cy="296.90" r="2.05" fill="#ec1c7c" stroke="#000" stroke-width="0.85"/>
<line x1="246.40" y1="300.50" x2="345.50" y2="300.50" stroke="#000" stroke-width="1.3"/>
<line x1="262.60" y1="252.30" x2="286.30" y2="252.30" stroke="#000" stroke-width="1"/>
<text x="274.25" y="250.50" font-size="10.9" text-anchor="middle" font-weight="normal" fill="#000" >0.0095</text>
<line x1="262.60" y1="237.40" x2="309.90" y2="237.40" stroke="#000" stroke-width="1"/>
<text x="286.30" y="234.40" font-size="10.9" text-anchor="middle" font-weight="normal" fill="#000" >0.0348</text>
<line x1="262.60" y1="223.30" x2="330.90" y2="223.30" stroke="#000" stroke-width="1"/>
<text x="296.75" y="219.00" font-size="10.9" text-anchor="middle" font-weight="normal" fill="#000" >0.0025</text>
<text transform="translate(270.10,309.50) rotate(-45)" font-size="13" text-anchor="end">No ILC1</text>
<text transform="translate(292.70,309.50) rotate(-45)" font-size="13" text-anchor="end">ILC1</text>
<text transform="translate(315.40,309.50) rotate(-45)" font-size="13" text-anchor="end">IFNγ</text>
<text transform="translate(338.00,309.50) rotate(-45)" font-size="13" text-anchor="end">TNFα</text>
<line x1="415.40" y1="201.80" x2="415.40" y2="301.10" stroke="#000" stroke-width="1.3"/>
<line x1="411.40" y1="202.40" x2="415.40" y2="202.40" stroke="#000" stroke-width="1.1"/>
<text x="411.00" y="207.30" font-size="13.7" text-anchor="end">5×10<tspan font-size="8" dx="1" dy="-5.1">4</tspan></text>
<line x1="411.40" y1="222.00" x2="415.40" y2="222.00" stroke="#000" stroke-width="1.1"/>
<text x="411.00" y="226.90" font-size="13.7" text-anchor="end">4×10<tspan font-size="8" dx="1" dy="-5.1">4</tspan></text>
<line x1="411.40" y1="241.60" x2="415.40" y2="241.60" stroke="#000" stroke-width="1.1"/>
<text x="411.00" y="246.50" font-size="13.7" text-anchor="end">3×10<tspan font-size="8" dx="1" dy="-5.1">4</tspan></text>
<line x1="411.40" y1="261.20" x2="415.40" y2="261.20" stroke="#000" stroke-width="1.1"/>
<text x="411.00" y="266.10" font-size="13.7" text-anchor="end">2×10<tspan font-size="8" dx="1" dy="-5.1">4</tspan></text>
<line x1="411.40" y1="280.80" x2="415.40" y2="280.80" stroke="#000" stroke-width="1.1"/>
<text x="411.00" y="285.70" font-size="13.7" text-anchor="end">1×10<tspan font-size="8" dx="1" dy="-5.1">4</tspan></text>
<line x1="411.40" y1="300.50" x2="415.40" y2="300.50" stroke="#000" stroke-width="1.1"/>
<text x="410.00" y="305.40" font-size="13.7" text-anchor="end" font-weight="normal" fill="#000" >0</text>
<text transform="translate(366.30,248.20) rotate(-90)" font-size="13.5" text-anchor="middle"><tspan>CD34</tspan><tspan font-size="9.3" dy="-5">-</tspan><tspan dy="5">CD38</tspan><tspan font-size="9.3" dy="-5">+</tspan><tspan dy="5">cells</tspan></text>
<rect x="423.30" y="270.80" width="14.60" height="29.70" fill="#fff" stroke="#000" stroke-width="1.1"/>
<line x1="430.60" y1="270.80" x2="430.60" y2="246.00" stroke="#000" stroke-width="1"/>
<line x1="426.60" y1="246.00" x2="434.60" y2="246.00" stroke="#000" stroke-width="1"/>
<line x1="430.60" y1="270.80" x2="430.60" y2="294.10" stroke="#000" stroke-width="1"/>
<line x1="426.60" y1="294.10" x2="434.60" y2="294.10" stroke="#000" stroke-width="1"/>
<rect x="446.20" y="286.80" width="14.30" height="13.70" fill="#fff" stroke="#000" stroke-width="1.1"/>
<line x1="453.35" y1="286.80" x2="453.35" y2="274.70" stroke="#000" stroke-width="1"/>
<line x1="449.35" y1="274.70" x2="457.35" y2="274.70" stroke="#000" stroke-width="1"/>
<rect x="468.60" y="278.40" width="14.30" height="22.10" fill="#fff" stroke="#000" stroke-width="1.1"/>
<line x1="475.75" y1="278.40" x2="475.75" y2="256.60" stroke="#000" stroke-width="1"/>
<line x1="471.75" y1="256.60" x2="479.75" y2="256.60" stroke="#000" stroke-width="1"/>
<rect x="491.50" y="294.90" width="14.00" height="5.60" fill="#fff" stroke="#000" stroke-width="1.1"/>
<line x1="498.50" y1="294.90" x2="498.50" y2="289.30" stroke="#000" stroke-width="1"/>
<line x1="494.50" y1="289.30" x2="502.50" y2="289.30" stroke="#000" stroke-width="1"/>
<circle cx="425.00" cy="242.00" r="2.05" fill="#ffffff" stroke="#000" stroke-width="0.85"/>
<circle cx="436.10" cy="242.00" r="2.05" fill="#ffffff" stroke="#000" stroke-width="0.85"/>
<circle cx="430.30" cy="247.80" r="2.05" fill="#ffffff" stroke="#000" stroke-width="0.85"/>
<circle cx="430.30" cy="265.20" r="2.05" fill="#ffffff" stroke="#000" stroke-width="0.85"/>
<circle cx="425.00" cy="290.20" r="2.05" fill="#ffffff" stroke="#000" stroke-width="0.85"/>
<circle cx="436.10" cy="286.80" r="2.05" fill="#ffffff" stroke="#000" stroke-width="0.85"/>
<circle cx="425.00" cy="294.90" r="2.05" fill="#ffffff" stroke="#000" stroke-width="0.85"/>
<circle cx="436.10" cy="294.10" r="2.05" fill="#ffffff" stroke="#000" stroke-width="0.85"/>
<circle cx="453.20" cy="263.50" r="2.05" fill="#4a90e2" stroke="#000" stroke-width="0.85"/>
<circle cx="451.30" cy="278.80" r="2.05" fill="#4a90e2" stroke="#000" stroke-width="0.85"/>
<circle cx="451.30" cy="283.20" r="2.05" fill="#4a90e2" stroke="#000" stroke-width="0.85"/>
<circle cx="455.10" cy="283.20" r="2.05" fill="#4a90e2" stroke="#000" stroke-width="0.85"/>
<circle cx="451.30" cy="293.10" r="2.05" fill="#4a90e2" stroke="#000" stroke-width="0.85"/>
<circle cx="455.10" cy="295.60" r="2.05" fill="#4a90e2" stroke="#000" stroke-width="0.85"/>
<circle cx="458.60" cy="294.60" r="2.05" fill="#4a90e2" stroke="#000" stroke-width="0.85"/>
<circle cx="447.80" cy="297.00" r="2.05" fill="#4a90e2" stroke="#000" stroke-width="0.85"/>
<circle cx="475.60" cy="243.50" r="2.05" fill="#a000e6" stroke="#000" stroke-width="0.85"/>
<circle cx="474.00" cy="258.80" r="2.05" fill="#a000e6" stroke="#000" stroke-width="0.85"/>
<circle cx="477.80" cy="260.80" r="2.05" fill="#a000e6" stroke="#000" stroke-width="0.85"/>
<circle cx="475.60" cy="278.10" r="2.05" fill="#a000e6" stroke="#000" stroke-width="0.85"/>
<circle cx="474.00" cy="293.40" r="2.05" fill="#a000e6" stroke="#000" stroke-width="0.85"/>
<circle cx="481.40" cy="294.10" r="2.05" fill="#a000e6" stroke="#000" stroke-width="0.85"/>
<circle cx="470.30" cy="297.00" r="2.05" fill="#a000e6" stroke="#000" stroke-width="0.85"/>
<circle cx="477.80" cy="297.00" r="2.05" fill="#a000e6" stroke="#000" stroke-width="0.85"/>
<circle cx="492.90" cy="286.80" r="2.05" fill="#ec1c7c" stroke="#000" stroke-width="0.85"/>
<circle cx="492.90" cy="291.20" r="2.05" fill="#ec1c7c" stroke="#000" stroke-width="0.85"/>
<circle cx="500.20" cy="290.20" r="2.05" fill="#ec1c7c" stroke="#000" stroke-width="0.85"/>
<circle cx="504.00" cy="290.20" r="2.05" fill="#ec1c7c" stroke="#000" stroke-width="0.85"/>
<circle cx="492.90" cy="298.80" r="2.05" fill="#ec1c7c" stroke="#000" stroke-width="0.85"/>
<circle cx="496.60" cy="298.80" r="2.05" fill="#ec1c7c" stroke="#000" stroke-width="0.85"/>
<circle cx="500.20" cy="298.80" r="2.05" fill="#ec1c7c" stroke="#000" stroke-width="0.85"/>
<circle cx="504.00" cy="298.80" r="2.05" fill="#ec1c7c" stroke="#000" stroke-width="0.85"/>
<line x1="414.80" y1="300.50" x2="514.00" y2="300.50" stroke="#000" stroke-width="1.3"/>
<line x1="431.30" y1="238.30" x2="452.90" y2="238.30" stroke="#000" stroke-width="1"/>
<text x="442.90" y="236.00" font-size="10.9" text-anchor="middle" font-weight="normal" fill="#000" >0.0338</text>
<line x1="431.30" y1="223.00" x2="476.20" y2="223.00" stroke="#000" stroke-width="1"/>
<text x="452.65" y="221.20" font-size="10.9" text-anchor="middle" font-weight="normal" fill="#000" >0.0338</text>
<line x1="431.30" y1="208.40" x2="500.80" y2="208.40" stroke="#000" stroke-width="1"/>
<text x="465.90" y="204.10" font-size="10.9" text-anchor="middle" font-weight="normal" fill="#000" >0.0001</text>
<text transform="translate(438.10,309.50) rotate(-45)" font-size="13" text-anchor="end">No ILC1</text>
<text transform="translate(460.80,309.50) rotate(-45)" font-size="13" text-anchor="end">ILC1</text>
<text transform="translate(483.20,309.50) rotate(-45)" font-size="13" text-anchor="end">IFNγ</text>
<text transform="translate(506.00,309.50) rotate(-45)" font-size="13" text-anchor="end">TNFα</text>
<line x1="585.30" y1="201.80" x2="585.30" y2="301.10" stroke="#000" stroke-width="1.3"/>
<line x1="581.30" y1="202.40" x2="585.30" y2="202.40" stroke="#000" stroke-width="1.1"/>
<text x="580.70" y="207.30" font-size="13.7" text-anchor="end">2×10<tspan font-size="8" dx="1" dy="-5.1">4</tspan></text>
<line x1="581.30" y1="227.00" x2="585.30" y2="227.00" stroke="#000" stroke-width="1.1"/>
<text x="580.70" y="231.90" font-size="13.7" text-anchor="end">1.5×10<tspan font-size="8" dx="1" dy="-5.1">4</tspan></text>
<line x1="581.30" y1="251.50" x2="585.30" y2="251.50" stroke="#000" stroke-width="1.1"/>
<text x="580.70" y="256.40" font-size="13.7" text-anchor="end">1×10<tspan font-size="8" dx="1" dy="-5.1">4</tspan></text>
<line x1="581.30" y1="276.00" x2="585.30" y2="276.00" stroke="#000" stroke-width="1.1"/>
<text x="580.70" y="280.90" font-size="13.7" text-anchor="end">5×10<tspan font-size="8" dx="1" dy="-5.1">3</tspan></text>
<line x1="581.30" y1="300.50" x2="585.30" y2="300.50" stroke="#000" stroke-width="1.1"/>
<text x="579.70" y="305.40" font-size="13.7" text-anchor="end" font-weight="normal" fill="#000" >0</text>
<text transform="translate(533.40,247.80) rotate(-90)" font-size="13.5" text-anchor="middle"><tspan>CD38</tspan><tspan font-size="9.3" dy="-5">-</tspan><tspan dy="5">CD34</tspan><tspan font-size="9.3" dy="-5">-</tspan><tspan dy="5">cells</tspan></text>
<rect x="593.30" y="276.50" width="14.60" height="24.00" fill="#fff" stroke="#000" stroke-width="1.1"/>
<line x1="600.60" y1="276.50" x2="600.60" y2="266.70" stroke="#000" stroke-width="1"/>
<line x1="596.60" y1="266.70" x2="604.60" y2="266.70" stroke="#000" stroke-width="1"/>
<line x1="600.60" y1="276.50" x2="600.60" y2="286.40" stroke="#000" stroke-width="1"/>
<line x1="596.60" y1="286.40" x2="604.60" y2="286.40" stroke="#000" stroke-width="1"/>
<rect x="615.70" y="298.50" width="14.60" height="2.00" fill="#fff" stroke="#000" stroke-width="1.1"/>
<rect x="638.30" y="296.20" width="15.00" height="4.30" fill="#fff" stroke="#000" stroke-width="1.1"/>
<rect x="661.20" y="296.20" width="14.60" height="4.30" fill="#fff" stroke="#000" stroke-width="1.1"/>
<circle cx="600.80" cy="256.40" r="2.05" fill="#ffffff" stroke="#000" stroke-width="0.85"/>
<circle cx="600.30" cy="268.90" r="2.05" fill="#ffffff" stroke="#000" stroke-width="0.85"/>
<circle cx="606.60" cy="274.30" r="2.05" fill="#ffffff" stroke="#000" stroke-width="0.85"/>
<circle cx="594.90" cy="278.20" r="2.05" fill="#ffffff" stroke="#000" stroke-width="0.85"/>
<circle cx="598.10" cy="278.20" r="2.05" fill="#ffffff" stroke="#000" stroke-width="0.85"/>
<circle cx="601.40" cy="278.20" r="2.05" fill="#ffffff" stroke="#000" stroke-width="0.85"/>
<circle cx="604.70" cy="278.20" r="2.05" fill="#ffffff" stroke="#000" stroke-width="0.85"/>
<circle cx="606.60" cy="280.60" r="2.05" fill="#ffffff" stroke="#000" stroke-width="0.85"/>
<circle cx="600.30" cy="283.80" r="2.05" fill="#ffffff" stroke="#000" stroke-width="0.85"/>
<circle cx="600.80" cy="290.00" r="2.05" fill="#ffffff" stroke="#000" stroke-width="0.85"/>
<circle cx="620.00" cy="297.00" r="2.05" fill="#4a90e2" stroke="#000" stroke-width="0.85"/>
<circle cx="624.10" cy="295.20" r="2.05" fill="#4a90e2" stroke="#000" stroke-width="0.85"/>
<circle cx="625.90" cy="297.70" r="2.05" fill="#4a90e2" stroke="#000" stroke-width="0.85"/>
<circle cx="618.60" cy="299.10" r="2.05" fill="#4a90e2" stroke="#000" stroke-width="0.85"/>
<circle cx="622.20" cy="299.10" r="2.05" fill="#4a90e2" stroke="#000" stroke-width="0.85"/>
<circle cx="628.50" cy="299.60" r="2.05" fill="#4a90e2" stroke="#000" stroke-width="0.85"/>
<circle cx="617.00" cy="299.50" r="2.05" fill="#4a90e2" stroke="#000" stroke-width="0.85"/>
<circle cx="627.00" cy="296.00" r="2.05" fill="#4a90e2" stroke="#000" stroke-width="0.85"/>
<circle cx="643.80" cy="288.20" r="2.05" fill="#a000e6" stroke="#000" stroke-width="0.85"/>
<circle cx="647.80" cy="287.40" r="2.05" fill="#a000e6" stroke="#000" stroke-width="0.85"/>
<circle cx="643.80" cy="294.70" r="2.05" fill="#a000e6" stroke="#000" stroke-width="0.85"/>
<circle cx="647.80" cy="294.70" r="2.05" fill="#a000e6" stroke="#000" stroke-width="0.85"/>
<circle cx="640.50" cy="299.40" r="2.05" fill="#a000e6" stroke="#000" stroke-width="0.85"/>
<circle cx="644.10" cy="299.40" r="2.05" fill="#a000e6" stroke="#000" stroke-width="0.85"/>
<circle cx="647.80" cy="299.40" r="2.05" fill="#a000e6" stroke="#000" stroke-width="0.85"/>
<circle cx="651.40" cy="299.40" r="2.05" fill="#a000e6" stroke="#000" stroke-width="0.85"/>
<circle cx="670.40" cy="286.40" r="2.05" fill="#ec1c7c" stroke="#000" stroke-width="0.85"/>
<circle cx="666.80" cy="288.60" r="2.05" fill="#ec1c7c" stroke="#000" stroke-width="0.85"/>
<circle cx="670.40" cy="291.80" r="2.05" fill="#ec1c7c" stroke="#000" stroke-width="0.85"/>
<circle cx="666.80" cy="294.70" r="2.05" fill="#ec1c7c" stroke="#000" stroke-width="0.85"/>
<circle cx="662.70" cy="299.40" r="2.05" fill="#ec1c7c" stroke="#000" stroke-width="0.85"/>
<circle cx="666.30" cy="299.40" r="2.05" fill="#ec1c7c" stroke="#000" stroke-width="0.85"/>
<circle cx="670.00" cy="299.40" r="2.05" fill="#ec1c7c" stroke="#000" stroke-width="0.85"/>
<circle cx="673.60" cy="299.40" r="2.05" fill="#ec1c7c" stroke="#000" stroke-width="0.85"/>
<line x1="584.70" y1="300.50" x2="684.80" y2="300.50" stroke="#000" stroke-width="1.3"/>
<line x1="600.90" y1="251.80" x2="624.90" y2="251.80" stroke="#000" stroke-width="1"/>
<text x="613.70" y="249.70" font-size="10.9" text-anchor="middle" font-weight="normal" fill="#000" >0.0006</text>
<line x1="600.90" y1="237.60" x2="647.80" y2="237.60" stroke="#000" stroke-width="1"/>
<text x="625.55" y="235.40" font-size="10.9" text-anchor="middle" font-weight="normal" fill="#000" >0.0126</text>
<line x1="600.90" y1="225.40" x2="673.70" y2="225.40" stroke="#000" stroke-width="1"/>
<text x="634.60" y="222.90" font-size="10.9" text-anchor="middle" font-weight="normal" fill="#000" >0.0623</text>
<text transform="translate(608.10,309.50) rotate(-45)" font-size="13" text-anchor="end">No ILC1</text>
<text transform="translate(630.50,309.50) rotate(-45)" font-size="13" text-anchor="end">ILC1</text>
<text transform="translate(653.30,309.50) rotate(-45)" font-size="13" text-anchor="end">IFNγ</text>
<text transform="translate(676.00,309.50) rotate(-45)" font-size="13" text-anchor="end">TNFα</text>
<line x1="81.60" y1="583.20" x2="81.60" y2="682.40" stroke="#000" stroke-width="1.3"/>
<line x1="77.60" y1="583.80" x2="81.60" y2="583.80" stroke="#000" stroke-width="1.1"/>
<text x="76.10" y="588.70" font-size="13.7" text-anchor="end">4×10<tspan font-size="8" dx="1" dy="-5.1">2</tspan></text>
<line x1="77.60" y1="605.50" x2="81.60" y2="605.50" stroke="#000" stroke-width="1.1"/>
<text x="76.10" y="610.40" font-size="13.7" text-anchor="end">3×10<tspan font-size="8" dx="1" dy="-5.1">2</tspan></text>
<line x1="77.60" y1="627.30" x2="81.60" y2="627.30" stroke="#000" stroke-width="1.1"/>
<text x="76.10" y="632.20" font-size="13.7" text-anchor="end">2×10<tspan font-size="8" dx="1" dy="-5.1">2</tspan></text>
<line x1="77.60" y1="649.20" x2="81.60" y2="649.20" stroke="#000" stroke-width="1.1"/>
<text x="76.10" y="654.10" font-size="13.7" text-anchor="end">1×10<tspan font-size="8" dx="1" dy="-5.1">2</tspan></text>
<line x1="77.60" y1="671.00" x2="81.60" y2="671.00" stroke="#000" stroke-width="1.1"/>
<text x="75.10" y="675.90" font-size="13.7" text-anchor="end" font-weight="normal" fill="#000" >0</text>
<text transform="translate(33.60,629.50) rotate(-90)" font-size="13.5" text-anchor="middle"><tspan>CD34</tspan><tspan font-size="9.3" dy="-5">+</tspan><tspan dy="5">CD38</tspan><tspan font-size="9.3" dy="-5">-</tspan><tspan dy="5">cells</tspan></text>
<rect x="89.30" y="668.50" width="14.60" height="2.50" fill="#fff" stroke="#000" stroke-width="1.1"/>
<line x1="96.60" y1="668.50" x2="96.60" y2="661.20" stroke="#000" stroke-width="1"/>
<line x1="92.60" y1="661.20" x2="100.60" y2="661.20" stroke="#000" stroke-width="1"/>
<rect x="112.20" y="667.40" width="14.30" height="3.60" fill="#fff" stroke="#000" stroke-width="1.1"/>
<rect x="134.60" y="666.70" width="14.60" height="4.30" fill="#fff" stroke="#000" stroke-width="1.1"/>
<rect x="157.50" y="662.60" width="14.00" height="8.40" fill="#fff" stroke="#000" stroke-width="1.1"/>
<line x1="164.50" y1="662.60" x2="164.50" y2="656.00" stroke="#000" stroke-width="1"/>
<line x1="160.50" y1="656.00" x2="168.50" y2="656.00" stroke="#000" stroke-width="1"/>
<circle cx="96.60" cy="648.30" r="2.05" fill="#ffffff" stroke="#000" stroke-width="0.85"/>
<circle cx="96.60" cy="657.80" r="2.05" fill="#ffffff" stroke="#000" stroke-width="0.85"/>
<circle cx="96.60" cy="663.00" r="2.05" fill="#ffffff" stroke="#000" stroke-width="0.85"/>
<circle cx="96.60" cy="666.30" r="2.05" fill="#ffffff" stroke="#000" stroke-width="0.85"/>
<circle cx="91.00" cy="671.00" r="2.05" fill="#ffffff" stroke="#000" stroke-width="0.85"/>
<circle cx="94.00" cy="671.00" r="2.05" fill="#ffffff" stroke="#000" stroke-width="0.85"/>
<circle cx="96.60" cy="671.00" r="2.05" fill="#ffffff" stroke="#000" stroke-width="0.85"/>
<circle cx="99.50" cy="671.00" r="2.05" fill="#ffffff" stroke="#000" stroke-width="0.85"/>
<circle cx="102.40" cy="671.00" r="2.05" fill="#ffffff" stroke="#000" stroke-width="0.85"/>
<circle cx="117.30" cy="659.00" r="2.05" fill="#4a90e2" stroke="#000" stroke-width="0.85"/>
<circle cx="121.40" cy="657.80" r="2.05" fill="#4a90e2" stroke="#000" stroke-width="0.85"/>
<circle cx="121.40" cy="663.00" r="2.05" fill="#4a90e2" stroke="#000" stroke-width="0.85"/>
<circle cx="117.30" cy="666.70" r="2.05" fill="#4a90e2" stroke="#000" stroke-width="0.85"/>
<circle cx="113.40" cy="671.00" r="2.05" fill="#4a90e2" stroke="#000" stroke-width="0.85"/>
<circle cx="117.00" cy="671.00" r="2.05" fill="#4a90e2" stroke="#000" stroke-width="0.85"/>
<circle cx="121.10" cy="671.00" r="2.05" fill="#4a90e2" stroke="#000" stroke-width="0.85"/>
<circle cx="125.10" cy="671.00" r="2.05" fill="#4a90e2" stroke="#000" stroke-width="0.85"/>
<circle cx="140.10" cy="658.20" r="2.05" fill="#078a0a" stroke="#000" stroke-width="0.85"/>
<circle cx="144.00" cy="658.20" r="2.05" fill="#078a0a" stroke="#000" stroke-width="0.85"/>
<circle cx="144.00" cy="661.90" r="2.05" fill="#078a0a" stroke="#000" stroke-width="0.85"/>
<circle cx="140.10" cy="665.50" r="2.05" fill="#078a0a" stroke="#000" stroke-width="0.85"/>
<circle cx="136.30" cy="671.00" r="2.05" fill="#078a0a" stroke="#000" stroke-width="0.85"/>
<circle cx="140.10" cy="671.00" r="2.05" fill="#078a0a" stroke="#000" stroke-width="0.85"/>
<circle cx="144.00" cy="671.00" r="2.05" fill="#078a0a" stroke="#000" stroke-width="0.85"/>
<circle cx="147.70" cy="671.00" r="2.05" fill="#078a0a" stroke="#000" stroke-width="0.85"/>
<circle cx="164.90" cy="645.50" r="2.05" fill="#f56a14" stroke="#000" stroke-width="0.85"/>
<circle cx="164.90" cy="650.50" r="2.05" fill="#f56a14" stroke="#000" stroke-width="0.85"/>
<circle cx="164.90" cy="655.30" r="2.05" fill="#f56a14" stroke="#000" stroke-width="0.85"/>
<circle cx="164.90" cy="662.60" r="2.05" fill="#f56a14" stroke="#000" stroke-width="0.85"/>
<circle cx="158.90" cy="671.00" r="2.05" fill="#f56a14" stroke="#000" stroke-width="0.85"/>
<circle cx="162.60" cy="671.00" r="2.05" fill="#f56a14" stroke="#000" stroke-width="0.85"/>
<circle cx="166.20" cy="671.00" r="2.05" fill="#f56a14" stroke="#000" stroke-width="0.85"/>
<circle cx="170.00" cy="671.00" r="2.05" fill="#f56a14" stroke="#000" stroke-width="0.85"/>
<line x1="81.00" y1="681.80" x2="180.00" y2="681.80" stroke="#000" stroke-width="1.3"/>
<line x1="77.60" y1="671.00" x2="180.00" y2="671.00" stroke="#222" stroke-width="1.1"/>
<line x1="96.10" y1="593.90" x2="166.50" y2="593.90" stroke="#000" stroke-width="1"/>
<text x="129.15" y="592.50" font-size="10.9" text-anchor="middle" font-weight="normal" fill="#000" >0.0274</text>
<line x1="96.10" y1="607.10" x2="143.10" y2="607.10" stroke="#000" stroke-width="1"/>
<text x="118.80" y="604.80" font-size="9.4" text-anchor="middle" font-weight="normal" fill="#000" >NS</text>
<line x1="119.80" y1="626.40" x2="164.20" y2="626.40" stroke="#000" stroke-width="1"/>
<text x="142.70" y="624.30" font-size="9.4" text-anchor="middle" font-weight="normal" fill="#000" >NS</text>
<line x1="96.40" y1="633.40" x2="119.00" y2="633.40" stroke="#000" stroke-width="1"/>
<text x="108.00" y="632.80" font-size="9.4" text-anchor="middle" font-weight="normal" fill="#000" >NS</text>
<line x1="119.20" y1="653.80" x2="141.70" y2="653.80" stroke="#000" stroke-width="1"/>
<text x="130.00" y="652.00" font-size="9.4" text-anchor="middle" font-weight="normal" fill="#000" >NS</text>
<text transform="translate(101.60,693.10) rotate(-45)" font-size="13" text-anchor="end">No ILC1</text>
<text transform="translate(124.40,693.10) rotate(-45)" font-size="13" text-anchor="end">ILC1</text>
<text transform="translate(146.90,693.10) rotate(-45)" font-size="13" text-anchor="end">ILC1+anti-IFNγ</text>
<text transform="translate(169.50,693.10) rotate(-45)" font-size="13" text-anchor="end">ILC1+anti-TNFα</text>
<line x1="250.90" y1="583.10" x2="250.90" y2="682.60" stroke="#000" stroke-width="1.3"/>
<line x1="246.90" y1="583.70" x2="250.90" y2="583.70" stroke="#000" stroke-width="1.1"/>
<text x="245.90" y="588.60" font-size="13.7" text-anchor="end">3×10<tspan font-size="8" dx="1" dy="-5.1">2</tspan></text>
<line x1="246.90" y1="611.70" x2="250.90" y2="611.70" stroke="#000" stroke-width="1.1"/>
<text x="245.90" y="616.60" font-size="13.7" text-anchor="end">2×10<tspan font-size="8" dx="1" dy="-5.1">2</tspan></text>
<line x1="246.90" y1="639.70" x2="250.90" y2="639.70" stroke="#000" stroke-width="1.1"/>
<text x="245.90" y="644.60" font-size="13.7" text-anchor="end">1×10<tspan font-size="8" dx="1" dy="-5.1">2</tspan></text>
<line x1="246.90" y1="667.60" x2="250.90" y2="667.60" stroke="#000" stroke-width="1.1"/>
<text x="244.90" y="672.50" font-size="13.7" text-anchor="end" font-weight="normal" fill="#000" >0</text>
<text transform="translate(203.60,629.00) rotate(-90)" font-size="13.5" text-anchor="middle"><tspan>CD34</tspan><tspan font-size="9.3" dy="-5">+</tspan><tspan dy="5">CD38</tspan><tspan font-size="9.3" dy="-5">+</tspan><tspan dy="5">cells</tspan></text>
<rect x="258.30" y="664.50" width="14.70" height="3.10" fill="#fff" stroke="#000" stroke-width="1.1"/>
<line x1="265.65" y1="664.50" x2="265.65" y2="660.50" stroke="#000" stroke-width="1"/>
<line x1="261.65" y1="660.50" x2="269.65" y2="660.50" stroke="#000" stroke-width="1"/>
<rect x="281.20" y="652.40" width="14.30" height="15.20" fill="#fff" stroke="#000" stroke-width="1.1"/>
<line x1="288.35" y1="652.40" x2="288.35" y2="640.40" stroke="#000" stroke-width="1"/>
<line x1="284.35" y1="640.40" x2="292.35" y2="640.40" stroke="#000" stroke-width="1"/>
<line x1="288.35" y1="652.40" x2="288.35" y2="663.10" stroke="#000" stroke-width="1"/>
<line x1="284.35" y1="663.10" x2="292.35" y2="663.10" stroke="#000" stroke-width="1"/>
<rect x="303.80" y="645.30" width="14.90" height="22.30" fill="#fff" stroke="#000" stroke-width="1.1"/>
<line x1="311.25" y1="645.30" x2="311.25" y2="635.00" stroke="#000" stroke-width="1"/>
<line x1="307.25" y1="635.00" x2="315.25" y2="635.00" stroke="#000" stroke-width="1"/>
<rect x="326.50" y="665.00" width="14.50" height="2.60" fill="#fff" stroke="#000" stroke-width="1.1"/>
<line x1="333.75" y1="665.00" x2="333.75" y2="659.10" stroke="#000" stroke-width="1"/>
<line x1="329.75" y1="659.10" x2="337.75" y2="659.10" stroke="#000" stroke-width="1"/>
<circle cx="264.00" cy="657.20" r="2.05" fill="#ffffff" stroke="#000" stroke-width="0.85"/>
<circle cx="267.80" cy="657.20" r="2.05" fill="#ffffff" stroke="#000" stroke-width="0.85"/>
<circle cx="260.00" cy="663.80" r="2.05" fill="#ffffff" stroke="#000" stroke-width="0.85"/>
<circle cx="264.00" cy="662.60" r="2.05" fill="#ffffff" stroke="#000" stroke-width="0.85"/>
<circle cx="267.80" cy="663.80" r="2.05" fill="#ffffff" stroke="#000" stroke-width="0.85"/>
<circle cx="271.70" cy="662.60" r="2.05" fill="#ffffff" stroke="#000" stroke-width="0.85"/>
<circle cx="260.00" cy="667.40" r="2.05" fill="#ffffff" stroke="#000" stroke-width="0.85"/>
<circle cx="265.90" cy="667.00" r="2.05" fill="#ffffff" stroke="#000" stroke-width="0.85"/>
<circle cx="271.70" cy="667.40" r="2.05" fill="#ffffff" stroke="#000" stroke-width="0.85"/>
<circle cx="288.50" cy="626.60" r="2.05" fill="#4a90e2" stroke="#000" stroke-width="0.85"/>
<circle cx="288.50" cy="648.00" r="2.05" fill="#4a90e2" stroke="#000" stroke-width="0.85"/>
<circle cx="283.00" cy="651.00" r="2.05" fill="#4a90e2" stroke="#000" stroke-width="0.85"/>
<circle cx="294.30" cy="651.00" r="2.05" fill="#4a90e2" stroke="#000" stroke-width="0.85"/>
<circle cx="288.50" cy="659.10" r="2.05" fill="#4a90e2" stroke="#000" stroke-width="0.85"/>
<circle cx="294.30" cy="657.20" r="2.05" fill="#4a90e2" stroke="#000" stroke-width="0.85"/>
<circle cx="294.30" cy="661.60" r="2.05" fill="#4a90e2" stroke="#000" stroke-width="0.85"/>
<circle cx="283.00" cy="662.30" r="2.05" fill="#4a90e2" stroke="#000" stroke-width="0.85"/>
<circle cx="311.10" cy="629.00" r="2.05" fill="#078a0a" stroke="#000" stroke-width="0.85"/>
<circle cx="311.10" cy="633.40" r="2.05" fill="#078a0a" stroke="#000" stroke-width="0.85"/>
<circle cx="309.20" cy="644.50" r="2.05" fill="#078a0a" stroke="#000" stroke-width="0.85"/>
<circle cx="313.00" cy="643.10" r="2.05" fill="#078a0a" stroke="#000" stroke-width="0.85"/>
<circle cx="309.20" cy="650.70" r="2.05" fill="#078a0a" stroke="#000" stroke-width="0.85"/>
<circle cx="313.00" cy="652.80" r="2.05" fill="#078a0a" stroke="#000" stroke-width="0.85"/>
<circle cx="316.70" cy="651.80" r="2.05" fill="#078a0a" stroke="#000" stroke-width="0.85"/>
<circle cx="305.70" cy="654.60" r="2.05" fill="#078a0a" stroke="#000" stroke-width="0.85"/>
<circle cx="332.60" cy="657.20" r="2.05" fill="#f56a14" stroke="#000" stroke-width="0.85"/>
<circle cx="334.90" cy="655.30" r="2.05" fill="#f56a14" stroke="#000" stroke-width="0.85"/>
<circle cx="330.10" cy="663.80" r="2.05" fill="#f56a14" stroke="#000" stroke-width="0.85"/>
<circle cx="333.00" cy="666.70" r="2.05" fill="#f56a14" stroke="#000" stroke-width="0.85"/>
<circle cx="336.40" cy="666.00" r="2.05" fill="#f56a14" stroke="#000" stroke-width="0.85"/>
<circle cx="339.60" cy="666.00" r="2.05" fill="#f56a14" stroke="#000" stroke-width="0.85"/>
<circle cx="328.20" cy="666.70" r="2.05" fill="#f56a14" stroke="#000" stroke-width="0.85"/>
<line x1="250.30" y1="682.00" x2="350.00" y2="682.00" stroke="#000" stroke-width="1.3"/>
<line x1="246.90" y1="667.60" x2="350.00" y2="667.60" stroke="#222" stroke-width="1.1"/>
<line x1="268.20" y1="583.50" x2="336.40" y2="583.50" stroke="#000" stroke-width="1"/>
<text x="299.90" y="581.00" font-size="9.4" text-anchor="middle" font-weight="normal" fill="#000" >NS</text>
<line x1="267.00" y1="599.10" x2="311.60" y2="599.10" stroke="#000" stroke-width="1"/>
<text x="290.15" y="597.50" font-size="10.9" text-anchor="middle" font-weight="normal" fill="#000" >0.0004</text>
<line x1="287.90" y1="611.30" x2="311.60" y2="611.30" stroke="#000" stroke-width="1"/>
<text x="299.00" y="609.70" font-size="9.4" text-anchor="middle" font-weight="normal" fill="#000" >NS</text>
<line x1="265.80" y1="623.00" x2="289.50" y2="623.00" stroke="#000" stroke-width="1"/>
<text x="276.95" y="621.70" font-size="10.9" text-anchor="middle" font-weight="normal" fill="#000" >0.0299</text>
<line x1="289.50" y1="623.00" x2="336.40" y2="623.00" stroke="#000" stroke-width="1"/>
<text x="313.95" y="621.70" font-size="10.9" text-anchor="middle" font-weight="normal" fill="#000" >0.0299</text>
<text transform="translate(270.70,693.30) rotate(-45)" font-size="13" text-anchor="end">No ILC1</text>
<text transform="translate(293.40,693.30) rotate(-45)" font-size="13" text-anchor="end">ILC1</text>
<text transform="translate(316.20,693.30) rotate(-45)" font-size="13" text-anchor="end">ILC1+anti-IFNγ</text>
<text transform="translate(338.80,693.30) rotate(-45)" font-size="13" text-anchor="end">ILC1+anti-TNFα</text>
<line x1="418.30" y1="583.00" x2="418.30" y2="682.40" stroke="#000" stroke-width="1.3"/>
<line x1="414.30" y1="583.60" x2="418.30" y2="583.60" stroke="#000" stroke-width="1.1"/>
<text x="413.60" y="588.50" font-size="13.7" text-anchor="end">8×10<tspan font-size="8" dx="1" dy="-5.1">3</tspan></text>
<line x1="414.30" y1="608.20" x2="418.30" y2="608.20" stroke="#000" stroke-width="1.1"/>
<text x="413.60" y="613.10" font-size="13.7" text-anchor="end">6×10<tspan font-size="8" dx="1" dy="-5.1">3</tspan></text>
<line x1="414.30" y1="632.70" x2="418.30" y2="632.70" stroke="#000" stroke-width="1.1"/>
<text x="413.60" y="637.60" font-size="13.7" text-anchor="end">4×10<tspan font-size="8" dx="1" dy="-5.1">3</tspan></text>
<line x1="414.30" y1="657.30" x2="418.30" y2="657.30" stroke="#000" stroke-width="1.1"/>
<text x="413.60" y="662.20" font-size="13.7" text-anchor="end">2×10<tspan font-size="8" dx="1" dy="-5.1">3</tspan></text>
<line x1="414.30" y1="681.80" x2="418.30" y2="681.80" stroke="#000" stroke-width="1.1"/>
<text x="412.60" y="686.70" font-size="13.7" text-anchor="end" font-weight="normal" fill="#000" >0</text>
<text transform="translate(371.00,629.00) rotate(-90)" font-size="13.5" text-anchor="middle"><tspan>CD34</tspan><tspan font-size="9.3" dy="-5">-</tspan><tspan dy="5">CD38</tspan><tspan font-size="9.3" dy="-5">+</tspan><tspan dy="5">cells</tspan></text>
<rect x="426.30" y="643.20" width="14.30" height="38.60" fill="#fff" stroke="#000" stroke-width="1.1"/>
<line x1="433.45" y1="643.20" x2="433.45" y2="626.50" stroke="#000" stroke-width="1"/>
<line x1="429.45" y1="626.50" x2="437.45" y2="626.50" stroke="#000" stroke-width="1"/>
<line x1="433.45" y1="643.20" x2="433.45" y2="658.30" stroke="#000" stroke-width="1"/>
<line x1="429.45" y1="658.30" x2="437.45" y2="658.30" stroke="#000" stroke-width="1"/>
<rect x="449.20" y="670.00" width="14.30" height="11.80" fill="#fff" stroke="#000" stroke-width="1.1"/>
<line x1="456.35" y1="670.00" x2="456.35" y2="666.30" stroke="#000" stroke-width="1"/>
<line x1="452.35" y1="666.30" x2="460.35" y2="666.30" stroke="#000" stroke-width="1"/>
<rect x="471.60" y="653.20" width="14.60" height="28.60" fill="#fff" stroke="#000" stroke-width="1.1"/>
<line x1="478.90" y1="653.20" x2="478.90" y2="642.70" stroke="#000" stroke-width="1"/>
<line x1="474.90" y1="642.70" x2="482.90" y2="642.70" stroke="#000" stroke-width="1"/>
<rect x="494.50" y="664.90" width="14.00" height="16.90" fill="#fff" stroke="#000" stroke-width="1.1"/>
<line x1="501.50" y1="664.90" x2="501.50" y2="652.40" stroke="#000" stroke-width="1"/>
<line x1="497.50" y1="652.40" x2="505.50" y2="652.40" stroke="#000" stroke-width="1"/>
<circle cx="433.60" cy="614.90" r="2.05" fill="#ffffff" stroke="#000" stroke-width="0.85"/>
<circle cx="433.60" cy="627.90" r="2.05" fill="#ffffff" stroke="#000" stroke-width="0.85"/>
<circle cx="428.00" cy="640.80" r="2.05" fill="#ffffff" stroke="#000" stroke-width="0.85"/>
<circle cx="439.40" cy="639.30" r="2.05" fill="#ffffff" stroke="#000" stroke-width="0.85"/>
<circle cx="439.40" cy="644.40" r="2.05" fill="#ffffff" stroke="#000" stroke-width="0.85"/>
<circle cx="433.60" cy="652.70" r="2.05" fill="#ffffff" stroke="#000" stroke-width="0.85"/>
<circle cx="439.40" cy="659.00" r="2.05" fill="#ffffff" stroke="#000" stroke-width="0.85"/>
<circle cx="428.00" cy="662.70" r="2.05" fill="#ffffff" stroke="#000" stroke-width="0.85"/>
<circle cx="456.20" cy="661.20" r="2.05" fill="#4a90e2" stroke="#000" stroke-width="0.85"/>
<circle cx="450.40" cy="669.00" r="2.05" fill="#4a90e2" stroke="#000" stroke-width="0.85"/>
<circle cx="453.70" cy="668.50" r="2.05" fill="#4a90e2" stroke="#000" stroke-width="0.85"/>
<circle cx="456.70" cy="669.20" r="2.05" fill="#4a90e2" stroke="#000" stroke-width="0.85"/>
<circle cx="459.90" cy="669.50" r="2.05" fill="#4a90e2" stroke="#000" stroke-width="0.85"/>
<circle cx="461.60" cy="671.40" r="2.05" fill="#4a90e2" stroke="#000" stroke-width="0.85"/>
<circle cx="458.10" cy="671.40" r="2.05" fill="#4a90e2" stroke="#000" stroke-width="0.85"/>
<circle cx="478.60" cy="634.20" r="2.05" fill="#078a0a" stroke="#000" stroke-width="0.85"/>
<circle cx="480.60" cy="647.60" r="2.05" fill="#078a0a" stroke="#000" stroke-width="0.85"/>
<circle cx="477.10" cy="650.00" r="2.05" fill="#078a0a" stroke="#000" stroke-width="0.85"/>
<circle cx="480.60" cy="651.40" r="2.05" fill="#078a0a" stroke="#000" stroke-width="0.85"/>
<circle cx="484.40" cy="650.30" r="2.05" fill="#078a0a" stroke="#000" stroke-width="0.85"/>
<circle cx="478.90" cy="661.60" r="2.05" fill="#078a0a" stroke="#000" stroke-width="0.85"/>
<circle cx="482.50" cy="663.40" r="2.05" fill="#078a0a" stroke="#000" stroke-width="0.85"/>
<circle cx="474.90" cy="666.00" r="2.05" fill="#078a0a" stroke="#000" stroke-width="0.85"/>
<circle cx="501.80" cy="638.90" r="2.05" fill="#f56a14" stroke="#000" stroke-width="0.85"/>
<circle cx="501.80" cy="656.40" r="2.05" fill="#f56a14" stroke="#000" stroke-width="0.85"/>
<circle cx="496.40" cy="664.90" r="2.05" fill="#f56a14" stroke="#000" stroke-width="0.85"/>
<circle cx="501.80" cy="664.90" r="2.05" fill="#f56a14" stroke="#000" stroke-width="0.85"/>
<circle cx="507.00" cy="668.10" r="2.05" fill="#f56a14" stroke="#000" stroke-width="0.85"/>
<circle cx="501.80" cy="672.20" r="2.05" fill="#f56a14" stroke="#000" stroke-width="0.85"/>
<circle cx="507.00" cy="673.60" r="2.05" fill="#f56a14" stroke="#000" stroke-width="0.85"/>
<circle cx="496.40" cy="676.50" r="2.05" fill="#f56a14" stroke="#000" stroke-width="0.85"/>
<line x1="417.70" y1="681.80" x2="515.50" y2="681.80" stroke="#000" stroke-width="1.3"/>
<line x1="433.10" y1="580.20" x2="502.30" y2="580.20" stroke="#000" stroke-width="1"/>
<text x="466.85" y="578.90" font-size="9.4" text-anchor="middle" font-weight="normal" fill="#000" >NS</text>
<line x1="433.90" y1="592.60" x2="481.20" y2="592.60" stroke="#000" stroke-width="1"/>
<text x="458.05" y="591.00" font-size="9.4" text-anchor="middle" font-weight="normal" fill="#000" >NS</text>
<line x1="435.20" y1="607.70" x2="461.50" y2="607.70" stroke="#000" stroke-width="1"/>
<text x="449.20" y="604.80" font-size="10.9" text-anchor="middle" font-weight="normal" fill="#000" >0.0276</text>
<line x1="456.50" y1="613.00" x2="502.30" y2="613.00" stroke="#000" stroke-width="1"/>
<text x="479.35" y="611.80" font-size="9.4" text-anchor="middle" font-weight="normal" fill="#000" >NS</text>
<line x1="456.30" y1="630.70" x2="479.50" y2="630.70" stroke="#000" stroke-width="1"/>
<text x="465.75" y="626.80" font-size="10.9" text-anchor="middle" font-weight="normal" fill="#000" >0.0185</text>
<text transform="translate(438.50,693.10) rotate(-45)" font-size="13" text-anchor="end">No ILC1</text>
<text transform="translate(461.40,693.10) rotate(-45)" font-size="13" text-anchor="end">ILC1</text>
<text transform="translate(483.90,693.10) rotate(-45)" font-size="13" text-anchor="end">ILC1+anti-IFNγ</text>
<text transform="translate(506.50,693.10) rotate(-45)" font-size="13" text-anchor="end">ILC1+anti-TNFα</text>
<line x1="585.10" y1="583.00" x2="585.10" y2="682.40" stroke="#000" stroke-width="1.3"/>
<line x1="581.10" y1="583.60" x2="585.10" y2="583.60" stroke="#000" stroke-width="1.1"/>
<text x="580.60" y="588.50" font-size="13.7" text-anchor="end">6×10<tspan font-size="8" dx="1" dy="-5.1">3</tspan></text>
<line x1="581.10" y1="616.30" x2="585.10" y2="616.30" stroke="#000" stroke-width="1.1"/>
<text x="580.60" y="621.20" font-size="13.7" text-anchor="end">4×10<tspan font-size="8" dx="1" dy="-5.1">3</tspan></text>
<line x1="581.10" y1="649.00" x2="585.10" y2="649.00" stroke="#000" stroke-width="1.1"/>
<text x="580.60" y="653.90" font-size="13.7" text-anchor="end">2×10<tspan font-size="8" dx="1" dy="-5.1">3</tspan></text>
<line x1="581.10" y1="681.80" x2="585.10" y2="681.80" stroke="#000" stroke-width="1.1"/>
<text x="579.60" y="686.70" font-size="13.7" text-anchor="end" font-weight="normal" fill="#000" >0</text>
<text transform="translate(537.80,629.00) rotate(-90)" font-size="13.5" text-anchor="middle"><tspan>CD34</tspan><tspan font-size="9.3" dy="-5">-</tspan><tspan dy="5">CD38</tspan><tspan font-size="9.3" dy="-5">-</tspan><tspan dy="5">cells</tspan></text>
<rect x="593.30" y="664.50" width="14.60" height="17.30" fill="#fff" stroke="#000" stroke-width="1.1"/>
<line x1="600.60" y1="664.50" x2="600.60" y2="652.10" stroke="#000" stroke-width="1"/>
<line x1="596.60" y1="652.10" x2="604.60" y2="652.10" stroke="#000" stroke-width="1"/>
<line x1="600.60" y1="664.50" x2="600.60" y2="675.20" stroke="#000" stroke-width="1"/>
<line x1="596.60" y1="675.20" x2="604.60" y2="675.20" stroke="#000" stroke-width="1"/>
<rect x="615.40" y="678.20" width="15.20" height="3.60" fill="#fff" stroke="#000" stroke-width="1.1"/>
<rect x="638.50" y="675.60" width="15.00" height="6.20" fill="#fff" stroke="#000" stroke-width="1.1"/>
<rect x="661.30" y="678.20" width="15.00" height="3.60" fill="#fff" stroke="#000" stroke-width="1.1"/>
<circle cx="600.80" cy="644.10" r="2.05" fill="#ffffff" stroke="#000" stroke-width="0.85"/>
<circle cx="600.80" cy="652.10" r="2.05" fill="#ffffff" stroke="#000" stroke-width="0.85"/>
<circle cx="595.20" cy="660.10" r="2.05" fill="#ffffff" stroke="#000" stroke-width="0.85"/>
<circle cx="606.60" cy="660.10" r="2.05" fill="#ffffff" stroke="#000" stroke-width="0.85"/>
<circle cx="600.80" cy="667.40" r="2.05" fill="#ffffff" stroke="#000" stroke-width="0.85"/>
<circle cx="595.20" cy="672.60" r="2.05" fill="#ffffff" stroke="#000" stroke-width="0.85"/>
<circle cx="595.20" cy="676.90" r="2.05" fill="#ffffff" stroke="#000" stroke-width="0.85"/>
<circle cx="606.60" cy="675.20" r="2.05" fill="#ffffff" stroke="#000" stroke-width="0.85"/>
<circle cx="620.00" cy="673.30" r="2.05" fill="#4a90e2" stroke="#000" stroke-width="0.85"/>
<circle cx="623.20" cy="672.30" r="2.05" fill="#4a90e2" stroke="#000" stroke-width="0.85"/>
<circle cx="625.90" cy="674.70" r="2.05" fill="#4a90e2" stroke="#000" stroke-width="0.85"/>
<circle cx="620.80" cy="676.20" r="2.05" fill="#4a90e2" stroke="#000" stroke-width="0.85"/>
<circle cx="624.40" cy="676.90" r="2.05" fill="#4a90e2" stroke="#000" stroke-width="0.85"/>
<circle cx="617.80" cy="679.10" r="2.05" fill="#4a90e2" stroke="#000" stroke-width="0.85"/>
<circle cx="621.50" cy="679.60" r="2.05" fill="#4a90e2" stroke="#000" stroke-width="0.85"/>
<circle cx="627.30" cy="679.10" r="2.05" fill="#4a90e2" stroke="#000" stroke-width="0.85"/>
<circle cx="644.90" cy="669.60" r="2.05" fill="#078a0a" stroke="#000" stroke-width="0.85"/>
<circle cx="647.00" cy="670.40" r="2.05" fill="#078a0a" stroke="#000" stroke-width="0.85"/>
<circle cx="643.40" cy="674.30" r="2.05" fill="#078a0a" stroke="#000" stroke-width="0.85"/>
<circle cx="647.00" cy="675.50" r="2.05" fill="#078a0a" stroke="#000" stroke-width="0.85"/>
<circle cx="640.50" cy="679.10" r="2.05" fill="#078a0a" stroke="#000" stroke-width="0.85"/>
<circle cx="644.90" cy="679.10" r="2.05" fill="#078a0a" stroke="#000" stroke-width="0.85"/>
<circle cx="649.20" cy="678.40" r="2.05" fill="#078a0a" stroke="#000" stroke-width="0.85"/>
<circle cx="651.40" cy="679.90" r="2.05" fill="#078a0a" stroke="#000" stroke-width="0.85"/>
<circle cx="663.10" cy="673.70" r="2.05" fill="#f56a14" stroke="#000" stroke-width="0.85"/>
<circle cx="666.80" cy="675.20" r="2.05" fill="#f56a14" stroke="#000" stroke-width="0.85"/>
<circle cx="664.60" cy="677.20" r="2.05" fill="#f56a14" stroke="#000" stroke-width="0.85"/>
<circle cx="669.40" cy="677.70" r="2.05" fill="#f56a14" stroke="#000" stroke-width="0.85"/>
<circle cx="662.40" cy="679.90" r="2.05" fill="#f56a14" stroke="#000" stroke-width="0.85"/>
<circle cx="666.80" cy="679.90" r="2.05" fill="#f56a14" stroke="#000" stroke-width="0.85"/>
<circle cx="671.10" cy="679.60" r="2.05" fill="#f56a14" stroke="#000" stroke-width="0.85"/>
<circle cx="674.30" cy="679.60" r="2.05" fill="#f56a14" stroke="#000" stroke-width="0.85"/>
<line x1="584.50" y1="681.80" x2="685.00" y2="681.80" stroke="#000" stroke-width="1.3"/>
<line x1="600.10" y1="612.50" x2="669.30" y2="612.50" stroke="#000" stroke-width="1"/>
<text x="633.85" y="609.90" font-size="10.9" text-anchor="middle" font-weight="normal" fill="#000" >0.0008</text>
<line x1="600.10" y1="627.90" x2="646.10" y2="627.90" stroke="#000" stroke-width="1"/>
<text x="623.35" y="623.40" font-size="10.9" text-anchor="middle" font-weight="normal" fill="#000" >0.0026</text>
<line x1="600.10" y1="640.10" x2="623.80" y2="640.10" stroke="#000" stroke-width="1"/>
<text x="610.80" y="638.80" font-size="10.9" text-anchor="middle" font-weight="normal" fill="#000" >0.0008</text>
<line x1="622.20" y1="653.50" x2="666.90" y2="653.50" stroke="#000" stroke-width="1"/>
<text x="643.55" y="651.90" font-size="9.4" text-anchor="middle" font-weight="normal" fill="#000" >NS</text>
<line x1="622.20" y1="666.00" x2="647.80" y2="666.00" stroke="#000" stroke-width="1"/>
<text x="634.70" y="664.70" font-size="9.4" text-anchor="middle" font-weight="normal" fill="#000" >NS</text>
<text transform="translate(605.60,693.10) rotate(-45)" font-size="13" text-anchor="end">No ILC1</text>
<text transform="translate(628.00,693.10) rotate(-45)" font-size="13" text-anchor="end">ILC1</text>
<text transform="translate(651.00,693.10) rotate(-45)" font-size="13" text-anchor="end">ILC1+anti-IFNγ</text>
<text transform="translate(673.80,693.10) rotate(-45)" font-size="13" text-anchor="end">ILC1+anti-TNFα</text>
</svg>
</body></html>
